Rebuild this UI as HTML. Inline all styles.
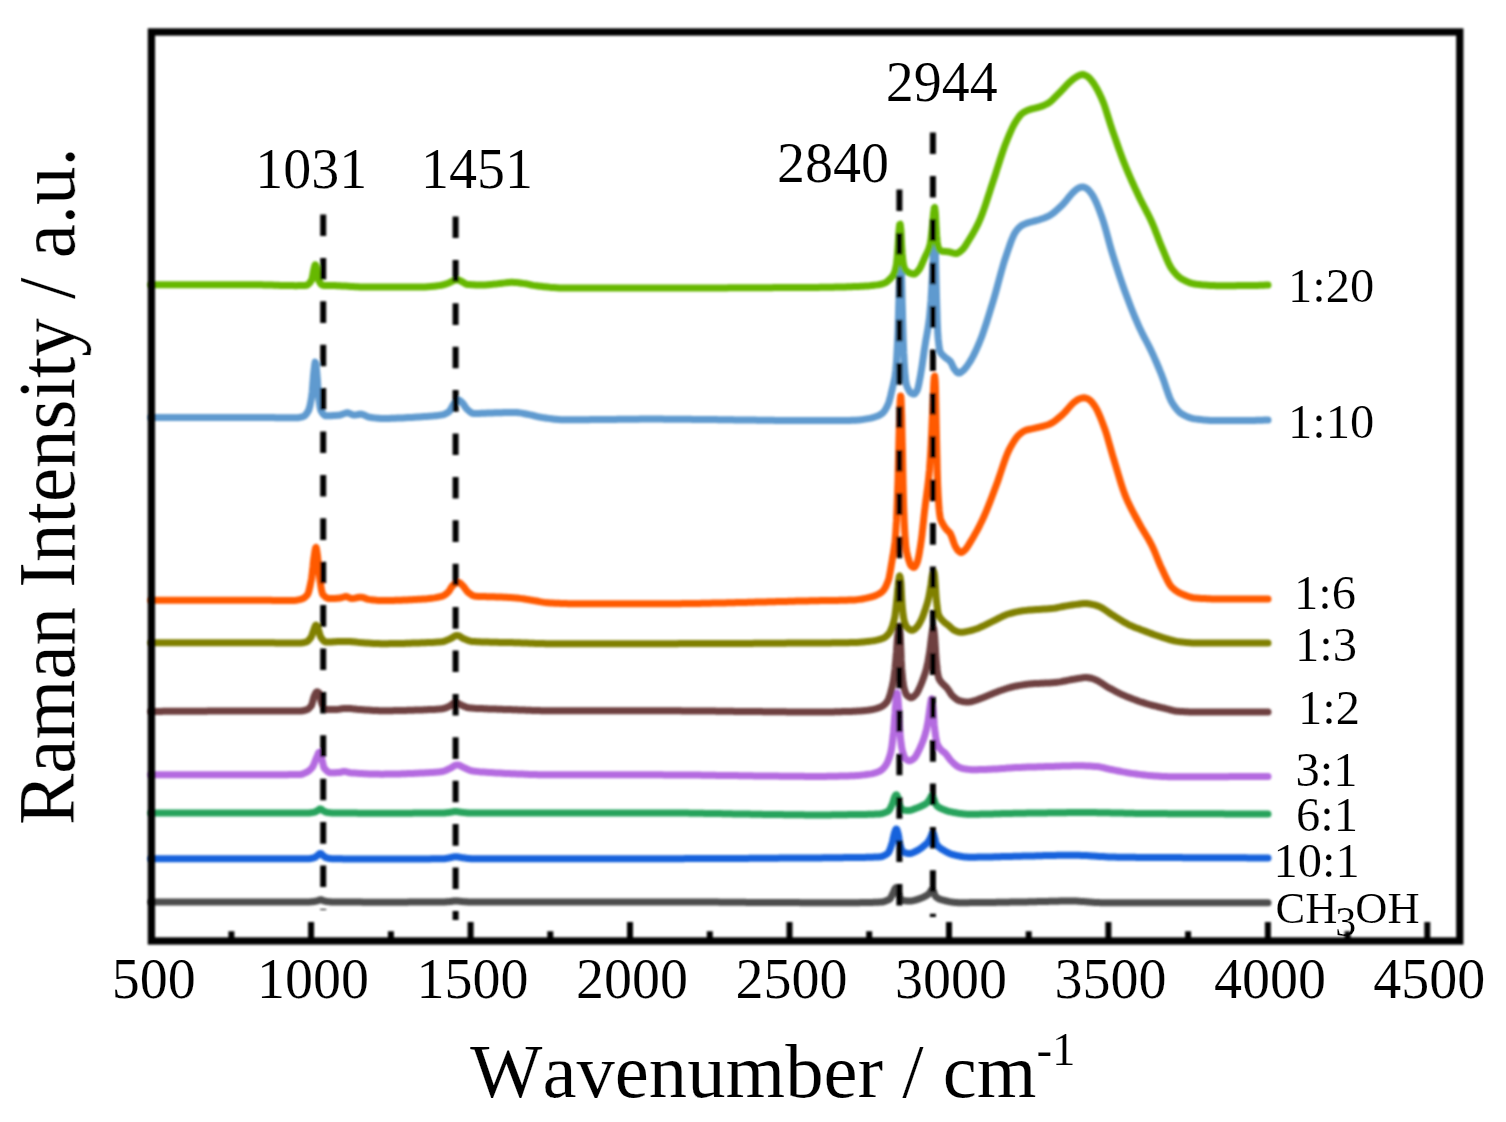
<!DOCTYPE html>
<html lang="en"><head><meta charset="utf-8"><title>Raman spectra</title>
<style>html,body{margin:0;padding:0;background:#fff}body{width:1506px;height:1122px;overflow:hidden}svg{display:block}</style></head>
<body>
<svg width="1506" height="1122" viewBox="0 0 1506 1122" role="img" aria-label="Raman spectra of methanol-water mixtures">
<defs><filter id="bl" x="0" y="0" width="1506" height="1122" filterUnits="userSpaceOnUse"><feGaussianBlur stdDeviation="0.8"/></filter><filter id="bt" x="0" y="0" width="1506" height="1122" filterUnits="userSpaceOnUse"><feGaussianBlur stdDeviation="0.5"/></filter></defs>
<rect width="1506" height="1122" fill="#fff"/>
<g filter="url(#bl)">
<g fill="none" stroke-width="7" stroke-linecap="round" stroke-linejoin="round">
<path stroke="#4D4D4D" d="M151.0 901.9 L152.5 901.9 L154.0 901.9 L155.5 901.9 L157.0 901.9 L158.5 901.9 L160.0 901.9 L161.5 901.9 L163.0 901.9 L164.5 901.9 L166.0 901.9 L167.5 901.9 L169.0 901.9 L170.5 901.9 L172.0 901.9 L173.5 901.9 L175.0 901.9 L176.5 901.9 L178.0 901.9 L179.5 901.9 L181.0 901.9 L182.5 901.9 L184.0 901.9 L185.5 901.9 L187.0 901.9 L188.5 901.9 L190.0 901.9 L191.5 901.9 L193.0 901.9 L194.5 901.9 L196.0 901.9 L197.5 901.9 L199.0 901.9 L200.5 901.9 L202.0 901.9 L203.5 901.9 L205.0 901.9 L206.5 901.9 L208.0 901.9 L209.5 901.9 L211.0 901.9 L212.5 901.9 L214.0 901.9 L215.5 901.9 L217.0 901.9 L218.5 901.9 L220.0 901.9 L221.5 901.9 L223.0 901.9 L224.5 901.9 L226.0 901.9 L227.5 901.9 L229.0 901.9 L230.5 901.9 L232.0 901.9 L233.5 901.9 L235.0 901.9 L236.5 901.9 L238.0 901.9 L239.5 901.9 L241.0 901.9 L242.5 901.9 L244.0 901.9 L245.5 901.9 L247.0 901.9 L248.5 901.9 L250.0 901.9 L251.5 901.9 L253.0 901.9 L254.5 901.9 L256.0 901.9 L257.5 901.9 L259.0 901.9 L260.5 901.9 L262.0 901.9 L263.5 901.9 L265.0 901.9 L266.5 901.9 L268.0 901.9 L269.5 901.9 L271.0 901.9 L272.5 901.9 L274.0 901.9 L275.5 901.9 L277.0 901.9 L278.5 901.9 L280.0 901.9 L281.5 901.9 L283.0 901.9 L284.5 901.9 L286.0 901.9 L287.5 901.9 L289.0 901.9 L290.5 901.9 L292.0 901.9 L293.5 901.9 L295.0 901.9 L296.5 901.9 L298.0 901.9 L299.5 901.9 L300.2 901.9 L300.7 901.9 L301.0 901.9 L301.2 901.9 L301.7 901.9 L302.2 901.9 L302.5 901.9 L302.7 901.9 L303.2 901.9 L303.7 901.9 L304.0 901.9 L304.2 901.9 L304.7 901.9 L305.2 901.9 L305.5 901.9 L305.7 901.9 L306.2 901.9 L306.7 901.9 L307.0 901.9 L307.2 901.9 L307.7 901.9 L308.2 901.9 L308.5 901.9 L308.7 901.9 L309.2 901.9 L309.7 901.9 L310.0 901.9 L310.2 901.9 L310.7 901.8 L311.2 901.8 L311.5 901.8 L311.7 901.8 L312.2 901.7 L312.7 901.7 L313.0 901.6 L313.2 901.6 L313.7 901.5 L314.2 901.5 L314.5 901.4 L314.7 901.4 L315.2 901.3 L315.7 901.2 L316.0 901.2 L316.2 901.1 L316.7 901.0 L317.2 900.9 L317.5 900.8 L317.7 900.7 L318.2 900.6 L318.7 900.4 L319.0 900.3 L319.2 900.1 L319.7 899.9 L320.2 899.8 L320.5 899.7 L320.7 899.7 L321.2 899.8 L321.7 900.0 L322.0 900.1 L322.2 900.2 L322.7 900.5 L323.2 900.6 L323.5 900.7 L323.7 900.8 L324.2 900.9 L324.7 901.0 L325.0 901.1 L325.2 901.2 L325.7 901.3 L326.2 901.3 L326.5 901.4 L326.7 901.4 L327.2 901.5 L327.7 901.6 L328.0 901.6 L328.2 901.6 L328.7 901.7 L329.2 901.7 L329.5 901.8 L329.7 901.8 L330.2 901.8 L330.7 901.8 L331.0 901.9 L331.2 901.9 L331.7 901.9 L332.2 901.9 L332.5 901.9 L332.7 901.9 L333.2 901.9 L333.7 901.9 L334.0 901.9 L334.2 901.9 L334.7 901.9 L335.5 901.9 L337.0 901.9 L338.5 902.0 L340.0 902.0 L341.5 902.0 L343.0 902.0 L344.5 902.0 L346.0 902.0 L347.5 902.1 L349.0 902.1 L350.5 902.1 L352.0 902.1 L353.5 902.1 L355.0 902.1 L356.5 902.1 L358.0 902.1 L359.5 902.1 L361.0 902.1 L362.5 902.2 L364.0 902.2 L365.5 902.2 L367.0 902.2 L368.5 902.2 L370.0 902.2 L371.5 902.2 L373.0 902.2 L374.5 902.2 L376.0 902.2 L377.5 902.2 L379.0 902.2 L380.5 902.2 L382.0 902.2 L383.5 902.2 L385.0 902.2 L386.5 902.2 L388.0 902.2 L389.5 902.2 L391.0 902.2 L392.5 902.2 L394.0 902.2 L395.5 902.2 L397.0 902.2 L398.5 902.2 L400.0 902.2 L401.5 902.2 L403.0 902.2 L404.5 902.2 L406.0 902.2 L407.5 902.2 L409.0 902.1 L410.5 902.1 L412.0 902.1 L413.5 902.1 L415.0 902.1 L416.5 902.1 L418.0 902.1 L419.5 902.1 L421.0 902.1 L422.5 902.1 L424.0 902.1 L425.5 902.1 L427.0 902.0 L428.5 902.0 L430.0 902.0 L431.5 902.0 L433.0 902.0 L434.5 902.0 L436.0 902.0 L437.5 902.0 L439.0 901.9 L440.2 901.9 L440.5 901.9 L440.7 901.9 L441.2 901.9 L441.7 901.9 L442.0 901.9 L442.2 901.9 L442.7 901.9 L443.2 901.9 L443.5 901.9 L443.7 901.9 L444.2 901.9 L444.7 901.9 L445.0 901.9 L445.2 901.9 L445.7 901.9 L446.2 901.8 L446.5 901.8 L446.7 901.8 L447.2 901.8 L447.7 901.8 L448.0 901.7 L448.2 901.7 L448.7 901.7 L449.2 901.6 L449.5 901.6 L449.7 901.6 L450.2 901.5 L450.7 901.5 L451.0 901.5 L451.2 901.4 L451.7 901.4 L452.2 901.3 L452.5 901.3 L452.7 901.2 L453.2 901.1 L453.7 901.1 L454.0 901.0 L454.2 901.0 L454.7 900.9 L455.2 900.9 L455.5 900.9 L455.7 900.9 L456.2 900.9 L456.7 900.9 L457.0 900.9 L457.2 900.9 L457.7 901.0 L458.2 901.0 L458.5 901.1 L458.7 901.1 L459.2 901.2 L459.7 901.2 L460.0 901.3 L460.2 901.3 L460.7 901.4 L461.2 901.4 L461.5 901.5 L461.7 901.5 L462.2 901.5 L462.7 901.6 L463.0 901.6 L463.2 901.6 L463.7 901.7 L464.2 901.7 L464.5 901.7 L464.7 901.7 L465.2 901.8 L465.7 901.8 L466.0 901.8 L466.2 901.8 L466.7 901.8 L467.2 901.8 L467.5 901.9 L467.7 901.9 L468.2 901.9 L468.7 901.9 L469.0 901.9 L469.2 901.9 L469.7 901.9 L470.2 901.9 L470.5 901.9 L470.7 901.9 L471.2 901.9 L471.7 901.9 L472.0 901.9 L472.2 901.9 L472.7 901.9 L473.2 901.9 L473.5 901.9 L473.7 901.9 L474.2 901.9 L474.7 901.9 L475.0 901.9 L476.5 901.9 L478.0 901.9 L479.5 901.9 L481.0 901.9 L482.5 901.9 L484.0 901.9 L485.5 901.9 L487.0 901.9 L488.5 901.9 L490.0 901.9 L491.5 901.9 L493.0 901.9 L494.5 901.9 L496.0 901.9 L497.5 901.9 L499.0 901.9 L500.5 901.9 L502.0 901.9 L503.5 901.9 L505.0 901.9 L506.5 901.9 L508.0 901.9 L509.5 901.9 L511.0 901.9 L512.5 901.9 L514.0 901.9 L515.5 901.9 L517.0 901.9 L518.5 901.9 L520.0 901.9 L521.5 901.9 L523.0 901.9 L524.5 901.9 L526.0 901.9 L527.5 901.9 L529.0 901.9 L530.5 901.9 L532.0 901.9 L533.5 901.9 L535.0 901.9 L536.5 901.9 L538.0 901.9 L539.5 901.9 L541.0 901.9 L542.5 901.9 L544.0 901.9 L545.5 901.9 L547.0 901.9 L548.5 901.9 L550.0 901.9 L551.5 901.9 L553.0 901.9 L554.5 901.9 L556.0 901.9 L557.5 901.9 L559.0 901.9 L560.5 901.9 L562.0 901.9 L563.5 901.9 L565.0 901.9 L566.5 901.9 L568.0 901.9 L569.5 901.9 L571.0 901.9 L572.5 901.9 L574.0 901.9 L575.5 901.9 L577.0 901.9 L578.5 901.9 L580.0 901.9 L581.5 901.9 L583.0 901.9 L584.5 901.9 L586.0 901.9 L587.5 901.9 L589.0 901.9 L590.5 901.9 L592.0 901.9 L593.5 901.9 L595.0 901.9 L596.5 901.9 L598.0 901.9 L599.5 901.9 L601.0 901.9 L602.5 901.9 L604.0 901.9 L605.5 901.9 L607.0 901.9 L608.5 901.9 L610.0 901.9 L611.5 901.9 L613.0 901.9 L614.5 901.9 L616.0 901.9 L617.5 901.9 L619.0 901.9 L620.5 901.9 L622.0 901.9 L623.5 901.9 L625.0 901.9 L626.5 901.9 L628.0 901.9 L629.5 901.9 L631.0 901.9 L632.5 901.9 L634.0 901.9 L635.5 901.9 L637.0 901.9 L638.5 901.9 L640.0 901.9 L641.5 901.9 L643.0 901.9 L644.5 901.9 L646.0 901.9 L647.5 901.9 L649.0 901.9 L650.5 901.9 L652.0 901.9 L653.5 901.9 L655.0 901.9 L656.5 901.9 L658.0 901.9 L659.5 901.9 L661.0 901.9 L662.5 901.9 L664.0 901.9 L665.5 901.9 L667.0 901.9 L668.5 901.9 L670.0 901.9 L671.5 901.9 L673.0 901.9 L674.5 901.9 L676.0 901.9 L677.5 901.9 L679.0 901.9 L680.5 901.9 L682.0 901.9 L683.5 901.9 L685.0 901.9 L686.5 902.0 L688.0 902.0 L689.5 902.0 L691.0 902.0 L692.5 902.0 L694.0 902.0 L695.5 902.0 L697.0 902.0 L698.5 902.0 L700.0 902.0 L701.5 902.0 L703.0 902.0 L704.5 902.1 L706.0 902.1 L707.5 902.1 L709.0 902.1 L710.5 902.1 L712.0 902.1 L713.5 902.1 L715.0 902.1 L716.5 902.1 L718.0 902.1 L719.5 902.2 L721.0 902.2 L722.5 902.2 L724.0 902.2 L725.5 902.2 L727.0 902.2 L728.5 902.2 L730.0 902.2 L731.5 902.2 L733.0 902.3 L734.5 902.3 L736.0 902.3 L737.5 902.3 L739.0 902.3 L740.5 902.3 L742.0 902.3 L743.5 902.3 L745.0 902.3 L746.5 902.4 L748.0 902.4 L749.5 902.4 L751.0 902.4 L752.5 902.4 L754.0 902.4 L755.5 902.4 L757.0 902.4 L758.5 902.4 L760.0 902.4 L761.5 902.5 L763.0 902.5 L764.5 902.5 L766.0 902.5 L767.5 902.5 L769.0 902.5 L770.5 902.5 L772.0 902.5 L773.5 902.5 L775.0 902.5 L776.5 902.5 L778.0 902.6 L779.5 902.6 L781.0 902.6 L782.5 902.6 L784.0 902.6 L785.5 902.6 L787.0 902.6 L788.5 902.6 L790.0 902.6 L791.5 902.6 L793.0 902.6 L794.5 902.6 L796.0 902.6 L797.5 902.6 L799.0 902.6 L800.5 902.7 L802.0 902.7 L803.5 902.7 L805.0 902.7 L806.5 902.7 L808.0 902.7 L809.5 902.7 L811.0 902.7 L812.5 902.7 L814.0 902.7 L815.5 902.7 L817.0 902.7 L818.5 902.7 L820.0 902.7 L821.5 902.7 L823.0 902.7 L824.5 902.7 L826.0 902.7 L827.5 902.7 L829.0 902.7 L830.5 902.7 L832.0 902.7 L833.5 902.7 L835.0 902.7 L836.5 902.7 L838.0 902.7 L839.5 902.7 L841.0 902.7 L842.5 902.7 L844.0 902.7 L845.5 902.7 L847.0 902.7 L848.5 902.7 L850.0 902.7 L851.5 902.7 L853.0 902.7 L854.5 902.7 L856.0 902.7 L857.5 902.7 L859.0 902.7 L860.5 902.6 L862.0 902.6 L863.5 902.6 L865.0 902.6 L866.5 902.6 L868.0 902.5 L869.5 902.5 L871.0 902.4 L872.5 902.4 L874.0 902.3 L875.5 902.3 L877.0 902.2 L878.5 902.2 L880.0 902.1 L880.2 902.1 L880.7 902.1 L881.2 902.0 L881.5 902.0 L881.7 902.0 L882.2 901.9 L882.7 901.9 L883.0 901.8 L883.2 901.8 L883.7 901.6 L884.2 901.5 L884.5 901.4 L884.7 901.3 L885.2 901.2 L885.7 901.0 L886.0 900.9 L886.2 900.8 L886.7 900.6 L887.2 900.4 L887.5 900.2 L887.7 900.1 L888.2 899.9 L888.7 899.6 L889.0 899.5 L889.2 899.4 L889.7 899.0 L890.2 898.5 L890.5 898.1 L890.7 897.8 L891.2 896.9 L891.7 895.9 L892.0 895.4 L892.2 894.9 L892.7 893.8 L893.2 892.7 L893.5 892.2 L893.7 891.5 L894.2 890.3 L894.7 889.2 L895.0 888.8 L895.2 888.4 L895.7 887.8 L896.2 887.4 L896.5 887.4 L896.7 887.6 L897.2 888.4 L897.7 889.5 L898.0 890.2 L898.2 891.2 L898.7 893.4 L899.2 895.4 L899.5 896.1 L899.7 896.7 L900.2 897.9 L900.7 898.9 L901.0 899.3 L901.2 899.6 L901.7 900.1 L902.2 900.4 L902.5 900.4 L902.7 900.5 L903.2 900.5 L903.7 900.6 L904.0 900.6 L904.2 900.7 L904.7 900.7 L905.2 900.8 L905.5 900.8 L905.7 900.8 L906.2 900.9 L906.7 900.9 L907.0 900.9 L907.2 900.9 L907.7 901.0 L908.2 901.0 L908.5 901.0 L908.7 901.0 L909.2 901.0 L909.7 901.0 L910.0 901.0 L910.2 901.0 L910.7 901.0 L911.2 900.9 L911.5 900.9 L911.7 900.9 L912.2 900.8 L912.7 900.7 L913.0 900.7 L913.2 900.6 L913.7 900.5 L914.2 900.4 L914.5 900.3 L914.7 900.3 L915.2 900.1 L915.7 900.0 L916.0 899.9 L916.2 899.8 L916.7 899.7 L917.2 899.5 L917.5 899.4 L917.7 899.3 L918.2 899.2 L918.7 899.0 L919.0 898.9 L919.2 898.8 L919.7 898.7 L920.2 898.5 L920.5 898.4 L920.7 898.3 L921.2 898.1 L921.7 897.9 L922.0 897.8 L922.2 897.7 L922.7 897.5 L923.2 897.2 L923.5 897.1 L923.7 897.0 L924.2 896.7 L924.7 896.5 L925.0 896.4 L925.2 896.2 L925.7 896.0 L926.2 895.7 L926.5 895.5 L926.7 895.4 L927.2 895.1 L927.7 894.7 L928.0 894.5 L928.2 894.3 L928.7 893.9 L929.2 893.3 L929.5 893.0 L929.7 892.7 L930.2 892.0 L930.7 891.2 L931.0 890.9 L931.2 890.4 L931.7 889.5 L932.2 889.1 L932.5 889.2 L932.7 889.6 L933.2 890.7 L933.7 891.8 L934.0 892.5 L934.2 893.3 L934.7 894.8 L935.2 895.9 L935.5 896.2 L935.7 896.5 L936.2 897.0 L936.7 897.4 L937.0 897.6 L937.2 897.8 L937.7 898.1 L938.2 898.4 L938.5 898.5 L938.7 898.7 L939.2 898.9 L939.7 899.1 L940.0 899.2 L940.2 899.3 L940.7 899.5 L941.2 899.6 L941.5 899.7 L941.7 899.8 L942.2 899.9 L942.7 900.1 L943.0 900.1 L943.2 900.2 L943.7 900.3 L944.2 900.4 L944.5 900.5 L944.7 900.6 L945.2 900.7 L945.7 900.8 L946.0 900.9 L946.2 900.9 L946.7 901.0 L947.2 901.2 L947.5 901.2 L947.7 901.3 L948.2 901.4 L948.7 901.5 L949.0 901.5 L949.2 901.6 L949.7 901.7 L950.2 901.8 L950.5 901.8 L950.7 901.9 L951.2 902.0 L951.7 902.0 L952.0 902.1 L952.2 902.1 L952.7 902.2 L953.2 902.3 L953.5 902.3 L953.7 902.3 L954.2 902.4 L954.7 902.4 L955.0 902.5 L955.2 902.5 L955.7 902.5 L956.2 902.6 L956.5 902.6 L956.7 902.6 L957.2 902.6 L957.7 902.6 L958.0 902.7 L958.2 902.7 L958.7 902.7 L959.2 902.7 L959.5 902.7 L959.7 902.7 L960.2 902.7 L960.7 902.7 L961.0 902.7 L961.2 902.7 L961.7 902.7 L962.2 902.7 L962.5 902.7 L962.7 902.7 L963.2 902.7 L963.7 902.7 L964.0 902.7 L964.2 902.7 L964.7 902.7 L965.5 902.7 L967.0 902.7 L968.5 902.7 L970.0 902.6 L971.5 902.6 L973.0 902.6 L974.5 902.6 L976.0 902.6 L977.5 902.6 L979.0 902.6 L980.5 902.6 L982.0 902.5 L983.5 902.5 L985.0 902.5 L986.5 902.5 L988.0 902.5 L989.5 902.5 L991.0 902.4 L992.5 902.4 L994.0 902.4 L995.5 902.4 L997.0 902.3 L998.5 902.3 L1000.0 902.3 L1001.5 902.3 L1003.0 902.3 L1004.5 902.2 L1006.0 902.2 L1007.5 902.2 L1009.0 902.2 L1010.5 902.1 L1012.0 902.1 L1013.5 902.1 L1015.0 902.1 L1016.5 902.1 L1018.0 902.0 L1019.5 902.0 L1021.0 902.0 L1022.5 902.0 L1024.0 901.9 L1025.5 901.9 L1027.0 901.9 L1028.5 901.8 L1030.0 901.8 L1031.5 901.8 L1033.0 901.7 L1034.5 901.7 L1036.0 901.7 L1037.5 901.6 L1039.0 901.6 L1040.5 901.6 L1042.0 901.5 L1043.5 901.5 L1045.0 901.4 L1046.5 901.4 L1048.0 901.4 L1049.5 901.3 L1051.0 901.3 L1052.5 901.3 L1054.0 901.2 L1055.5 901.2 L1057.0 901.2 L1058.5 901.2 L1060.0 901.1 L1061.5 901.1 L1063.0 901.1 L1064.5 901.1 L1066.0 901.1 L1067.5 901.0 L1069.0 901.0 L1070.5 901.0 L1072.0 901.0 L1073.5 901.0 L1075.0 901.1 L1076.5 901.1 L1078.0 901.2 L1079.5 901.3 L1081.0 901.4 L1082.5 901.5 L1084.0 901.6 L1085.5 901.7 L1087.0 901.8 L1088.5 902.0 L1090.0 902.1 L1091.5 902.2 L1093.0 902.3 L1094.5 902.4 L1096.0 902.5 L1097.5 902.6 L1099.0 902.6 L1100.5 902.7 L1102.0 902.7 L1103.5 902.7 L1105.0 902.7 L1106.5 902.7 L1108.0 902.7 L1109.5 902.7 L1111.0 902.7 L1112.5 902.7 L1114.0 902.7 L1115.5 902.7 L1117.0 902.7 L1118.5 902.7 L1120.0 902.7 L1121.5 902.7 L1123.0 902.7 L1124.5 902.7 L1126.0 902.7 L1127.5 902.7 L1129.0 902.7 L1130.5 902.7 L1132.0 902.7 L1133.5 902.7 L1135.0 902.7 L1136.5 902.7 L1138.0 902.7 L1139.5 902.7 L1141.0 902.7 L1142.5 902.7 L1144.0 902.7 L1145.5 902.7 L1147.0 902.7 L1148.5 902.7 L1150.0 902.7 L1151.5 902.7 L1153.0 902.7 L1154.5 902.7 L1156.0 902.7 L1157.5 902.7 L1159.0 902.7 L1160.5 902.7 L1162.0 902.7 L1163.5 902.7 L1165.0 902.7 L1166.5 902.7 L1168.0 902.7 L1169.5 902.7 L1171.0 902.7 L1172.5 902.7 L1174.0 902.7 L1175.5 902.7 L1177.0 902.7 L1178.5 902.7 L1180.0 902.7 L1181.5 902.7 L1183.0 902.7 L1184.5 902.7 L1186.0 902.7 L1187.5 902.7 L1189.0 902.7 L1190.5 902.7 L1192.0 902.7 L1193.5 902.7 L1195.0 902.7 L1196.5 902.7 L1198.0 902.7 L1199.5 902.7 L1201.0 902.7 L1202.5 902.7 L1204.0 902.7 L1205.5 902.7 L1207.0 902.7 L1208.5 902.7 L1210.0 902.7 L1211.5 902.7 L1213.0 902.7 L1214.5 902.7 L1216.0 902.7 L1217.5 902.7 L1219.0 902.7 L1220.5 902.7 L1222.0 902.7 L1223.5 902.7 L1225.0 902.7 L1226.5 902.7 L1228.0 902.7 L1229.5 902.7 L1231.0 902.7 L1232.5 902.7 L1234.0 902.7 L1235.5 902.7 L1237.0 902.7 L1238.5 902.7 L1240.0 902.7 L1241.5 902.7 L1243.0 902.7 L1244.5 902.7 L1246.0 902.7 L1247.5 902.7 L1249.0 902.7 L1250.5 902.7 L1252.0 902.7 L1253.5 902.7 L1255.0 902.7 L1256.5 902.7 L1258.0 902.7 L1259.5 902.7 L1261.0 902.7 L1262.5 902.7 L1264.0 902.7 L1265.5 902.7 L1267.0 902.7 L1268.0 902.7"/>
<path stroke="#1762DC" d="M151.0 858.7 L152.5 858.7 L154.0 858.7 L155.5 858.7 L157.0 858.7 L158.5 858.7 L160.0 858.7 L161.5 858.7 L163.0 858.7 L164.5 858.7 L166.0 858.7 L167.5 858.7 L169.0 858.7 L170.5 858.7 L172.0 858.7 L173.5 858.7 L175.0 858.7 L176.5 858.7 L178.0 858.7 L179.5 858.7 L181.0 858.7 L182.5 858.7 L184.0 858.7 L185.5 858.7 L187.0 858.7 L188.5 858.7 L190.0 858.7 L191.5 858.7 L193.0 858.7 L194.5 858.7 L196.0 858.7 L197.5 858.7 L199.0 858.7 L200.5 858.7 L202.0 858.7 L203.5 858.7 L205.0 858.7 L206.5 858.7 L208.0 858.7 L209.5 858.7 L211.0 858.7 L212.5 858.7 L214.0 858.7 L215.5 858.7 L217.0 858.7 L218.5 858.7 L220.0 858.7 L221.5 858.7 L223.0 858.7 L224.5 858.7 L226.0 858.7 L227.5 858.7 L229.0 858.7 L230.5 858.7 L232.0 858.7 L233.5 858.7 L235.0 858.7 L236.5 858.7 L238.0 858.7 L239.5 858.7 L241.0 858.7 L242.5 858.7 L244.0 858.7 L245.5 858.7 L247.0 858.7 L248.5 858.7 L250.0 858.7 L251.5 858.7 L253.0 858.7 L254.5 858.7 L256.0 858.7 L257.5 858.7 L259.0 858.7 L260.5 858.7 L262.0 858.7 L263.5 858.7 L265.0 858.7 L266.5 858.7 L268.0 858.7 L269.5 858.7 L271.0 858.7 L272.5 858.7 L274.0 858.7 L275.5 858.7 L277.0 858.7 L278.5 858.7 L280.0 858.7 L281.5 858.7 L283.0 858.7 L284.5 858.7 L286.0 858.7 L287.5 858.7 L289.0 858.7 L290.5 858.7 L292.0 858.7 L293.5 858.7 L295.0 858.7 L296.5 858.7 L298.0 858.7 L299.5 858.7 L300.2 858.7 L300.7 858.7 L301.0 858.7 L301.2 858.7 L301.7 858.7 L302.2 858.7 L302.5 858.7 L302.7 858.7 L303.2 858.7 L303.7 858.7 L304.0 858.7 L304.2 858.7 L304.7 858.7 L305.2 858.7 L305.5 858.7 L305.7 858.7 L306.2 858.7 L306.7 858.7 L307.0 858.7 L307.2 858.7 L307.7 858.7 L308.2 858.7 L308.5 858.7 L308.7 858.7 L309.2 858.7 L309.7 858.7 L310.0 858.6 L310.2 858.6 L310.7 858.5 L311.2 858.4 L311.5 858.4 L311.7 858.3 L312.2 858.2 L312.7 858.1 L313.0 858.0 L313.2 858.0 L313.7 857.8 L314.2 857.7 L314.5 857.6 L314.7 857.5 L315.2 857.2 L315.7 856.9 L316.0 856.7 L316.2 856.5 L316.7 856.1 L317.2 855.7 L317.5 855.5 L317.7 855.3 L318.2 854.9 L318.7 854.4 L319.0 854.2 L319.2 853.9 L319.7 853.6 L320.2 853.4 L320.5 853.4 L320.7 853.5 L321.2 853.8 L321.7 854.3 L322.0 854.5 L322.2 854.8 L322.7 855.2 L323.2 855.6 L323.5 855.8 L323.7 856.0 L324.2 856.4 L324.7 856.8 L325.0 857.0 L325.2 857.2 L325.7 857.4 L326.2 857.7 L326.5 857.7 L326.7 857.8 L327.2 857.9 L327.7 858.1 L328.0 858.1 L328.2 858.2 L328.7 858.3 L329.2 858.4 L329.5 858.4 L329.7 858.5 L330.2 858.6 L330.7 858.6 L331.0 858.6 L331.2 858.7 L331.7 858.7 L332.2 858.7 L332.5 858.7 L332.7 858.7 L333.2 858.7 L333.7 858.7 L334.0 858.7 L334.2 858.7 L334.7 858.7 L335.5 858.8 L337.0 858.8 L338.5 858.8 L340.0 858.8 L341.5 858.8 L343.0 858.9 L344.5 858.9 L346.0 858.9 L347.5 858.9 L349.0 858.9 L350.5 858.9 L352.0 858.9 L353.5 858.9 L355.0 859.0 L356.5 859.0 L358.0 859.0 L359.5 859.0 L361.0 859.0 L362.5 859.0 L364.0 859.0 L365.5 859.0 L367.0 859.0 L368.5 859.0 L370.0 859.0 L371.5 859.0 L373.0 859.0 L374.5 859.0 L376.0 859.0 L377.5 859.0 L379.0 859.0 L380.5 859.0 L382.0 859.0 L383.5 859.0 L385.0 859.0 L386.5 859.0 L388.0 859.0 L389.5 859.0 L391.0 859.0 L392.5 859.0 L394.0 859.0 L395.5 859.0 L397.0 859.0 L398.5 859.0 L400.0 859.0 L401.5 859.0 L403.0 859.0 L404.5 859.0 L406.0 859.0 L407.5 859.0 L409.0 859.0 L410.5 859.0 L412.0 859.0 L413.5 859.0 L415.0 859.0 L416.5 859.0 L418.0 858.9 L419.5 858.9 L421.0 858.9 L422.5 858.9 L424.0 858.9 L425.5 858.9 L427.0 858.9 L428.5 858.9 L430.0 858.9 L431.5 858.8 L433.0 858.8 L434.5 858.8 L436.0 858.8 L437.5 858.8 L439.0 858.8 L440.2 858.7 L440.5 858.7 L440.7 858.7 L441.2 858.7 L441.7 858.7 L442.0 858.7 L442.2 858.7 L442.7 858.7 L443.2 858.7 L443.5 858.7 L443.7 858.7 L444.2 858.7 L444.7 858.7 L445.0 858.6 L445.2 858.6 L445.7 858.5 L446.2 858.5 L446.5 858.4 L446.7 858.4 L447.2 858.3 L447.7 858.2 L448.0 858.1 L448.2 858.1 L448.7 858.0 L449.2 857.9 L449.5 857.9 L449.7 857.8 L450.2 857.7 L450.7 857.6 L451.0 857.5 L451.2 857.5 L451.7 857.3 L452.2 857.2 L452.5 857.2 L452.7 857.1 L453.2 857.0 L453.7 856.9 L454.0 856.8 L454.2 856.8 L454.7 856.7 L455.2 856.7 L455.5 856.7 L455.7 856.7 L456.2 856.7 L456.7 856.8 L457.0 856.8 L457.2 856.8 L457.7 856.9 L458.2 856.9 L458.5 857.0 L458.7 857.0 L459.2 857.1 L459.7 857.2 L460.0 857.2 L460.2 857.3 L460.7 857.4 L461.2 857.5 L461.5 857.5 L461.7 857.6 L462.2 857.7 L462.7 857.7 L463.0 857.8 L463.2 857.8 L463.7 857.9 L464.2 857.9 L464.5 858.0 L464.7 858.0 L465.2 858.1 L465.7 858.1 L466.0 858.2 L466.2 858.2 L466.7 858.3 L467.2 858.3 L467.5 858.4 L467.7 858.4 L468.2 858.4 L468.7 858.5 L469.0 858.5 L469.2 858.6 L469.7 858.6 L470.2 858.6 L470.5 858.7 L470.7 858.7 L471.2 858.7 L471.7 858.7 L472.0 858.7 L472.2 858.7 L472.7 858.7 L473.2 858.7 L473.5 858.7 L473.7 858.7 L474.2 858.7 L474.7 858.7 L475.0 858.7 L476.5 858.7 L478.0 858.7 L479.5 858.7 L481.0 858.7 L482.5 858.7 L484.0 858.7 L485.5 858.7 L487.0 858.7 L488.5 858.7 L490.0 858.7 L491.5 858.7 L493.0 858.7 L494.5 858.7 L496.0 858.7 L497.5 858.7 L499.0 858.7 L500.5 858.7 L502.0 858.7 L503.5 858.7 L505.0 858.7 L506.5 858.7 L508.0 858.7 L509.5 858.7 L511.0 858.7 L512.5 858.7 L514.0 858.7 L515.5 858.7 L517.0 858.7 L518.5 858.7 L520.0 858.7 L521.5 858.7 L523.0 858.7 L524.5 858.7 L526.0 858.7 L527.5 858.7 L529.0 858.7 L530.5 858.7 L532.0 858.7 L533.5 858.7 L535.0 858.7 L536.5 858.7 L538.0 858.7 L539.5 858.7 L541.0 858.7 L542.5 858.7 L544.0 858.7 L545.5 858.7 L547.0 858.7 L548.5 858.7 L550.0 858.7 L551.5 858.7 L553.0 858.7 L554.5 858.7 L556.0 858.7 L557.5 858.7 L559.0 858.7 L560.5 858.7 L562.0 858.7 L563.5 858.7 L565.0 858.7 L566.5 858.7 L568.0 858.7 L569.5 858.7 L571.0 858.7 L572.5 858.7 L574.0 858.7 L575.5 858.7 L577.0 858.7 L578.5 858.7 L580.0 858.7 L581.5 858.7 L583.0 858.7 L584.5 858.7 L586.0 858.7 L587.5 858.7 L589.0 858.7 L590.5 858.7 L592.0 858.7 L593.5 858.7 L595.0 858.7 L596.5 858.7 L598.0 858.7 L599.5 858.7 L601.0 858.7 L602.5 858.7 L604.0 858.7 L605.5 858.7 L607.0 858.7 L608.5 858.7 L610.0 858.7 L611.5 858.7 L613.0 858.7 L614.5 858.7 L616.0 858.7 L617.5 858.7 L619.0 858.7 L620.5 858.7 L622.0 858.7 L623.5 858.7 L625.0 858.7 L626.5 858.7 L628.0 858.7 L629.5 858.7 L631.0 858.7 L632.5 858.7 L634.0 858.7 L635.5 858.7 L637.0 858.7 L638.5 858.7 L640.0 858.7 L641.5 858.7 L643.0 858.7 L644.5 858.7 L646.0 858.7 L647.5 858.7 L649.0 858.7 L650.5 858.7 L652.0 858.7 L653.5 858.7 L655.0 858.7 L656.5 858.7 L658.0 858.7 L659.5 858.7 L661.0 858.7 L662.5 858.7 L664.0 858.7 L665.5 858.7 L667.0 858.7 L668.5 858.7 L670.0 858.7 L671.5 858.7 L673.0 858.7 L674.5 858.7 L676.0 858.7 L677.5 858.7 L679.0 858.7 L680.5 858.7 L682.0 858.7 L683.5 858.7 L685.0 858.6 L686.5 858.6 L688.0 858.6 L689.5 858.6 L691.0 858.6 L692.5 858.6 L694.0 858.6 L695.5 858.6 L697.0 858.6 L698.5 858.6 L700.0 858.6 L701.5 858.6 L703.0 858.6 L704.5 858.6 L706.0 858.6 L707.5 858.6 L709.0 858.6 L710.5 858.6 L712.0 858.5 L713.5 858.5 L715.0 858.5 L716.5 858.5 L718.0 858.5 L719.5 858.5 L721.0 858.5 L722.5 858.5 L724.0 858.5 L725.5 858.5 L727.0 858.5 L728.5 858.5 L730.0 858.5 L731.5 858.5 L733.0 858.4 L734.5 858.4 L736.0 858.4 L737.5 858.4 L739.0 858.4 L740.5 858.4 L742.0 858.4 L743.5 858.4 L745.0 858.4 L746.5 858.4 L748.0 858.4 L749.5 858.3 L751.0 858.3 L752.5 858.3 L754.0 858.3 L755.5 858.3 L757.0 858.3 L758.5 858.3 L760.0 858.3 L761.5 858.3 L763.0 858.3 L764.5 858.3 L766.0 858.2 L767.5 858.2 L769.0 858.2 L770.5 858.2 L772.0 858.2 L773.5 858.2 L775.0 858.2 L776.5 858.2 L778.0 858.2 L779.5 858.1 L781.0 858.1 L782.5 858.1 L784.0 858.1 L785.5 858.1 L787.0 858.1 L788.5 858.1 L790.0 858.1 L791.5 858.1 L793.0 858.1 L794.5 858.0 L796.0 858.0 L797.5 858.0 L799.0 858.0 L800.5 858.0 L802.0 858.0 L803.5 858.0 L805.0 858.0 L806.5 858.0 L808.0 857.9 L809.5 857.9 L811.0 857.9 L812.5 857.9 L814.0 857.9 L815.5 857.9 L817.0 857.9 L818.5 857.9 L820.0 857.9 L821.5 857.9 L823.0 857.8 L824.5 857.8 L826.0 857.8 L827.5 857.8 L829.0 857.8 L830.5 857.8 L832.0 857.8 L833.5 857.8 L835.0 857.7 L836.5 857.7 L838.0 857.7 L839.5 857.7 L841.0 857.7 L842.5 857.7 L844.0 857.6 L845.5 857.6 L847.0 857.6 L848.5 857.6 L850.0 857.6 L851.5 857.6 L853.0 857.5 L854.5 857.5 L856.0 857.5 L857.5 857.5 L859.0 857.5 L860.5 857.4 L862.0 857.4 L863.5 857.4 L865.0 857.4 L866.5 857.3 L868.0 857.3 L869.5 857.3 L871.0 857.2 L872.5 857.2 L874.0 857.1 L875.5 857.1 L877.0 857.0 L878.5 856.9 L880.0 856.8 L880.2 856.8 L880.7 856.8 L881.2 856.7 L881.5 856.6 L881.7 856.5 L882.2 856.4 L882.7 856.2 L883.0 856.1 L883.2 856.0 L883.7 855.8 L884.2 855.6 L884.5 855.4 L884.7 855.3 L885.2 855.0 L885.7 854.7 L886.0 854.6 L886.2 854.4 L886.7 854.1 L887.2 853.8 L887.5 853.6 L887.7 853.4 L888.2 852.9 L888.7 852.1 L889.0 851.6 L889.2 851.1 L889.7 850.0 L890.2 848.8 L890.5 848.1 L890.7 847.4 L891.2 845.9 L891.7 844.4 L892.0 843.6 L892.2 842.8 L892.7 840.7 L893.2 838.2 L893.5 837.0 L893.7 835.8 L894.2 833.8 L894.7 832.2 L895.0 831.5 L895.2 830.8 L895.7 829.6 L896.2 829.0 L896.5 829.0 L896.7 829.3 L897.2 830.4 L897.7 832.1 L898.0 833.0 L898.2 833.9 L898.7 836.6 L899.2 840.1 L899.5 841.7 L899.7 843.1 L900.2 845.2 L900.7 846.9 L901.0 847.7 L901.2 848.5 L901.7 849.7 L902.2 850.7 L902.5 851.0 L902.7 851.3 L903.2 851.7 L903.7 852.0 L904.0 852.1 L904.2 852.2 L904.7 852.4 L905.2 852.7 L905.5 852.8 L905.7 852.9 L906.2 853.1 L906.7 853.2 L907.0 853.3 L907.2 853.3 L907.7 853.4 L908.2 853.5 L908.5 853.5 L908.7 853.5 L909.2 853.5 L909.7 853.5 L910.0 853.5 L910.2 853.4 L910.7 853.4 L911.2 853.2 L911.5 853.2 L911.7 853.1 L912.2 852.9 L912.7 852.8 L913.0 852.7 L913.2 852.6 L913.7 852.3 L914.2 852.1 L914.5 852.0 L914.7 851.9 L915.2 851.6 L915.7 851.4 L916.0 851.3 L916.2 851.1 L916.7 850.9 L917.2 850.6 L917.5 850.5 L917.7 850.3 L918.2 850.1 L918.7 849.8 L919.0 849.6 L919.2 849.5 L919.7 849.1 L920.2 848.8 L920.5 848.6 L920.7 848.4 L921.2 848.1 L921.7 847.7 L922.0 847.5 L922.2 847.3 L922.7 846.9 L923.2 846.4 L923.5 846.2 L923.7 846.0 L924.2 845.6 L924.7 845.2 L925.0 845.0 L925.2 844.8 L925.7 844.4 L926.2 843.9 L926.5 843.7 L926.7 843.5 L927.2 843.0 L927.7 842.4 L928.0 842.0 L928.2 841.7 L928.7 840.9 L929.2 840.0 L929.5 839.6 L929.7 839.1 L930.2 838.1 L930.7 837.1 L931.0 836.6 L931.2 835.9 L931.7 834.6 L932.2 833.4 L932.5 832.9 L932.7 832.7 L933.2 833.0 L933.7 834.4 L934.0 835.3 L934.2 836.2 L934.7 837.9 L935.2 840.0 L935.5 841.1 L935.7 842.0 L936.2 843.5 L936.7 844.4 L937.0 844.8 L937.2 845.2 L937.7 845.8 L938.2 846.4 L938.5 846.6 L938.7 846.9 L939.2 847.3 L939.7 847.7 L940.0 847.9 L940.2 848.1 L940.7 848.5 L941.2 848.8 L941.5 849.0 L941.7 849.1 L942.2 849.4 L942.7 849.7 L943.0 849.9 L943.2 850.0 L943.7 850.3 L944.2 850.6 L944.5 850.8 L944.7 850.9 L945.2 851.2 L945.7 851.5 L946.0 851.7 L946.2 851.8 L946.7 852.1 L947.2 852.3 L947.5 852.5 L947.7 852.6 L948.2 852.8 L948.7 853.1 L949.0 853.2 L949.2 853.3 L949.7 853.5 L950.2 853.7 L950.5 853.8 L950.7 853.9 L951.2 854.1 L951.7 854.2 L952.0 854.3 L952.2 854.4 L952.7 854.5 L953.2 854.7 L953.5 854.7 L953.7 854.8 L954.2 854.9 L954.7 855.0 L955.0 855.1 L955.2 855.1 L955.7 855.3 L956.2 855.4 L956.5 855.4 L956.7 855.5 L957.2 855.6 L957.7 855.7 L958.0 855.8 L958.2 855.8 L958.7 855.9 L959.2 856.0 L959.5 856.1 L959.7 856.1 L960.2 856.2 L960.7 856.3 L961.0 856.4 L961.2 856.4 L961.7 856.5 L962.2 856.6 L962.5 856.6 L962.7 856.7 L963.2 856.7 L963.7 856.8 L964.0 856.8 L964.2 856.9 L964.7 856.9 L965.5 857.0 L967.0 857.1 L968.5 857.2 L970.0 857.2 L971.5 857.2 L973.0 857.2 L974.5 857.2 L976.0 857.2 L977.5 857.1 L979.0 857.1 L980.5 857.1 L982.0 857.1 L983.5 857.1 L985.0 857.0 L986.5 857.0 L988.0 857.0 L989.5 856.9 L991.0 856.9 L992.5 856.9 L994.0 856.8 L995.5 856.8 L997.0 856.8 L998.5 856.7 L1000.0 856.7 L1001.5 856.6 L1003.0 856.6 L1004.5 856.6 L1006.0 856.5 L1007.5 856.5 L1009.0 856.4 L1010.5 856.4 L1012.0 856.4 L1013.5 856.3 L1015.0 856.3 L1016.5 856.3 L1018.0 856.2 L1019.5 856.2 L1021.0 856.2 L1022.5 856.1 L1024.0 856.1 L1025.5 856.1 L1027.0 856.0 L1028.5 856.0 L1030.0 856.0 L1031.5 855.9 L1033.0 855.9 L1034.5 855.9 L1036.0 855.8 L1037.5 855.8 L1039.0 855.7 L1040.5 855.7 L1042.0 855.7 L1043.5 855.6 L1045.0 855.6 L1046.5 855.6 L1048.0 855.5 L1049.5 855.5 L1051.0 855.5 L1052.5 855.4 L1054.0 855.4 L1055.5 855.4 L1057.0 855.3 L1058.5 855.3 L1060.0 855.3 L1061.5 855.3 L1063.0 855.3 L1064.5 855.2 L1066.0 855.2 L1067.5 855.2 L1069.0 855.2 L1070.5 855.2 L1072.0 855.2 L1073.5 855.2 L1075.0 855.2 L1076.5 855.2 L1078.0 855.3 L1079.5 855.3 L1081.0 855.4 L1082.5 855.4 L1084.0 855.5 L1085.5 855.6 L1087.0 855.6 L1088.5 855.7 L1090.0 855.8 L1091.5 855.9 L1093.0 856.0 L1094.5 856.1 L1096.0 856.2 L1097.5 856.3 L1099.0 856.4 L1100.5 856.5 L1102.0 856.5 L1103.5 856.6 L1105.0 856.7 L1106.5 856.8 L1108.0 856.9 L1109.5 856.9 L1111.0 857.0 L1112.5 857.1 L1114.0 857.1 L1115.5 857.1 L1117.0 857.2 L1118.5 857.2 L1120.0 857.2 L1121.5 857.2 L1123.0 857.2 L1124.5 857.3 L1126.0 857.3 L1127.5 857.3 L1129.0 857.3 L1130.5 857.3 L1132.0 857.3 L1133.5 857.3 L1135.0 857.3 L1136.5 857.4 L1138.0 857.4 L1139.5 857.4 L1141.0 857.4 L1142.5 857.4 L1144.0 857.4 L1145.5 857.4 L1147.0 857.4 L1148.5 857.4 L1150.0 857.5 L1151.5 857.5 L1153.0 857.5 L1154.5 857.5 L1156.0 857.5 L1157.5 857.5 L1159.0 857.5 L1160.5 857.5 L1162.0 857.5 L1163.5 857.5 L1165.0 857.6 L1166.5 857.6 L1168.0 857.6 L1169.5 857.6 L1171.0 857.6 L1172.5 857.6 L1174.0 857.6 L1175.5 857.6 L1177.0 857.6 L1178.5 857.6 L1180.0 857.6 L1181.5 857.6 L1183.0 857.7 L1184.5 857.7 L1186.0 857.7 L1187.5 857.7 L1189.0 857.7 L1190.5 857.7 L1192.0 857.7 L1193.5 857.7 L1195.0 857.7 L1196.5 857.7 L1198.0 857.7 L1199.5 857.7 L1201.0 857.7 L1202.5 857.7 L1204.0 857.7 L1205.5 857.8 L1207.0 857.8 L1208.5 857.8 L1210.0 857.8 L1211.5 857.8 L1213.0 857.8 L1214.5 857.8 L1216.0 857.8 L1217.5 857.8 L1219.0 857.8 L1220.5 857.8 L1222.0 857.8 L1223.5 857.8 L1225.0 857.8 L1226.5 857.8 L1228.0 857.8 L1229.5 857.8 L1231.0 857.8 L1232.5 857.8 L1234.0 857.8 L1235.5 857.8 L1237.0 857.8 L1238.5 857.8 L1240.0 857.8 L1241.5 857.8 L1243.0 857.8 L1244.5 857.8 L1246.0 857.8 L1247.5 857.9 L1249.0 857.9 L1250.5 857.9 L1252.0 857.9 L1253.5 857.9 L1255.0 857.9 L1256.5 857.9 L1258.0 857.9 L1259.5 857.9 L1261.0 857.9 L1262.5 857.9 L1264.0 857.9 L1265.5 857.9 L1267.0 857.9 L1268.0 857.9"/>
<path stroke="#27A35C" d="M151.0 812.9 L152.5 812.9 L154.0 812.9 L155.5 812.9 L157.0 812.9 L158.5 812.9 L160.0 812.9 L161.5 812.9 L163.0 812.9 L164.5 812.9 L166.0 812.9 L167.5 812.9 L169.0 812.9 L170.5 812.9 L172.0 812.9 L173.5 812.9 L175.0 812.9 L176.5 812.9 L178.0 812.9 L179.5 812.9 L181.0 812.9 L182.5 812.9 L184.0 812.9 L185.5 812.9 L187.0 812.9 L188.5 812.9 L190.0 812.9 L191.5 812.9 L193.0 812.9 L194.5 812.9 L196.0 812.9 L197.5 812.9 L199.0 812.9 L200.5 812.9 L202.0 812.9 L203.5 812.9 L205.0 812.9 L206.5 812.9 L208.0 812.9 L209.5 812.9 L211.0 812.9 L212.5 812.9 L214.0 812.9 L215.5 812.9 L217.0 812.9 L218.5 812.9 L220.0 812.9 L221.5 812.9 L223.0 812.9 L224.5 812.9 L226.0 812.9 L227.5 812.9 L229.0 812.9 L230.5 812.9 L232.0 812.9 L233.5 812.9 L235.0 812.9 L236.5 812.9 L238.0 812.9 L239.5 812.9 L241.0 812.9 L242.5 812.9 L244.0 812.9 L245.5 812.9 L247.0 812.9 L248.5 812.9 L250.0 812.9 L251.5 812.9 L253.0 812.9 L254.5 812.9 L256.0 812.9 L257.5 812.9 L259.0 812.9 L260.5 812.9 L262.0 812.9 L263.5 812.9 L265.0 812.9 L266.5 812.9 L268.0 812.9 L269.5 812.9 L271.0 812.9 L272.5 812.9 L274.0 812.9 L275.5 812.9 L277.0 812.9 L278.5 812.9 L280.0 812.9 L281.5 812.9 L283.0 812.9 L284.5 812.9 L286.0 812.9 L287.5 812.9 L289.0 812.9 L290.5 812.9 L292.0 812.9 L293.5 812.9 L295.0 812.9 L296.5 812.9 L298.0 812.9 L299.5 812.9 L300.2 812.9 L300.7 812.9 L301.0 812.9 L301.2 812.9 L301.7 812.9 L302.2 812.9 L302.5 812.9 L302.7 812.9 L303.2 812.9 L303.7 812.9 L304.0 812.9 L304.2 812.9 L304.7 812.9 L305.2 812.9 L305.5 812.9 L305.7 812.9 L306.2 812.9 L306.7 812.9 L307.0 812.9 L307.2 812.9 L307.7 812.9 L308.2 812.9 L308.5 812.9 L308.7 812.9 L309.2 812.9 L309.7 812.9 L310.0 812.8 L310.2 812.8 L310.7 812.8 L311.2 812.7 L311.5 812.7 L311.7 812.6 L312.2 812.6 L312.7 812.5 L313.0 812.4 L313.2 812.4 L313.7 812.3 L314.2 812.2 L314.5 812.2 L314.7 812.1 L315.2 811.9 L315.7 811.7 L316.0 811.5 L316.2 811.4 L316.7 811.1 L317.2 810.8 L317.5 810.7 L317.7 810.5 L318.2 810.2 L318.7 809.8 L319.0 809.6 L319.2 809.4 L319.7 809.0 L320.2 808.9 L320.5 808.9 L320.7 809.0 L321.2 809.3 L321.7 809.6 L322.0 809.9 L322.2 810.1 L322.7 810.4 L323.2 810.7 L323.5 810.9 L323.7 811.0 L324.2 811.3 L324.7 811.6 L325.0 811.7 L325.2 811.8 L325.7 812.0 L326.2 812.2 L326.5 812.2 L326.7 812.3 L327.2 812.4 L327.7 812.5 L328.0 812.5 L328.2 812.5 L328.7 812.6 L329.2 812.7 L329.5 812.7 L329.7 812.7 L330.2 812.8 L330.7 812.8 L331.0 812.8 L331.2 812.9 L331.7 812.9 L332.2 812.9 L332.5 812.9 L332.7 812.9 L333.2 812.9 L333.7 812.9 L334.0 812.9 L334.2 812.9 L334.7 812.9 L335.5 812.9 L337.0 813.0 L338.5 813.0 L340.0 813.0 L341.5 813.0 L343.0 813.0 L344.5 813.1 L346.0 813.1 L347.5 813.1 L349.0 813.1 L350.5 813.1 L352.0 813.1 L353.5 813.1 L355.0 813.1 L356.5 813.1 L358.0 813.2 L359.5 813.2 L361.0 813.2 L362.5 813.2 L364.0 813.2 L365.5 813.2 L367.0 813.2 L368.5 813.2 L370.0 813.2 L371.5 813.2 L373.0 813.2 L374.5 813.2 L376.0 813.2 L377.5 813.2 L379.0 813.2 L380.5 813.2 L382.0 813.2 L383.5 813.2 L385.0 813.2 L386.5 813.2 L388.0 813.2 L389.5 813.2 L391.0 813.2 L392.5 813.2 L394.0 813.2 L395.5 813.2 L397.0 813.2 L398.5 813.2 L400.0 813.2 L401.5 813.2 L403.0 813.2 L404.5 813.2 L406.0 813.2 L407.5 813.2 L409.0 813.2 L410.5 813.2 L412.0 813.2 L413.5 813.1 L415.0 813.1 L416.5 813.1 L418.0 813.1 L419.5 813.1 L421.0 813.1 L422.5 813.1 L424.0 813.1 L425.5 813.1 L427.0 813.1 L428.5 813.1 L430.0 813.0 L431.5 813.0 L433.0 813.0 L434.5 813.0 L436.0 813.0 L437.5 813.0 L439.0 812.9 L440.2 812.9 L440.5 812.9 L440.7 812.9 L441.2 812.9 L441.7 812.9 L442.0 812.9 L442.2 812.9 L442.7 812.9 L443.2 812.9 L443.5 812.9 L443.7 812.9 L444.2 812.9 L444.7 812.9 L445.0 812.8 L445.2 812.8 L445.7 812.8 L446.2 812.7 L446.5 812.7 L446.7 812.7 L447.2 812.6 L447.7 812.6 L448.0 812.6 L448.2 812.5 L448.7 812.5 L449.2 812.4 L449.5 812.4 L449.7 812.4 L450.2 812.3 L450.7 812.2 L451.0 812.2 L451.2 812.1 L451.7 812.0 L452.2 811.9 L452.5 811.9 L452.7 811.8 L453.2 811.8 L453.7 811.7 L454.0 811.6 L454.2 811.6 L454.7 811.6 L455.2 811.6 L455.5 811.6 L455.7 811.6 L456.2 811.6 L456.7 811.6 L457.0 811.6 L457.2 811.7 L457.7 811.7 L458.2 811.8 L458.5 811.8 L458.7 811.9 L459.2 812.0 L459.7 812.1 L460.0 812.1 L460.2 812.1 L460.7 812.2 L461.2 812.3 L461.5 812.3 L461.7 812.3 L462.2 812.4 L462.7 812.4 L463.0 812.5 L463.2 812.5 L463.7 812.5 L464.2 812.6 L464.5 812.6 L464.7 812.6 L465.2 812.7 L465.7 812.7 L466.0 812.8 L466.2 812.8 L466.7 812.8 L467.2 812.8 L467.5 812.9 L467.7 812.9 L468.2 812.9 L468.7 812.9 L469.0 812.9 L469.2 812.9 L469.7 812.9 L470.2 812.9 L470.5 812.9 L470.7 812.9 L471.2 812.9 L471.7 812.9 L472.0 812.9 L472.2 812.9 L472.7 812.9 L473.2 812.9 L473.5 812.9 L473.7 812.9 L474.2 812.9 L474.7 812.9 L475.0 812.9 L476.5 812.9 L478.0 812.9 L479.5 812.9 L481.0 812.9 L482.5 812.9 L484.0 812.9 L485.5 812.9 L487.0 812.9 L488.5 812.9 L490.0 812.9 L491.5 812.9 L493.0 812.9 L494.5 812.9 L496.0 812.9 L497.5 812.9 L499.0 812.9 L500.5 812.9 L502.0 812.9 L503.5 812.9 L505.0 812.9 L506.5 812.9 L508.0 812.9 L509.5 812.9 L511.0 812.9 L512.5 812.9 L514.0 812.9 L515.5 812.9 L517.0 812.9 L518.5 812.9 L520.0 812.9 L521.5 812.9 L523.0 812.9 L524.5 812.9 L526.0 812.9 L527.5 812.9 L529.0 812.9 L530.5 812.9 L532.0 812.9 L533.5 812.9 L535.0 812.9 L536.5 812.9 L538.0 812.9 L539.5 812.9 L541.0 812.9 L542.5 812.9 L544.0 812.9 L545.5 812.9 L547.0 812.9 L548.5 812.9 L550.0 812.9 L551.5 812.9 L553.0 812.9 L554.5 812.9 L556.0 812.9 L557.5 812.9 L559.0 812.9 L560.5 812.9 L562.0 812.9 L563.5 812.9 L565.0 812.9 L566.5 812.9 L568.0 812.9 L569.5 812.9 L571.0 812.9 L572.5 812.9 L574.0 812.9 L575.5 812.9 L577.0 812.9 L578.5 812.9 L580.0 812.9 L581.5 812.9 L583.0 812.9 L584.5 812.9 L586.0 812.9 L587.5 812.9 L589.0 812.9 L590.5 812.9 L592.0 812.9 L593.5 812.9 L595.0 812.9 L596.5 812.9 L598.0 812.9 L599.5 812.9 L601.0 812.9 L602.5 812.9 L604.0 812.9 L605.5 812.9 L607.0 812.9 L608.5 812.9 L610.0 812.9 L611.5 812.9 L613.0 812.9 L614.5 812.9 L616.0 812.9 L617.5 812.9 L619.0 812.9 L620.5 812.9 L622.0 812.9 L623.5 812.9 L625.0 812.9 L626.5 812.9 L628.0 812.9 L629.5 812.9 L631.0 812.9 L632.5 812.9 L634.0 812.9 L635.5 812.9 L637.0 812.9 L638.5 812.9 L640.0 812.9 L641.5 812.9 L643.0 812.9 L644.5 812.9 L646.0 812.9 L647.5 812.9 L649.0 812.9 L650.5 812.9 L652.0 812.9 L653.5 812.9 L655.0 812.9 L656.5 812.9 L658.0 812.9 L659.5 812.9 L661.0 812.9 L662.5 812.9 L664.0 812.9 L665.5 812.9 L667.0 812.9 L668.5 812.9 L670.0 813.0 L671.5 813.0 L673.0 813.0 L674.5 813.0 L676.0 813.0 L677.5 813.0 L679.0 813.0 L680.5 813.1 L682.0 813.1 L683.5 813.1 L685.0 813.1 L686.5 813.1 L688.0 813.1 L689.5 813.2 L691.0 813.2 L692.5 813.2 L694.0 813.2 L695.5 813.2 L697.0 813.3 L698.5 813.3 L700.0 813.3 L701.5 813.3 L703.0 813.3 L704.5 813.4 L706.0 813.4 L707.5 813.4 L709.0 813.4 L710.5 813.5 L712.0 813.5 L713.5 813.5 L715.0 813.5 L716.5 813.6 L718.0 813.6 L719.5 813.6 L721.0 813.6 L722.5 813.7 L724.0 813.7 L725.5 813.7 L727.0 813.7 L728.5 813.8 L730.0 813.8 L731.5 813.8 L733.0 813.9 L734.5 813.9 L736.0 813.9 L737.5 813.9 L739.0 814.0 L740.5 814.0 L742.0 814.0 L743.5 814.0 L745.0 814.1 L746.5 814.1 L748.0 814.1 L749.5 814.1 L751.0 814.2 L752.5 814.2 L754.0 814.2 L755.5 814.2 L757.0 814.3 L758.5 814.3 L760.0 814.3 L761.5 814.3 L763.0 814.4 L764.5 814.4 L766.0 814.4 L767.5 814.4 L769.0 814.5 L770.5 814.5 L772.0 814.5 L773.5 814.5 L775.0 814.6 L776.5 814.6 L778.0 814.6 L779.5 814.6 L781.0 814.6 L782.5 814.6 L784.0 814.7 L785.5 814.7 L787.0 814.7 L788.5 814.7 L790.0 814.7 L791.5 814.7 L793.0 814.8 L794.5 814.8 L796.0 814.8 L797.5 814.8 L799.0 814.8 L800.5 814.8 L802.0 814.8 L803.5 814.8 L805.0 814.9 L806.5 814.9 L808.0 814.9 L809.5 814.9 L811.0 814.9 L812.5 814.9 L814.0 814.9 L815.5 814.9 L817.0 814.9 L818.5 814.9 L820.0 814.9 L821.5 814.9 L823.0 814.9 L824.5 814.9 L826.0 814.9 L827.5 814.9 L829.0 814.9 L830.5 814.9 L832.0 814.8 L833.5 814.8 L835.0 814.8 L836.5 814.8 L838.0 814.8 L839.5 814.8 L841.0 814.7 L842.5 814.7 L844.0 814.7 L845.5 814.7 L847.0 814.7 L848.5 814.6 L850.0 814.6 L851.5 814.6 L853.0 814.6 L854.5 814.6 L856.0 814.5 L857.5 814.5 L859.0 814.5 L860.5 814.5 L862.0 814.4 L863.5 814.4 L865.0 814.4 L866.5 814.4 L868.0 814.3 L869.5 814.3 L871.0 814.3 L872.5 814.2 L874.0 814.2 L875.5 814.1 L877.0 814.0 L878.5 814.0 L880.0 813.9 L880.2 813.9 L880.7 813.8 L881.2 813.7 L881.5 813.7 L881.7 813.6 L882.2 813.5 L882.7 813.4 L883.0 813.3 L883.2 813.3 L883.7 813.1 L884.2 812.9 L884.5 812.8 L884.7 812.7 L885.2 812.5 L885.7 812.3 L886.0 812.2 L886.2 812.1 L886.7 811.9 L887.2 811.6 L887.5 811.5 L887.7 811.4 L888.2 811.1 L888.7 810.7 L889.0 810.4 L889.2 810.1 L889.7 809.3 L890.2 808.5 L890.5 808.0 L890.7 807.5 L891.2 806.4 L891.7 805.3 L892.0 804.7 L892.2 804.1 L892.7 802.9 L893.2 801.3 L893.5 800.4 L893.7 799.6 L894.2 798.0 L894.7 796.9 L895.0 796.4 L895.2 795.9 L895.7 795.1 L896.2 794.7 L896.5 794.7 L896.7 794.9 L897.2 795.9 L897.7 797.1 L898.0 797.8 L898.2 798.6 L898.7 800.9 L899.2 803.1 L899.5 804.1 L899.7 804.9 L900.2 806.1 L900.7 807.2 L901.0 807.7 L901.2 808.2 L901.7 808.9 L902.2 809.4 L902.5 809.5 L902.7 809.6 L903.2 809.8 L903.7 809.9 L904.0 810.0 L904.2 810.1 L904.7 810.2 L905.2 810.3 L905.5 810.3 L905.7 810.4 L906.2 810.5 L906.7 810.5 L907.0 810.6 L907.2 810.6 L907.7 810.6 L908.2 810.6 L908.5 810.6 L908.7 810.5 L909.2 810.5 L909.7 810.4 L910.0 810.4 L910.2 810.3 L910.7 810.2 L911.2 810.1 L911.5 810.0 L911.7 809.9 L912.2 809.8 L912.7 809.6 L913.0 809.5 L913.2 809.4 L913.7 809.2 L914.2 809.0 L914.5 808.9 L914.7 808.8 L915.2 808.6 L915.7 808.5 L916.0 808.4 L916.2 808.3 L916.7 808.1 L917.2 807.9 L917.5 807.8 L917.7 807.7 L918.2 807.5 L918.7 807.3 L919.0 807.2 L919.2 807.1 L919.7 806.9 L920.2 806.6 L920.5 806.5 L920.7 806.4 L921.2 806.2 L921.7 805.9 L922.0 805.8 L922.2 805.7 L922.7 805.4 L923.2 805.2 L923.5 805.1 L923.7 804.9 L924.2 804.7 L924.7 804.4 L925.0 804.3 L925.2 804.1 L925.7 803.8 L926.2 803.5 L926.5 803.3 L926.7 803.1 L927.2 802.6 L927.7 802.0 L928.0 801.7 L928.2 801.4 L928.7 800.7 L929.2 799.9 L929.5 799.6 L929.7 799.2 L930.2 798.4 L930.7 797.4 L931.0 796.9 L931.2 796.4 L931.7 795.6 L932.2 795.3 L932.5 795.5 L932.7 795.9 L933.2 797.3 L933.7 798.8 L934.0 799.5 L934.2 800.2 L934.7 801.7 L935.2 803.2 L935.5 803.8 L935.7 804.3 L936.2 805.0 L936.7 805.6 L937.0 805.9 L937.2 806.1 L937.7 806.6 L938.2 807.0 L938.5 807.1 L938.7 807.3 L939.2 807.6 L939.7 807.9 L940.0 808.0 L940.2 808.1 L940.7 808.3 L941.2 808.5 L941.5 808.6 L941.7 808.8 L942.2 809.0 L942.7 809.2 L943.0 809.3 L943.2 809.4 L943.7 809.6 L944.2 809.8 L944.5 809.9 L944.7 810.0 L945.2 810.2 L945.7 810.3 L946.0 810.4 L946.2 810.5 L946.7 810.7 L947.2 810.9 L947.5 810.9 L947.7 811.0 L948.2 811.2 L948.7 811.3 L949.0 811.4 L949.2 811.4 L949.7 811.6 L950.2 811.7 L950.5 811.8 L950.7 811.8 L951.2 811.9 L951.7 812.0 L952.0 812.1 L952.2 812.1 L952.7 812.2 L953.2 812.3 L953.5 812.4 L953.7 812.4 L954.2 812.5 L954.7 812.6 L955.0 812.6 L955.2 812.7 L955.7 812.8 L956.2 812.9 L956.5 812.9 L956.7 812.9 L957.2 813.0 L957.7 813.1 L958.0 813.2 L958.2 813.2 L958.7 813.3 L959.2 813.4 L959.5 813.4 L959.7 813.4 L960.2 813.5 L960.7 813.6 L961.0 813.6 L961.2 813.6 L961.7 813.7 L962.2 813.8 L962.5 813.8 L962.7 813.8 L963.2 813.9 L963.7 813.9 L964.0 814.0 L964.2 814.0 L964.7 814.0 L965.5 814.1 L967.0 814.2 L968.5 814.2 L970.0 814.2 L971.5 814.2 L973.0 814.2 L974.5 814.2 L976.0 814.2 L977.5 814.2 L979.0 814.2 L980.5 814.1 L982.0 814.1 L983.5 814.1 L985.0 814.1 L986.5 814.0 L988.0 814.0 L989.5 813.9 L991.0 813.9 L992.5 813.9 L994.0 813.8 L995.5 813.8 L997.0 813.8 L998.5 813.7 L1000.0 813.7 L1001.5 813.6 L1003.0 813.6 L1004.5 813.5 L1006.0 813.5 L1007.5 813.5 L1009.0 813.4 L1010.5 813.4 L1012.0 813.4 L1013.5 813.3 L1015.0 813.3 L1016.5 813.3 L1018.0 813.3 L1019.5 813.2 L1021.0 813.2 L1022.5 813.2 L1024.0 813.2 L1025.5 813.2 L1027.0 813.1 L1028.5 813.1 L1030.0 813.1 L1031.5 813.1 L1033.0 813.0 L1034.5 813.0 L1036.0 813.0 L1037.5 813.0 L1039.0 813.0 L1040.5 812.9 L1042.0 812.9 L1043.5 812.9 L1045.0 812.9 L1046.5 812.9 L1048.0 812.8 L1049.5 812.8 L1051.0 812.8 L1052.5 812.8 L1054.0 812.8 L1055.5 812.8 L1057.0 812.7 L1058.5 812.7 L1060.0 812.7 L1061.5 812.7 L1063.0 812.7 L1064.5 812.7 L1066.0 812.7 L1067.5 812.6 L1069.0 812.6 L1070.5 812.6 L1072.0 812.6 L1073.5 812.6 L1075.0 812.6 L1076.5 812.6 L1078.0 812.6 L1079.5 812.6 L1081.0 812.6 L1082.5 812.6 L1084.0 812.6 L1085.5 812.6 L1087.0 812.6 L1088.5 812.6 L1090.0 812.6 L1091.5 812.6 L1093.0 812.6 L1094.5 812.6 L1096.0 812.6 L1097.5 812.7 L1099.0 812.7 L1100.5 812.7 L1102.0 812.7 L1103.5 812.7 L1105.0 812.8 L1106.5 812.8 L1108.0 812.8 L1109.5 812.8 L1111.0 812.9 L1112.5 812.9 L1114.0 812.9 L1115.5 813.0 L1117.0 813.0 L1118.5 813.0 L1120.0 813.1 L1121.5 813.1 L1123.0 813.1 L1124.5 813.2 L1126.0 813.2 L1127.5 813.2 L1129.0 813.2 L1130.5 813.3 L1132.0 813.3 L1133.5 813.3 L1135.0 813.4 L1136.5 813.4 L1138.0 813.4 L1139.5 813.4 L1141.0 813.5 L1142.5 813.5 L1144.0 813.5 L1145.5 813.5 L1147.0 813.5 L1148.5 813.5 L1150.0 813.6 L1151.5 813.6 L1153.0 813.6 L1154.5 813.6 L1156.0 813.6 L1157.5 813.6 L1159.0 813.6 L1160.5 813.6 L1162.0 813.6 L1163.5 813.6 L1165.0 813.6 L1166.5 813.6 L1168.0 813.7 L1169.5 813.7 L1171.0 813.7 L1172.5 813.7 L1174.0 813.7 L1175.5 813.7 L1177.0 813.7 L1178.5 813.7 L1180.0 813.7 L1181.5 813.7 L1183.0 813.7 L1184.5 813.7 L1186.0 813.7 L1187.5 813.7 L1189.0 813.7 L1190.5 813.7 L1192.0 813.8 L1193.5 813.8 L1195.0 813.8 L1196.5 813.8 L1198.0 813.8 L1199.5 813.8 L1201.0 813.8 L1202.5 813.8 L1204.0 813.8 L1205.5 813.8 L1207.0 813.8 L1208.5 813.8 L1210.0 813.8 L1211.5 813.8 L1213.0 813.8 L1214.5 813.8 L1216.0 813.8 L1217.5 813.8 L1219.0 813.8 L1220.5 813.8 L1222.0 813.8 L1223.5 813.8 L1225.0 813.9 L1226.5 813.9 L1228.0 813.9 L1229.5 813.9 L1231.0 813.9 L1232.5 813.9 L1234.0 813.9 L1235.5 813.9 L1237.0 813.9 L1238.5 813.9 L1240.0 813.9 L1241.5 813.9 L1243.0 813.9 L1244.5 813.9 L1246.0 813.9 L1247.5 813.9 L1249.0 813.9 L1250.5 813.9 L1252.0 813.9 L1253.5 813.9 L1255.0 813.9 L1256.5 813.9 L1258.0 813.9 L1259.5 813.9 L1261.0 813.9 L1262.5 813.9 L1264.0 813.9 L1265.5 813.9 L1267.0 813.9 L1268.0 813.9"/>
<path stroke="#B46AE0" d="M151.0 774.8 L152.5 774.8 L154.0 774.8 L155.5 774.8 L157.0 774.8 L158.5 774.8 L160.0 774.8 L161.5 774.8 L163.0 774.8 L164.5 774.8 L166.0 774.8 L167.5 774.8 L169.0 774.8 L170.5 774.8 L172.0 774.8 L173.5 774.8 L175.0 774.8 L176.5 774.8 L178.0 774.8 L179.5 774.8 L181.0 774.8 L182.5 774.8 L184.0 774.8 L185.5 774.8 L187.0 774.8 L188.5 774.8 L190.0 774.8 L191.5 774.8 L193.0 774.8 L194.5 774.8 L196.0 774.8 L197.5 774.8 L199.0 774.8 L200.5 774.8 L202.0 774.8 L203.5 774.8 L205.0 774.8 L206.5 774.8 L208.0 774.8 L209.5 774.8 L211.0 774.8 L212.5 774.8 L214.0 774.8 L215.5 774.8 L217.0 774.8 L218.5 774.8 L220.0 774.8 L221.5 774.8 L223.0 774.8 L224.5 774.8 L226.0 774.8 L227.5 774.8 L229.0 774.8 L230.5 774.8 L232.0 774.8 L233.5 774.8 L235.0 774.8 L236.5 774.8 L238.0 774.8 L239.5 774.8 L241.0 774.8 L242.5 774.8 L244.0 774.8 L245.5 774.8 L247.0 774.8 L248.5 774.8 L250.0 774.8 L251.5 774.8 L253.0 774.8 L254.5 774.8 L256.0 774.8 L257.5 774.8 L259.0 774.8 L260.5 774.8 L262.0 774.8 L263.5 774.8 L265.0 774.8 L266.5 774.8 L268.0 774.8 L269.5 774.8 L271.0 774.8 L272.5 774.8 L274.0 774.8 L275.5 774.8 L277.0 774.7 L278.5 774.7 L280.0 774.7 L281.5 774.7 L283.0 774.7 L284.5 774.7 L286.0 774.7 L287.5 774.7 L289.0 774.6 L290.5 774.6 L292.0 774.6 L293.5 774.6 L295.0 774.6 L296.5 774.5 L298.0 774.5 L299.5 774.5 L300.2 774.4 L300.7 774.4 L301.0 774.3 L301.2 774.3 L301.7 774.2 L302.2 774.0 L302.5 773.9 L302.7 773.9 L303.2 773.7 L303.7 773.5 L304.0 773.4 L304.2 773.3 L304.7 773.1 L305.2 772.8 L305.5 772.7 L305.7 772.6 L306.2 772.4 L306.7 772.1 L307.0 772.0 L307.2 771.9 L307.7 771.6 L308.2 771.3 L308.5 771.1 L308.7 770.9 L309.2 770.5 L309.7 770.1 L310.0 769.9 L310.2 769.6 L310.7 769.1 L311.2 768.6 L311.5 768.3 L311.7 768.0 L312.2 767.4 L312.7 766.7 L313.0 766.2 L313.2 765.7 L313.7 764.6 L314.2 763.4 L314.5 762.8 L314.7 762.2 L315.2 760.9 L315.7 759.6 L316.0 759.0 L316.2 758.5 L316.7 757.4 L317.2 756.1 L317.5 755.4 L317.7 754.8 L318.2 753.6 L318.7 752.7 L319.0 752.4 L319.2 752.3 L319.7 752.6 L320.2 753.7 L320.5 754.4 L320.7 755.2 L321.2 756.9 L321.7 758.5 L322.0 759.5 L322.2 760.5 L322.7 762.8 L323.2 765.1 L323.5 766.1 L323.7 766.9 L324.2 768.1 L324.7 768.7 L325.0 769.0 L325.2 769.3 L325.7 769.8 L326.2 770.3 L326.5 770.6 L326.7 770.8 L327.2 771.2 L327.7 771.6 L328.0 771.8 L328.2 771.9 L328.7 772.2 L329.2 772.5 L329.5 772.6 L329.7 772.6 L330.2 772.8 L330.7 772.8 L331.0 772.8 L331.2 772.8 L331.7 772.8 L332.2 772.8 L332.5 772.8 L332.7 772.8 L333.2 772.8 L333.7 772.8 L334.0 772.8 L334.2 772.8 L334.7 772.8 L335.5 772.7 L337.0 772.6 L338.5 772.5 L340.0 772.4 L341.5 772.0 L343.0 771.6 L344.5 771.5 L346.0 771.7 L347.5 772.1 L349.0 772.5 L350.5 772.8 L352.0 772.9 L353.5 773.0 L355.0 773.1 L356.5 773.2 L358.0 773.3 L359.5 773.4 L361.0 773.5 L362.5 773.6 L364.0 773.7 L365.5 773.8 L367.0 773.8 L368.5 773.9 L370.0 773.9 L371.5 774.0 L373.0 774.0 L374.5 774.1 L376.0 774.1 L377.5 774.1 L379.0 774.1 L380.5 774.2 L382.0 774.2 L383.5 774.2 L385.0 774.1 L386.5 774.1 L388.0 774.1 L389.5 774.1 L391.0 774.1 L392.5 774.1 L394.0 774.0 L395.5 774.0 L397.0 774.0 L398.5 773.9 L400.0 773.9 L401.5 773.8 L403.0 773.8 L404.5 773.7 L406.0 773.7 L407.5 773.6 L409.0 773.6 L410.5 773.5 L412.0 773.4 L413.5 773.4 L415.0 773.3 L416.5 773.2 L418.0 773.2 L419.5 773.1 L421.0 773.0 L422.5 773.0 L424.0 772.9 L425.5 772.8 L427.0 772.8 L428.5 772.7 L430.0 772.6 L431.5 772.5 L433.0 772.4 L434.5 772.3 L436.0 772.2 L437.5 772.1 L439.0 771.9 L440.2 771.8 L440.5 771.7 L440.7 771.7 L441.2 771.6 L441.7 771.6 L442.0 771.5 L442.2 771.5 L442.7 771.4 L443.2 771.3 L443.5 771.2 L443.7 771.1 L444.2 771.0 L444.7 770.8 L445.0 770.7 L445.2 770.6 L445.7 770.4 L446.2 770.2 L446.5 770.1 L446.7 770.0 L447.2 769.7 L447.7 769.5 L448.0 769.4 L448.2 769.2 L448.7 769.0 L449.2 768.7 L449.5 768.6 L449.7 768.5 L450.2 768.3 L450.7 768.0 L451.0 767.9 L451.2 767.8 L451.7 767.5 L452.2 767.2 L452.5 767.0 L452.7 766.8 L453.2 766.5 L453.7 766.2 L454.0 766.0 L454.2 765.9 L454.7 765.6 L455.2 765.3 L455.5 765.2 L455.7 765.1 L456.2 765.0 L456.7 764.9 L457.0 764.9 L457.2 764.9 L457.7 764.9 L458.2 765.0 L458.5 765.1 L458.7 765.1 L459.2 765.3 L459.7 765.5 L460.0 765.6 L460.2 765.8 L460.7 766.0 L461.2 766.3 L461.5 766.4 L461.7 766.5 L462.2 766.8 L462.7 767.1 L463.0 767.2 L463.2 767.3 L463.7 767.5 L464.2 767.7 L464.5 767.8 L464.7 767.9 L465.2 768.2 L465.7 768.4 L466.0 768.5 L466.2 768.6 L466.7 768.9 L467.2 769.1 L467.5 769.2 L467.7 769.4 L468.2 769.6 L468.7 769.8 L469.0 769.9 L469.2 770.0 L469.7 770.2 L470.2 770.4 L470.5 770.5 L470.7 770.5 L471.2 770.7 L471.7 770.8 L472.0 770.8 L472.2 770.9 L472.7 770.9 L473.2 771.0 L473.5 771.1 L473.7 771.1 L474.2 771.2 L474.7 771.2 L475.0 771.3 L476.5 771.4 L478.0 771.6 L479.5 771.8 L481.0 771.9 L482.5 772.0 L484.0 772.1 L485.5 772.2 L487.0 772.3 L488.5 772.4 L490.0 772.5 L491.5 772.6 L493.0 772.7 L494.5 772.8 L496.0 772.9 L497.5 773.0 L499.0 773.1 L500.5 773.1 L502.0 773.2 L503.5 773.3 L505.0 773.4 L506.5 773.4 L508.0 773.5 L509.5 773.6 L511.0 773.7 L512.5 773.7 L514.0 773.8 L515.5 773.8 L517.0 773.9 L518.5 774.0 L520.0 774.0 L521.5 774.1 L523.0 774.1 L524.5 774.2 L526.0 774.3 L527.5 774.3 L529.0 774.4 L530.5 774.4 L532.0 774.5 L533.5 774.5 L535.0 774.6 L536.5 774.6 L538.0 774.7 L539.5 774.7 L541.0 774.7 L542.5 774.8 L544.0 774.8 L545.5 774.8 L547.0 774.8 L548.5 774.8 L550.0 774.8 L551.5 774.8 L553.0 774.8 L554.5 774.8 L556.0 774.8 L557.5 774.8 L559.0 774.8 L560.5 774.8 L562.0 774.8 L563.5 774.8 L565.0 774.8 L566.5 774.8 L568.0 774.8 L569.5 774.8 L571.0 774.8 L572.5 774.8 L574.0 774.8 L575.5 774.8 L577.0 774.8 L578.5 774.8 L580.0 774.8 L581.5 774.8 L583.0 774.8 L584.5 774.8 L586.0 774.8 L587.5 774.8 L589.0 774.8 L590.5 774.8 L592.0 774.8 L593.5 774.8 L595.0 774.8 L596.5 774.8 L598.0 774.8 L599.5 774.8 L601.0 774.8 L602.5 774.8 L604.0 774.8 L605.5 774.8 L607.0 774.8 L608.5 774.8 L610.0 774.8 L611.5 774.8 L613.0 774.8 L614.5 774.8 L616.0 774.8 L617.5 774.8 L619.0 774.8 L620.5 774.8 L622.0 774.8 L623.5 774.8 L625.0 774.8 L626.5 774.8 L628.0 774.8 L629.5 774.8 L631.0 774.8 L632.5 774.8 L634.0 774.8 L635.5 774.8 L637.0 774.8 L638.5 774.8 L640.0 774.8 L641.5 774.8 L643.0 774.8 L644.5 774.8 L646.0 774.8 L647.5 774.8 L649.0 774.8 L650.5 774.8 L652.0 774.8 L653.5 774.8 L655.0 774.8 L656.5 774.8 L658.0 774.8 L659.5 774.8 L661.0 774.8 L662.5 774.8 L664.0 774.9 L665.5 774.9 L667.0 774.9 L668.5 774.9 L670.0 774.9 L671.5 774.9 L673.0 774.9 L674.5 774.9 L676.0 774.9 L677.5 774.9 L679.0 774.9 L680.5 775.0 L682.0 775.0 L683.5 775.0 L685.0 775.0 L686.5 775.0 L688.0 775.0 L689.5 775.0 L691.0 775.1 L692.5 775.1 L694.0 775.1 L695.5 775.1 L697.0 775.1 L698.5 775.1 L700.0 775.1 L701.5 775.2 L703.0 775.2 L704.5 775.2 L706.0 775.2 L707.5 775.2 L709.0 775.3 L710.5 775.3 L712.0 775.3 L713.5 775.3 L715.0 775.3 L716.5 775.4 L718.0 775.4 L719.5 775.4 L721.0 775.4 L722.5 775.4 L724.0 775.5 L725.5 775.5 L727.0 775.5 L728.5 775.5 L730.0 775.5 L731.5 775.6 L733.0 775.6 L734.5 775.6 L736.0 775.6 L737.5 775.6 L739.0 775.7 L740.5 775.7 L742.0 775.7 L743.5 775.7 L745.0 775.7 L746.5 775.8 L748.0 775.8 L749.5 775.8 L751.0 775.8 L752.5 775.8 L754.0 775.9 L755.5 775.9 L757.0 775.9 L758.5 775.9 L760.0 775.9 L761.5 776.0 L763.0 776.0 L764.5 776.0 L766.0 776.0 L767.5 776.0 L769.0 776.0 L770.5 776.1 L772.0 776.1 L773.5 776.1 L775.0 776.1 L776.5 776.1 L778.0 776.1 L779.5 776.2 L781.0 776.2 L782.5 776.2 L784.0 776.2 L785.5 776.2 L787.0 776.2 L788.5 776.2 L790.0 776.3 L791.5 776.3 L793.0 776.3 L794.5 776.3 L796.0 776.3 L797.5 776.3 L799.0 776.3 L800.5 776.3 L802.0 776.3 L803.5 776.3 L805.0 776.4 L806.5 776.4 L808.0 776.4 L809.5 776.4 L811.0 776.4 L812.5 776.4 L814.0 776.4 L815.5 776.4 L817.0 776.4 L818.5 776.4 L820.0 776.4 L821.5 776.4 L823.0 776.4 L824.5 776.4 L826.0 776.4 L827.5 776.3 L829.0 776.3 L830.5 776.3 L832.0 776.3 L833.5 776.3 L835.0 776.2 L836.5 776.2 L838.0 776.2 L839.5 776.1 L841.0 776.1 L842.5 776.1 L844.0 776.0 L845.5 776.0 L847.0 775.9 L848.5 775.9 L850.0 775.8 L851.5 775.8 L853.0 775.7 L854.5 775.7 L856.0 775.6 L857.5 775.5 L859.0 775.4 L860.5 775.2 L862.0 775.1 L863.5 774.9 L865.0 774.7 L866.5 774.5 L868.0 774.3 L869.5 774.1 L871.0 773.9 L872.5 773.6 L874.0 773.2 L875.5 772.8 L877.0 772.2 L878.5 771.7 L880.0 771.0 L880.2 770.8 L880.7 770.5 L881.2 770.2 L881.5 770.0 L881.7 769.8 L882.2 769.4 L882.7 768.9 L883.0 768.7 L883.2 768.4 L883.7 767.9 L884.2 767.3 L884.5 767.0 L884.7 766.7 L885.2 766.0 L885.7 765.3 L886.0 765.0 L886.2 764.6 L886.7 763.7 L887.2 762.7 L887.5 762.1 L887.7 761.6 L888.2 760.3 L888.7 759.0 L889.0 758.3 L889.2 757.6 L889.7 756.0 L890.2 754.4 L890.5 753.5 L890.7 752.6 L891.2 750.4 L891.7 747.4 L892.0 745.6 L892.2 743.7 L892.7 739.4 L893.2 734.6 L893.5 732.1 L893.7 729.5 L894.2 723.5 L894.7 716.6 L895.0 713.0 L895.2 709.6 L895.7 703.7 L896.2 698.0 L896.5 695.5 L896.7 693.6 L897.2 693.1 L897.7 696.3 L898.0 698.6 L898.2 701.2 L898.7 708.4 L899.2 719.4 L899.5 724.6 L899.7 729.1 L900.2 735.2 L900.7 740.3 L901.0 742.4 L901.2 744.3 L901.7 747.5 L902.2 749.8 L902.5 750.9 L902.7 751.9 L903.2 753.7 L903.7 755.2 L904.0 755.9 L904.2 756.6 L904.7 757.6 L905.2 758.3 L905.5 758.6 L905.7 758.8 L906.2 759.2 L906.7 759.6 L907.0 759.8 L907.2 759.9 L907.7 760.2 L908.2 760.5 L908.5 760.6 L908.7 760.7 L909.2 760.8 L909.7 760.8 L910.0 760.8 L910.2 760.7 L910.7 760.6 L911.2 760.3 L911.5 760.2 L911.7 760.1 L912.2 759.8 L912.7 759.4 L913.0 759.2 L913.2 759.0 L913.7 758.6 L914.2 758.2 L914.5 758.0 L914.7 757.7 L915.2 757.0 L915.7 756.3 L916.0 755.9 L916.2 755.4 L916.7 754.6 L917.2 753.6 L917.5 753.1 L917.7 752.6 L918.2 751.7 L918.7 750.7 L919.0 750.2 L919.2 749.7 L919.7 748.6 L920.2 747.5 L920.5 746.9 L920.7 746.4 L921.2 745.2 L921.7 744.0 L922.0 743.3 L922.2 742.7 L922.7 741.5 L923.2 740.2 L923.5 739.5 L923.7 738.8 L924.2 737.4 L924.7 735.8 L925.0 735.0 L925.2 734.1 L925.7 732.3 L926.2 730.3 L926.5 729.2 L926.7 728.1 L927.2 725.7 L927.7 723.1 L928.0 721.7 L928.2 720.2 L928.7 716.7 L929.2 713.0 L929.5 711.0 L929.7 709.1 L930.2 705.7 L930.7 702.2 L931.0 700.6 L931.2 699.3 L931.7 698.9 L932.2 701.2 L932.5 702.9 L932.7 704.8 L933.2 709.8 L933.7 717.3 L934.0 721.1 L934.2 724.3 L934.7 729.1 L935.2 733.3 L935.5 735.1 L935.7 736.9 L936.2 739.8 L936.7 742.1 L937.0 743.0 L937.2 743.8 L937.7 745.0 L938.2 746.0 L938.5 746.4 L938.7 746.8 L939.2 747.6 L939.7 748.2 L940.0 748.5 L940.2 748.8 L940.7 749.4 L941.2 749.9 L941.5 750.2 L941.7 750.4 L942.2 750.9 L942.7 751.3 L943.0 751.5 L943.2 751.6 L943.7 752.0 L944.2 752.4 L944.5 752.6 L944.7 752.8 L945.2 753.3 L945.7 753.8 L946.0 754.1 L946.2 754.4 L946.7 755.0 L947.2 755.7 L947.5 756.0 L947.7 756.4 L948.2 757.1 L948.7 757.8 L949.0 758.1 L949.2 758.5 L949.7 759.1 L950.2 759.8 L950.5 760.1 L950.7 760.4 L951.2 760.9 L951.7 761.4 L952.0 761.6 L952.2 761.9 L952.7 762.4 L953.2 762.9 L953.5 763.1 L953.7 763.4 L954.2 763.8 L954.7 764.3 L955.0 764.5 L955.2 764.7 L955.7 765.1 L956.2 765.5 L956.5 765.7 L956.7 765.9 L957.2 766.3 L957.7 766.6 L958.0 766.7 L958.2 766.9 L958.7 767.1 L959.2 767.3 L959.5 767.4 L959.7 767.5 L960.2 767.7 L960.7 767.9 L961.0 768.0 L961.2 768.0 L961.7 768.2 L962.2 768.3 L962.5 768.4 L962.7 768.4 L963.2 768.6 L963.7 768.7 L964.0 768.7 L964.2 768.8 L964.7 768.9 L965.5 769.0 L967.0 769.2 L968.5 769.4 L970.0 769.6 L971.5 769.7 L973.0 769.7 L974.5 769.7 L976.0 769.7 L977.5 769.7 L979.0 769.6 L980.5 769.6 L982.0 769.5 L983.5 769.5 L985.0 769.4 L986.5 769.4 L988.0 769.3 L989.5 769.2 L991.0 769.2 L992.5 769.1 L994.0 769.0 L995.5 768.9 L997.0 768.9 L998.5 768.8 L1000.0 768.7 L1001.5 768.6 L1003.0 768.5 L1004.5 768.4 L1006.0 768.2 L1007.5 768.1 L1009.0 768.0 L1010.5 767.9 L1012.0 767.8 L1013.5 767.7 L1015.0 767.6 L1016.5 767.6 L1018.0 767.5 L1019.5 767.4 L1021.0 767.4 L1022.5 767.3 L1024.0 767.2 L1025.5 767.2 L1027.0 767.1 L1028.5 767.1 L1030.0 767.0 L1031.5 767.0 L1033.0 766.9 L1034.5 766.9 L1036.0 766.9 L1037.5 766.8 L1039.0 766.8 L1040.5 766.7 L1042.0 766.7 L1043.5 766.7 L1045.0 766.6 L1046.5 766.6 L1048.0 766.5 L1049.5 766.5 L1051.0 766.5 L1052.5 766.4 L1054.0 766.4 L1055.5 766.3 L1057.0 766.3 L1058.5 766.2 L1060.0 766.2 L1061.5 766.1 L1063.0 766.1 L1064.5 766.0 L1066.0 766.0 L1067.5 766.0 L1069.0 765.9 L1070.5 765.9 L1072.0 765.8 L1073.5 765.8 L1075.0 765.8 L1076.5 765.8 L1078.0 765.8 L1079.5 765.8 L1081.0 765.8 L1082.5 765.8 L1084.0 765.8 L1085.5 765.9 L1087.0 765.9 L1088.5 766.0 L1090.0 766.1 L1091.5 766.2 L1093.0 766.3 L1094.5 766.4 L1096.0 766.5 L1097.5 766.6 L1099.0 766.8 L1100.5 767.1 L1102.0 767.4 L1103.5 767.7 L1105.0 768.1 L1106.5 768.5 L1108.0 768.8 L1109.5 769.2 L1111.0 769.5 L1112.5 769.8 L1114.0 770.1 L1115.5 770.4 L1117.0 770.7 L1118.5 771.0 L1120.0 771.3 L1121.5 771.6 L1123.0 771.9 L1124.5 772.1 L1126.0 772.4 L1127.5 772.7 L1129.0 772.9 L1130.5 773.2 L1132.0 773.4 L1133.5 773.6 L1135.0 773.8 L1136.5 774.0 L1138.0 774.2 L1139.5 774.4 L1141.0 774.6 L1142.5 774.8 L1144.0 775.0 L1145.5 775.1 L1147.0 775.3 L1148.5 775.4 L1150.0 775.6 L1151.5 775.7 L1153.0 775.8 L1154.5 775.9 L1156.0 776.0 L1157.5 776.1 L1159.0 776.2 L1160.5 776.3 L1162.0 776.4 L1163.5 776.5 L1165.0 776.6 L1166.5 776.6 L1168.0 776.7 L1169.5 776.7 L1171.0 776.7 L1172.5 776.7 L1174.0 776.7 L1175.5 776.7 L1177.0 776.7 L1178.5 776.7 L1180.0 776.7 L1181.5 776.7 L1183.0 776.7 L1184.5 776.7 L1186.0 776.7 L1187.5 776.7 L1189.0 776.7 L1190.5 776.7 L1192.0 776.7 L1193.5 776.7 L1195.0 776.7 L1196.5 776.7 L1198.0 776.7 L1199.5 776.7 L1201.0 776.7 L1202.5 776.7 L1204.0 776.7 L1205.5 776.7 L1207.0 776.7 L1208.5 776.7 L1210.0 776.7 L1211.5 776.7 L1213.0 776.7 L1214.5 776.7 L1216.0 776.7 L1217.5 776.7 L1219.0 776.7 L1220.5 776.7 L1222.0 776.7 L1223.5 776.7 L1225.0 776.7 L1226.5 776.7 L1228.0 776.7 L1229.5 776.6 L1231.0 776.6 L1232.5 776.6 L1234.0 776.6 L1235.5 776.6 L1237.0 776.6 L1238.5 776.6 L1240.0 776.6 L1241.5 776.6 L1243.0 776.6 L1244.5 776.6 L1246.0 776.6 L1247.5 776.6 L1249.0 776.5 L1250.5 776.5 L1252.0 776.5 L1253.5 776.5 L1255.0 776.5 L1256.5 776.5 L1258.0 776.5 L1259.5 776.5 L1261.0 776.5 L1262.5 776.4 L1264.0 776.4 L1265.5 776.4 L1267.0 776.4 L1268.0 776.4"/>
<path stroke="#6E4040" d="M151.0 711.4 L152.5 711.4 L154.0 711.4 L155.5 711.4 L157.0 711.4 L158.5 711.4 L160.0 711.4 L161.5 711.4 L163.0 711.3 L164.5 711.3 L166.0 711.3 L167.5 711.3 L169.0 711.3 L170.5 711.3 L172.0 711.3 L173.5 711.3 L175.0 711.3 L176.5 711.3 L178.0 711.3 L179.5 711.3 L181.0 711.3 L182.5 711.2 L184.0 711.2 L185.5 711.2 L187.0 711.2 L188.5 711.2 L190.0 711.2 L191.5 711.2 L193.0 711.2 L194.5 711.2 L196.0 711.2 L197.5 711.2 L199.0 711.2 L200.5 711.2 L202.0 711.2 L203.5 711.2 L205.0 711.2 L206.5 711.2 L208.0 711.1 L209.5 711.1 L211.0 711.1 L212.5 711.1 L214.0 711.1 L215.5 711.1 L217.0 711.1 L218.5 711.1 L220.0 711.1 L221.5 711.1 L223.0 711.1 L224.5 711.1 L226.0 711.1 L227.5 711.1 L229.0 711.1 L230.5 711.1 L232.0 711.1 L233.5 711.1 L235.0 711.1 L236.5 711.1 L238.0 711.1 L239.5 711.1 L241.0 711.1 L242.5 711.1 L244.0 711.1 L245.5 711.1 L247.0 711.1 L248.5 711.1 L250.0 711.1 L251.5 711.1 L253.0 711.1 L254.5 711.1 L256.0 711.1 L257.5 711.1 L259.0 711.1 L260.5 711.1 L262.0 711.1 L263.5 711.1 L265.0 711.1 L266.5 711.1 L268.0 711.1 L269.5 711.1 L271.0 711.1 L272.5 711.1 L274.0 711.1 L275.5 711.1 L277.0 711.1 L278.5 711.1 L280.0 711.1 L281.5 711.1 L283.0 711.1 L284.5 711.1 L286.0 711.1 L287.5 711.1 L289.0 711.1 L290.5 711.1 L292.0 711.1 L293.5 711.1 L295.0 711.1 L296.5 711.1 L298.0 711.1 L299.5 711.1 L300.2 711.1 L300.7 711.0 L301.0 711.0 L301.2 711.0 L301.7 710.9 L302.2 710.8 L302.5 710.8 L302.7 710.8 L303.2 710.7 L303.7 710.6 L304.0 710.5 L304.2 710.4 L304.7 710.3 L305.2 710.2 L305.5 710.1 L305.7 710.0 L306.2 709.9 L306.7 709.7 L307.0 709.7 L307.2 709.5 L307.7 709.3 L308.2 709.0 L308.5 708.8 L308.7 708.6 L309.2 708.1 L309.7 707.6 L310.0 707.4 L310.2 707.1 L310.7 706.5 L311.2 705.8 L311.5 705.4 L311.7 704.9 L312.2 703.3 L312.7 701.5 L313.0 700.5 L313.2 699.5 L313.7 697.6 L314.2 696.1 L314.5 695.5 L314.7 695.0 L315.2 694.0 L315.7 693.0 L316.0 692.6 L316.2 692.3 L316.7 691.9 L317.2 691.8 L317.5 691.9 L317.7 692.0 L318.2 692.2 L318.7 692.6 L319.0 692.8 L319.2 693.1 L319.7 694.2 L320.2 696.5 L320.5 697.9 L320.7 699.3 L321.2 701.8 L321.7 703.4 L322.0 704.0 L322.2 704.7 L322.7 705.9 L323.2 707.0 L323.5 707.5 L323.7 708.0 L324.2 708.8 L324.7 709.3 L325.0 709.4 L325.2 709.4 L325.7 709.4 L326.2 709.4 L326.5 709.4 L326.7 709.4 L327.2 709.4 L327.7 709.4 L328.0 709.4 L328.2 709.4 L328.7 709.4 L329.2 709.4 L329.5 709.4 L329.7 709.4 L330.2 709.4 L330.7 709.4 L331.0 709.4 L331.2 709.4 L331.7 709.4 L332.2 709.4 L332.5 709.4 L332.7 709.4 L333.2 709.4 L333.7 709.4 L334.0 709.4 L334.2 709.4 L334.7 709.4 L335.5 709.4 L337.0 709.4 L338.5 709.3 L340.0 709.1 L341.5 708.8 L343.0 708.6 L344.5 708.5 L346.0 708.4 L347.5 708.4 L349.0 708.5 L350.5 708.6 L352.0 708.7 L353.5 708.9 L355.0 709.0 L356.5 709.2 L358.0 709.4 L359.5 709.5 L361.0 709.6 L362.5 709.7 L364.0 709.8 L365.5 709.9 L367.0 710.0 L368.5 710.1 L370.0 710.2 L371.5 710.3 L373.0 710.4 L374.5 710.5 L376.0 710.6 L377.5 710.6 L379.0 710.7 L380.5 710.7 L382.0 710.7 L383.5 710.7 L385.0 710.7 L386.5 710.7 L388.0 710.7 L389.5 710.7 L391.0 710.7 L392.5 710.7 L394.0 710.6 L395.5 710.6 L397.0 710.6 L398.5 710.6 L400.0 710.5 L401.5 710.5 L403.0 710.5 L404.5 710.4 L406.0 710.4 L407.5 710.3 L409.0 710.3 L410.5 710.3 L412.0 710.2 L413.5 710.2 L415.0 710.1 L416.5 710.1 L418.0 710.0 L419.5 710.0 L421.0 709.9 L422.5 709.9 L424.0 709.8 L425.5 709.8 L427.0 709.7 L428.5 709.6 L430.0 709.6 L431.5 709.5 L433.0 709.5 L434.5 709.4 L436.0 709.3 L437.5 709.2 L439.0 709.1 L440.2 708.9 L440.5 708.9 L440.7 708.9 L441.2 708.9 L441.7 708.8 L442.0 708.8 L442.2 708.7 L442.7 708.7 L443.2 708.6 L443.5 708.5 L443.7 708.5 L444.2 708.3 L444.7 708.2 L445.0 708.1 L445.2 708.0 L445.7 707.8 L446.2 707.7 L446.5 707.6 L446.7 707.5 L447.2 707.2 L447.7 707.0 L448.0 706.9 L448.2 706.8 L448.7 706.6 L449.2 706.4 L449.5 706.2 L449.7 706.1 L450.2 705.9 L450.7 705.5 L451.0 705.3 L451.2 705.1 L451.7 704.7 L452.2 704.3 L452.5 704.1 L452.7 703.8 L453.2 703.4 L453.7 703.1 L454.0 702.9 L454.2 702.8 L454.7 702.6 L455.2 702.5 L455.5 702.4 L455.7 702.5 L456.2 702.5 L456.7 702.7 L457.0 702.8 L457.2 702.9 L457.7 703.1 L458.2 703.4 L458.5 703.5 L458.7 703.7 L459.2 703.9 L459.7 704.2 L460.0 704.4 L460.2 704.5 L460.7 704.8 L461.2 705.0 L461.5 705.1 L461.7 705.2 L462.2 705.4 L462.7 705.7 L463.0 705.8 L463.2 705.9 L463.7 706.1 L464.2 706.3 L464.5 706.5 L464.7 706.6 L465.2 706.8 L465.7 707.0 L466.0 707.1 L466.2 707.2 L466.7 707.3 L467.2 707.5 L467.5 707.5 L467.7 707.6 L468.2 707.7 L468.7 707.8 L469.0 707.8 L469.2 707.8 L469.7 707.9 L470.2 707.9 L470.5 707.9 L470.7 707.9 L471.2 708.0 L471.7 708.0 L472.0 708.1 L472.2 708.1 L472.7 708.1 L473.2 708.2 L473.5 708.2 L473.7 708.2 L474.2 708.2 L474.7 708.3 L475.0 708.3 L476.5 708.4 L478.0 708.4 L479.5 708.5 L481.0 708.6 L482.5 708.6 L484.0 708.7 L485.5 708.8 L487.0 708.8 L488.5 708.9 L490.0 708.9 L491.5 708.9 L493.0 709.0 L494.5 709.1 L496.0 709.1 L497.5 709.2 L499.0 709.2 L500.5 709.3 L502.0 709.3 L503.5 709.4 L505.0 709.4 L506.5 709.5 L508.0 709.5 L509.5 709.6 L511.0 709.6 L512.5 709.7 L514.0 709.7 L515.5 709.8 L517.0 709.8 L518.5 709.9 L520.0 709.9 L521.5 710.0 L523.0 710.0 L524.5 710.1 L526.0 710.2 L527.5 710.2 L529.0 710.3 L530.5 710.3 L532.0 710.4 L533.5 710.4 L535.0 710.5 L536.5 710.5 L538.0 710.6 L539.5 710.6 L541.0 710.7 L542.5 710.7 L544.0 710.7 L545.5 710.7 L547.0 710.7 L548.5 710.7 L550.0 710.7 L551.5 710.7 L553.0 710.7 L554.5 710.7 L556.0 710.7 L557.5 710.7 L559.0 710.7 L560.5 710.7 L562.0 710.7 L563.5 710.7 L565.0 710.7 L566.5 710.7 L568.0 710.7 L569.5 710.7 L571.0 710.7 L572.5 710.7 L574.0 710.7 L575.5 710.7 L577.0 710.7 L578.5 710.7 L580.0 710.7 L581.5 710.7 L583.0 710.7 L584.5 710.7 L586.0 710.7 L587.5 710.7 L589.0 710.7 L590.5 710.7 L592.0 710.7 L593.5 710.7 L595.0 710.7 L596.5 710.7 L598.0 710.7 L599.5 710.7 L601.0 710.7 L602.5 710.7 L604.0 710.7 L605.5 710.7 L607.0 710.7 L608.5 710.7 L610.0 710.7 L611.5 710.7 L613.0 710.7 L614.5 710.7 L616.0 710.7 L617.5 710.7 L619.0 710.7 L620.5 710.7 L622.0 710.7 L623.5 710.7 L625.0 710.7 L626.5 710.7 L628.0 710.7 L629.5 710.7 L631.0 710.7 L632.5 710.7 L634.0 710.7 L635.5 710.7 L637.0 710.7 L638.5 710.7 L640.0 710.7 L641.5 710.7 L643.0 710.7 L644.5 710.7 L646.0 710.7 L647.5 710.7 L649.0 710.7 L650.5 710.7 L652.0 710.7 L653.5 710.7 L655.0 710.7 L656.5 710.7 L658.0 710.8 L659.5 710.8 L661.0 710.8 L662.5 710.8 L664.0 710.8 L665.5 710.8 L667.0 710.8 L668.5 710.8 L670.0 710.8 L671.5 710.8 L673.0 710.8 L674.5 710.8 L676.0 710.8 L677.5 710.8 L679.0 710.8 L680.5 710.8 L682.0 710.9 L683.5 710.9 L685.0 710.9 L686.5 710.9 L688.0 710.9 L689.5 710.9 L691.0 710.9 L692.5 710.9 L694.0 710.9 L695.5 711.0 L697.0 711.0 L698.5 711.0 L700.0 711.0 L701.5 711.0 L703.0 711.0 L704.5 711.0 L706.0 711.1 L707.5 711.1 L709.0 711.1 L710.5 711.1 L712.0 711.1 L713.5 711.1 L715.0 711.1 L716.5 711.2 L718.0 711.2 L719.5 711.2 L721.0 711.2 L722.5 711.2 L724.0 711.2 L725.5 711.3 L727.0 711.3 L728.5 711.3 L730.0 711.3 L731.5 711.3 L733.0 711.3 L734.5 711.4 L736.0 711.4 L737.5 711.4 L739.0 711.4 L740.5 711.4 L742.0 711.4 L743.5 711.5 L745.0 711.5 L746.5 711.5 L748.0 711.5 L749.5 711.5 L751.0 711.5 L752.5 711.5 L754.0 711.6 L755.5 711.6 L757.0 711.6 L758.5 711.6 L760.0 711.6 L761.5 711.6 L763.0 711.7 L764.5 711.7 L766.0 711.7 L767.5 711.7 L769.0 711.7 L770.5 711.7 L772.0 711.7 L773.5 711.8 L775.0 711.8 L776.5 711.8 L778.0 711.8 L779.5 711.8 L781.0 711.8 L782.5 711.8 L784.0 711.8 L785.5 711.8 L787.0 711.9 L788.5 711.9 L790.0 711.9 L791.5 711.9 L793.0 711.9 L794.5 711.9 L796.0 711.9 L797.5 711.9 L799.0 711.9 L800.5 711.9 L802.0 711.9 L803.5 711.9 L805.0 712.0 L806.5 712.0 L808.0 712.0 L809.5 712.0 L811.0 712.0 L812.5 712.0 L814.0 712.0 L815.5 712.0 L817.0 712.0 L818.5 712.0 L820.0 712.0 L821.5 712.0 L823.0 712.0 L824.5 712.0 L826.0 712.0 L827.5 711.9 L829.0 711.9 L830.5 711.9 L832.0 711.9 L833.5 711.9 L835.0 711.8 L836.5 711.8 L838.0 711.8 L839.5 711.7 L841.0 711.7 L842.5 711.6 L844.0 711.6 L845.5 711.6 L847.0 711.5 L848.5 711.5 L850.0 711.4 L851.5 711.4 L853.0 711.3 L854.5 711.3 L856.0 711.2 L857.5 711.1 L859.0 711.0 L860.5 710.9 L862.0 710.8 L863.5 710.7 L865.0 710.5 L866.5 710.4 L868.0 710.2 L869.5 710.0 L871.0 709.8 L872.5 709.6 L874.0 709.2 L875.5 708.8 L877.0 708.4 L878.5 707.9 L880.0 707.3 L880.2 707.2 L880.7 707.0 L881.2 706.7 L881.5 706.6 L881.7 706.5 L882.2 706.2 L882.7 705.9 L883.0 705.8 L883.2 705.6 L883.7 705.2 L884.2 704.8 L884.5 704.6 L884.7 704.4 L885.2 703.9 L885.7 703.3 L886.0 703.1 L886.2 702.8 L886.7 702.1 L887.2 701.4 L887.5 701.1 L887.7 700.7 L888.2 699.7 L888.7 698.5 L889.0 697.9 L889.2 697.2 L889.7 695.6 L890.2 694.0 L890.5 693.1 L890.7 692.2 L891.2 690.4 L891.7 688.5 L892.0 687.5 L892.2 686.5 L892.7 684.4 L893.2 681.7 L893.5 680.2 L893.7 678.6 L894.2 675.0 L894.7 670.9 L895.0 668.6 L895.2 666.3 L895.7 661.3 L896.2 655.2 L896.5 651.7 L896.7 648.2 L897.2 641.1 L897.7 635.4 L898.0 632.8 L898.2 630.2 L898.7 626.3 L899.2 626.1 L899.5 627.4 L899.7 629.3 L900.2 634.4 L900.7 645.9 L901.0 652.9 L901.2 659.4 L901.7 668.3 L902.2 674.5 L902.5 677.2 L902.7 679.5 L903.2 683.4 L903.7 686.2 L904.0 687.3 L904.2 688.4 L904.7 690.3 L905.2 692.0 L905.5 692.7 L905.7 693.3 L906.2 694.4 L906.7 695.2 L907.0 695.4 L907.2 695.6 L907.7 696.0 L908.2 696.4 L908.5 696.6 L908.7 696.8 L909.2 697.1 L909.7 697.3 L910.0 697.4 L910.2 697.5 L910.7 697.7 L911.2 697.7 L911.5 697.7 L911.7 697.6 L912.2 697.5 L912.7 697.2 L913.0 697.1 L913.2 696.9 L913.7 696.5 L914.2 696.1 L914.5 695.8 L914.7 695.6 L915.2 695.1 L915.7 694.6 L916.0 694.3 L916.2 694.0 L916.7 693.3 L917.2 692.5 L917.5 692.0 L917.7 691.6 L918.2 690.6 L918.7 689.6 L919.0 689.0 L919.2 688.5 L919.7 687.4 L920.2 686.3 L920.5 685.7 L920.7 685.1 L921.2 684.0 L921.7 682.7 L922.0 682.1 L922.2 681.4 L922.7 680.1 L923.2 678.7 L923.5 678.0 L923.7 677.3 L924.2 675.9 L924.7 674.4 L925.0 673.7 L925.2 672.9 L925.7 671.2 L926.2 669.4 L926.5 668.4 L926.7 667.4 L927.2 665.2 L927.7 662.8 L928.0 661.6 L928.2 660.2 L928.7 657.4 L929.2 654.4 L929.5 652.9 L929.7 651.3 L930.2 647.6 L930.7 643.5 L931.0 641.3 L931.2 639.3 L931.7 635.4 L932.2 631.8 L932.5 630.0 L932.7 628.4 L933.2 627.0 L933.7 628.6 L934.0 630.2 L934.2 632.1 L934.7 636.6 L935.2 644.8 L935.5 649.3 L935.7 653.6 L936.2 660.0 L936.7 665.3 L937.0 667.7 L937.2 669.9 L937.7 673.6 L938.2 676.3 L938.5 677.3 L938.7 678.0 L939.2 679.1 L939.7 680.1 L940.0 680.5 L940.2 680.8 L940.7 681.5 L941.2 682.1 L941.5 682.4 L941.7 682.7 L942.2 683.2 L942.7 683.8 L943.0 684.1 L943.2 684.3 L943.7 684.8 L944.2 685.3 L944.5 685.5 L944.7 685.7 L945.2 686.2 L945.7 686.6 L946.0 686.9 L946.2 687.1 L946.7 687.7 L947.2 688.3 L947.5 688.6 L947.7 689.0 L948.2 689.7 L948.7 690.5 L949.0 690.8 L949.2 691.2 L949.7 692.0 L950.2 692.8 L950.5 693.1 L950.7 693.5 L951.2 694.2 L951.7 694.9 L952.0 695.2 L952.2 695.5 L952.7 696.0 L953.2 696.5 L953.5 696.7 L953.7 696.9 L954.2 697.4 L954.7 697.8 L955.0 698.0 L955.2 698.2 L955.7 698.6 L956.2 699.0 L956.5 699.2 L956.7 699.4 L957.2 699.7 L957.7 700.0 L958.0 700.1 L958.2 700.2 L958.7 700.5 L959.2 700.6 L959.5 700.7 L959.7 700.8 L960.2 700.9 L960.7 701.0 L961.0 701.1 L961.2 701.1 L961.7 701.3 L962.2 701.4 L962.5 701.4 L962.7 701.5 L963.2 701.6 L963.7 701.7 L964.0 701.7 L964.2 701.7 L964.7 701.8 L965.5 701.9 L967.0 702.0 L968.5 702.0 L970.0 701.8 L971.5 701.5 L973.0 701.1 L974.5 700.7 L976.0 700.2 L977.5 699.7 L979.0 699.1 L980.5 698.6 L982.0 698.0 L983.5 697.4 L985.0 696.8 L986.5 696.2 L988.0 695.6 L989.5 694.9 L991.0 694.3 L992.5 693.7 L994.0 693.1 L995.5 692.5 L997.0 691.9 L998.5 691.3 L1000.0 690.8 L1001.5 690.3 L1003.0 689.8 L1004.5 689.3 L1006.0 688.8 L1007.5 688.3 L1009.0 687.8 L1010.5 687.4 L1012.0 687.0 L1013.5 686.6 L1015.0 686.3 L1016.5 686.0 L1018.0 685.7 L1019.5 685.4 L1021.0 685.2 L1022.5 684.9 L1024.0 684.7 L1025.5 684.5 L1027.0 684.3 L1028.5 684.1 L1030.0 684.0 L1031.5 683.8 L1033.0 683.7 L1034.5 683.6 L1036.0 683.5 L1037.5 683.5 L1039.0 683.4 L1040.5 683.3 L1042.0 683.3 L1043.5 683.2 L1045.0 683.1 L1046.5 683.1 L1048.0 683.0 L1049.5 682.9 L1051.0 682.8 L1052.5 682.7 L1054.0 682.6 L1055.5 682.5 L1057.0 682.3 L1058.5 682.1 L1060.0 681.9 L1061.5 681.6 L1063.0 681.3 L1064.5 681.0 L1066.0 680.7 L1067.5 680.4 L1069.0 680.1 L1070.5 679.8 L1072.0 679.5 L1073.5 679.2 L1075.0 679.0 L1076.5 678.7 L1078.0 678.5 L1079.5 678.3 L1081.0 678.1 L1082.5 677.8 L1084.0 677.6 L1085.5 677.5 L1087.0 677.5 L1088.5 677.7 L1090.0 678.0 L1091.5 678.3 L1093.0 678.8 L1094.5 679.3 L1096.0 680.0 L1097.5 680.7 L1099.0 681.5 L1100.5 682.4 L1102.0 683.4 L1103.5 684.4 L1105.0 685.4 L1106.5 686.4 L1108.0 687.3 L1109.5 688.1 L1111.0 688.9 L1112.5 689.7 L1114.0 690.5 L1115.5 691.3 L1117.0 692.1 L1118.5 692.8 L1120.0 693.6 L1121.5 694.3 L1123.0 695.0 L1124.5 695.6 L1126.0 696.3 L1127.5 696.9 L1129.0 697.5 L1130.5 698.1 L1132.0 698.7 L1133.5 699.3 L1135.0 699.8 L1136.5 700.4 L1138.0 700.9 L1139.5 701.5 L1141.0 702.0 L1142.5 702.4 L1144.0 702.9 L1145.5 703.4 L1147.0 703.8 L1148.5 704.3 L1150.0 704.7 L1151.5 705.1 L1153.0 705.5 L1154.5 705.8 L1156.0 706.2 L1157.5 706.6 L1159.0 707.0 L1160.5 707.3 L1162.0 707.7 L1163.5 708.0 L1165.0 708.4 L1166.5 708.8 L1168.0 709.2 L1169.5 709.6 L1171.0 710.0 L1172.5 710.4 L1174.0 710.7 L1175.5 711.0 L1177.0 711.2 L1178.5 711.3 L1180.0 711.4 L1181.5 711.5 L1183.0 711.6 L1184.5 711.7 L1186.0 711.7 L1187.5 711.8 L1189.0 711.9 L1190.5 711.9 L1192.0 711.9 L1193.5 712.0 L1195.0 712.0 L1196.5 712.0 L1198.0 712.0 L1199.5 712.0 L1201.0 712.0 L1202.5 712.0 L1204.0 712.0 L1205.5 712.0 L1207.0 712.0 L1208.5 712.0 L1210.0 712.0 L1211.5 712.0 L1213.0 712.0 L1214.5 712.0 L1216.0 712.0 L1217.5 712.0 L1219.0 712.0 L1220.5 712.0 L1222.0 712.0 L1223.5 712.0 L1225.0 712.0 L1226.5 712.0 L1228.0 712.0 L1229.5 712.0 L1231.0 712.0 L1232.5 712.0 L1234.0 712.0 L1235.5 712.0 L1237.0 712.0 L1238.5 712.0 L1240.0 712.0 L1241.5 712.0 L1243.0 712.0 L1244.5 712.0 L1246.0 712.0 L1247.5 712.0 L1249.0 712.0 L1250.5 712.0 L1252.0 712.0 L1253.5 712.0 L1255.0 712.0 L1256.5 712.0 L1258.0 712.0 L1259.5 712.0 L1261.0 712.0 L1262.5 712.0 L1264.0 712.0 L1265.5 712.0 L1267.0 712.0 L1268.0 712.0"/>
<path stroke="#808000" d="M151.0 642.7 L152.5 642.7 L154.0 642.7 L155.5 642.7 L157.0 642.7 L158.5 642.7 L160.0 642.7 L161.5 642.7 L163.0 642.7 L164.5 642.7 L166.0 642.7 L167.5 642.7 L169.0 642.7 L170.5 642.7 L172.0 642.7 L173.5 642.7 L175.0 642.7 L176.5 642.7 L178.0 642.7 L179.5 642.7 L181.0 642.7 L182.5 642.7 L184.0 642.7 L185.5 642.7 L187.0 642.7 L188.5 642.7 L190.0 642.7 L191.5 642.7 L193.0 642.7 L194.5 642.7 L196.0 642.7 L197.5 642.7 L199.0 642.7 L200.5 642.7 L202.0 642.7 L203.5 642.7 L205.0 642.7 L206.5 642.7 L208.0 642.7 L209.5 642.7 L211.0 642.7 L212.5 642.7 L214.0 642.7 L215.5 642.7 L217.0 642.7 L218.5 642.7 L220.0 642.7 L221.5 642.7 L223.0 642.7 L224.5 642.7 L226.0 642.7 L227.5 642.7 L229.0 642.7 L230.5 642.7 L232.0 642.7 L233.5 642.7 L235.0 642.7 L236.5 642.7 L238.0 642.7 L239.5 642.7 L241.0 642.7 L242.5 642.7 L244.0 642.7 L245.5 642.7 L247.0 642.7 L248.5 642.7 L250.0 642.7 L251.5 642.7 L253.0 642.7 L254.5 642.7 L256.0 642.7 L257.5 642.7 L259.0 642.7 L260.5 642.7 L262.0 642.7 L263.5 642.7 L265.0 642.8 L266.5 642.8 L268.0 642.8 L269.5 642.8 L271.0 642.8 L272.5 642.8 L274.0 642.8 L275.5 642.9 L277.0 642.9 L278.5 642.9 L280.0 642.9 L281.5 642.9 L283.0 642.9 L284.5 642.9 L286.0 643.0 L287.5 643.0 L289.0 643.0 L290.5 643.0 L292.0 643.0 L293.5 643.0 L295.0 643.0 L296.5 643.0 L298.0 643.0 L299.5 643.0 L300.2 643.0 L300.7 643.0 L301.0 642.9 L301.2 642.9 L301.7 642.9 L302.2 642.8 L302.5 642.8 L302.7 642.7 L303.2 642.7 L303.7 642.6 L304.0 642.5 L304.2 642.5 L304.7 642.3 L305.2 642.2 L305.5 642.2 L305.7 642.1 L306.2 642.0 L306.7 641.8 L307.0 641.6 L307.2 641.5 L307.7 641.1 L308.2 640.7 L308.5 640.4 L308.7 640.2 L309.2 639.6 L309.7 639.0 L310.0 638.7 L310.2 638.4 L310.7 637.7 L311.2 637.0 L311.5 636.5 L311.7 635.9 L312.2 634.6 L312.7 633.1 L313.0 632.3 L313.2 631.5 L313.7 630.0 L314.2 628.7 L314.5 628.0 L314.7 627.3 L315.2 626.0 L315.7 625.2 L316.0 625.1 L316.2 625.2 L316.7 625.8 L317.2 626.8 L317.5 627.4 L317.7 628.0 L318.2 629.2 L318.7 630.5 L319.0 631.4 L319.2 632.2 L319.7 634.0 L320.2 635.7 L320.5 636.4 L320.7 636.9 L321.2 637.7 L321.7 638.4 L322.0 638.8 L322.2 639.1 L322.7 639.8 L323.2 640.3 L323.5 640.6 L323.7 640.9 L324.2 641.3 L324.7 641.6 L325.0 641.8 L325.2 641.9 L325.7 642.0 L326.2 642.0 L326.5 642.0 L326.7 642.0 L327.2 642.0 L327.7 642.0 L328.0 642.0 L328.2 642.0 L328.7 642.0 L329.2 642.0 L329.5 642.0 L329.7 642.0 L330.2 641.9 L330.7 641.9 L331.0 641.9 L331.2 641.9 L331.7 641.9 L332.2 641.9 L332.5 641.9 L332.7 641.8 L333.2 641.8 L333.7 641.8 L334.0 641.8 L334.2 641.8 L334.7 641.7 L335.5 641.7 L337.0 641.6 L338.5 641.6 L340.0 641.5 L341.5 641.4 L343.0 641.4 L344.5 641.4 L346.0 641.4 L347.5 641.4 L349.0 641.4 L350.5 641.5 L352.0 641.7 L353.5 641.8 L355.0 642.0 L356.5 642.1 L358.0 642.3 L359.5 642.4 L361.0 642.6 L362.5 642.7 L364.0 642.8 L365.5 642.9 L367.0 643.0 L368.5 643.1 L370.0 643.2 L371.5 643.3 L373.0 643.4 L374.5 643.4 L376.0 643.5 L377.5 643.6 L379.0 643.6 L380.5 643.7 L382.0 643.7 L383.5 643.7 L385.0 643.7 L386.5 643.7 L388.0 643.7 L389.5 643.6 L391.0 643.6 L392.5 643.6 L394.0 643.6 L395.5 643.6 L397.0 643.5 L398.5 643.5 L400.0 643.5 L401.5 643.4 L403.0 643.4 L404.5 643.4 L406.0 643.3 L407.5 643.3 L409.0 643.2 L410.5 643.2 L412.0 643.1 L413.5 643.1 L415.0 643.0 L416.5 643.0 L418.0 642.9 L419.5 642.9 L421.0 642.8 L422.5 642.8 L424.0 642.7 L425.5 642.7 L427.0 642.6 L428.5 642.6 L430.0 642.5 L431.5 642.5 L433.0 642.4 L434.5 642.3 L436.0 642.2 L437.5 642.1 L439.0 642.0 L440.2 641.9 L440.5 641.9 L440.7 641.8 L441.2 641.8 L441.7 641.7 L442.0 641.7 L442.2 641.7 L442.7 641.6 L443.2 641.5 L443.5 641.5 L443.7 641.4 L444.2 641.3 L444.7 641.1 L445.0 641.0 L445.2 640.9 L445.7 640.7 L446.2 640.5 L446.5 640.4 L446.7 640.3 L447.2 640.1 L447.7 639.9 L448.0 639.8 L448.2 639.7 L448.7 639.5 L449.2 639.2 L449.5 639.1 L449.7 639.0 L450.2 638.8 L450.7 638.6 L451.0 638.4 L451.2 638.3 L451.7 638.0 L452.2 637.7 L452.5 637.5 L452.7 637.4 L453.2 637.0 L453.7 636.7 L454.0 636.6 L454.2 636.4 L454.7 636.1 L455.2 635.9 L455.5 635.7 L455.7 635.6 L456.2 635.5 L456.7 635.4 L457.0 635.4 L457.2 635.4 L457.7 635.4 L458.2 635.6 L458.5 635.7 L458.7 635.8 L459.2 636.0 L459.7 636.3 L460.0 636.4 L460.2 636.6 L460.7 636.9 L461.2 637.3 L461.5 637.4 L461.7 637.6 L462.2 637.9 L462.7 638.2 L463.0 638.3 L463.2 638.5 L463.7 638.7 L464.2 638.9 L464.5 639.0 L464.7 639.1 L465.2 639.3 L465.7 639.5 L466.0 639.6 L466.2 639.7 L466.7 639.9 L467.2 640.1 L467.5 640.2 L467.7 640.3 L468.2 640.5 L468.7 640.6 L469.0 640.7 L469.2 640.8 L469.7 640.9 L470.2 641.1 L470.5 641.1 L470.7 641.2 L471.2 641.3 L471.7 641.3 L472.0 641.4 L472.2 641.4 L472.7 641.4 L473.2 641.4 L473.5 641.5 L473.7 641.5 L474.2 641.5 L474.7 641.5 L475.0 641.6 L476.5 641.7 L478.0 641.7 L479.5 641.8 L481.0 641.9 L482.5 641.9 L484.0 642.0 L485.5 642.0 L487.0 642.1 L488.5 642.1 L490.0 642.2 L491.5 642.2 L493.0 642.2 L494.5 642.3 L496.0 642.3 L497.5 642.3 L499.0 642.4 L500.5 642.4 L502.0 642.4 L503.5 642.5 L505.0 642.5 L506.5 642.5 L508.0 642.5 L509.5 642.6 L511.0 642.6 L512.5 642.6 L514.0 642.7 L515.5 642.7 L517.0 642.7 L518.5 642.8 L520.0 642.8 L521.5 642.9 L523.0 642.9 L524.5 643.0 L526.0 643.0 L527.5 643.1 L529.0 643.2 L530.5 643.2 L532.0 643.3 L533.5 643.3 L535.0 643.4 L536.5 643.5 L538.0 643.5 L539.5 643.5 L541.0 643.6 L542.5 643.6 L544.0 643.6 L545.5 643.7 L547.0 643.7 L548.5 643.7 L550.0 643.7 L551.5 643.7 L553.0 643.7 L554.5 643.7 L556.0 643.7 L557.5 643.7 L559.0 643.7 L560.5 643.7 L562.0 643.7 L563.5 643.7 L565.0 643.7 L566.5 643.7 L568.0 643.7 L569.5 643.7 L571.0 643.7 L572.5 643.7 L574.0 643.7 L575.5 643.7 L577.0 643.7 L578.5 643.7 L580.0 643.7 L581.5 643.7 L583.0 643.7 L584.5 643.7 L586.0 643.7 L587.5 643.7 L589.0 643.7 L590.5 643.7 L592.0 643.7 L593.5 643.7 L595.0 643.7 L596.5 643.7 L598.0 643.7 L599.5 643.7 L601.0 643.7 L602.5 643.7 L604.0 643.7 L605.5 643.7 L607.0 643.7 L608.5 643.7 L610.0 643.7 L611.5 643.7 L613.0 643.7 L614.5 643.7 L616.0 643.7 L617.5 643.7 L619.0 643.7 L620.5 643.7 L622.0 643.7 L623.5 643.7 L625.0 643.7 L626.5 643.7 L628.0 643.7 L629.5 643.7 L631.0 643.7 L632.5 643.7 L634.0 643.7 L635.5 643.7 L637.0 643.7 L638.5 643.7 L640.0 643.7 L641.5 643.7 L643.0 643.7 L644.5 643.7 L646.0 643.7 L647.5 643.7 L649.0 643.7 L650.5 643.7 L652.0 643.7 L653.5 643.7 L655.0 643.7 L656.5 643.7 L658.0 643.7 L659.5 643.7 L661.0 643.7 L662.5 643.7 L664.0 643.7 L665.5 643.7 L667.0 643.7 L668.5 643.7 L670.0 643.7 L671.5 643.7 L673.0 643.7 L674.5 643.7 L676.0 643.7 L677.5 643.7 L679.0 643.6 L680.5 643.6 L682.0 643.6 L683.5 643.6 L685.0 643.6 L686.5 643.6 L688.0 643.6 L689.5 643.6 L691.0 643.6 L692.5 643.6 L694.0 643.6 L695.5 643.6 L697.0 643.6 L698.5 643.6 L700.0 643.6 L701.5 643.6 L703.0 643.6 L704.5 643.6 L706.0 643.6 L707.5 643.6 L709.0 643.6 L710.5 643.6 L712.0 643.5 L713.5 643.5 L715.0 643.5 L716.5 643.5 L718.0 643.5 L719.5 643.5 L721.0 643.5 L722.5 643.5 L724.0 643.5 L725.5 643.5 L727.0 643.5 L728.5 643.5 L730.0 643.5 L731.5 643.5 L733.0 643.5 L734.5 643.4 L736.0 643.4 L737.5 643.4 L739.0 643.4 L740.5 643.4 L742.0 643.4 L743.5 643.4 L745.0 643.4 L746.5 643.4 L748.0 643.4 L749.5 643.4 L751.0 643.4 L752.5 643.4 L754.0 643.3 L755.5 643.3 L757.0 643.3 L758.5 643.3 L760.0 643.3 L761.5 643.3 L763.0 643.3 L764.5 643.3 L766.0 643.3 L767.5 643.3 L769.0 643.3 L770.5 643.2 L772.0 643.2 L773.5 643.2 L775.0 643.2 L776.5 643.2 L778.0 643.2 L779.5 643.2 L781.0 643.2 L782.5 643.2 L784.0 643.2 L785.5 643.2 L787.0 643.1 L788.5 643.1 L790.0 643.1 L791.5 643.1 L793.0 643.1 L794.5 643.1 L796.0 643.1 L797.5 643.1 L799.0 643.1 L800.5 643.1 L802.0 643.0 L803.5 643.0 L805.0 643.0 L806.5 643.0 L808.0 643.0 L809.5 643.0 L811.0 643.0 L812.5 643.0 L814.0 643.0 L815.5 643.0 L817.0 642.9 L818.5 642.9 L820.0 642.9 L821.5 642.9 L823.0 642.9 L824.5 642.9 L826.0 642.9 L827.5 642.9 L829.0 642.9 L830.5 642.9 L832.0 642.8 L833.5 642.8 L835.0 642.8 L836.5 642.8 L838.0 642.8 L839.5 642.8 L841.0 642.8 L842.5 642.8 L844.0 642.7 L845.5 642.7 L847.0 642.7 L848.5 642.7 L850.0 642.6 L851.5 642.6 L853.0 642.6 L854.5 642.6 L856.0 642.5 L857.5 642.4 L859.0 642.3 L860.5 642.2 L862.0 642.1 L863.5 642.0 L865.0 641.8 L866.5 641.6 L868.0 641.5 L869.5 641.3 L871.0 641.1 L872.5 640.9 L874.0 640.7 L875.5 640.4 L877.0 640.1 L878.5 639.7 L880.0 639.3 L880.2 639.2 L880.7 639.1 L881.2 638.9 L881.5 638.8 L881.7 638.8 L882.2 638.6 L882.7 638.4 L883.0 638.3 L883.2 638.2 L883.7 638.0 L884.2 637.7 L884.5 637.6 L884.7 637.4 L885.2 637.1 L885.7 636.7 L886.0 636.5 L886.2 636.3 L886.7 635.8 L887.2 635.4 L887.5 635.1 L887.7 634.8 L888.2 634.3 L888.7 633.7 L889.0 633.4 L889.2 633.1 L889.7 632.3 L890.2 631.4 L890.5 630.9 L890.7 630.4 L891.2 629.2 L891.7 627.9 L892.0 627.2 L892.2 626.5 L892.7 625.0 L893.2 623.3 L893.5 622.5 L893.7 621.6 L894.2 619.6 L894.7 617.2 L895.0 615.6 L895.2 613.9 L895.7 609.9 L896.2 605.4 L896.5 603.0 L896.7 600.6 L897.2 595.5 L897.7 589.7 L898.0 586.8 L898.2 584.2 L898.7 580.3 L899.2 577.1 L899.5 576.1 L899.7 575.9 L900.2 577.6 L900.7 581.0 L901.0 583.6 L901.2 587.8 L901.7 598.0 L902.2 606.2 L902.5 608.8 L902.7 611.2 L903.2 615.3 L903.7 618.5 L904.0 619.8 L904.2 620.8 L904.7 622.5 L905.2 623.9 L905.5 624.6 L905.7 625.2 L906.2 626.2 L906.7 627.0 L907.0 627.3 L907.2 627.6 L907.7 628.1 L908.2 628.5 L908.5 628.6 L908.7 628.8 L909.2 629.2 L909.7 629.5 L910.0 629.6 L910.2 629.7 L910.7 630.0 L911.2 630.2 L911.5 630.2 L911.7 630.3 L912.2 630.3 L912.7 630.2 L913.0 630.2 L913.2 630.1 L913.7 629.8 L914.2 629.5 L914.5 629.3 L914.7 629.1 L915.2 628.7 L915.7 628.2 L916.0 627.9 L916.2 627.7 L916.7 627.2 L917.2 626.7 L917.5 626.4 L917.7 626.1 L918.2 625.4 L918.7 624.6 L919.0 624.2 L919.2 623.8 L919.7 622.9 L920.2 622.0 L920.5 621.5 L920.7 621.0 L921.2 620.0 L921.7 618.9 L922.0 618.4 L922.2 617.8 L922.7 616.6 L923.2 615.3 L923.5 614.6 L923.7 613.9 L924.2 612.4 L924.7 611.0 L925.0 610.2 L925.2 609.5 L925.7 608.0 L926.2 606.4 L926.5 605.7 L926.7 604.9 L927.2 603.2 L927.7 601.5 L928.0 600.6 L928.2 599.5 L928.7 597.3 L929.2 594.8 L929.5 593.5 L929.7 592.1 L930.2 589.2 L930.7 586.2 L931.0 584.5 L931.2 582.7 L931.7 579.0 L932.2 575.8 L932.5 574.6 L932.7 573.4 L933.2 571.6 L933.7 571.4 L934.0 572.2 L934.2 573.4 L934.7 576.4 L935.2 583.1 L935.5 587.3 L935.7 591.4 L936.2 597.7 L936.7 602.8 L937.0 605.1 L937.2 607.3 L937.7 610.9 L938.2 613.5 L938.5 614.4 L938.7 615.0 L939.2 616.1 L939.7 617.0 L940.0 617.4 L940.2 617.8 L940.7 618.5 L941.2 619.1 L941.5 619.4 L941.7 619.6 L942.2 620.1 L942.7 620.6 L943.0 620.9 L943.2 621.1 L943.7 621.6 L944.2 622.1 L944.5 622.3 L944.7 622.5 L945.2 622.9 L945.7 623.3 L946.0 623.5 L946.2 623.7 L946.7 624.1 L947.2 624.4 L947.5 624.6 L947.7 624.8 L948.2 625.2 L948.7 625.6 L949.0 625.8 L949.2 626.0 L949.7 626.5 L950.2 627.0 L950.5 627.2 L950.7 627.4 L951.2 627.9 L951.7 628.4 L952.0 628.6 L952.2 628.8 L952.7 629.2 L953.2 629.6 L953.5 629.8 L953.7 629.9 L954.2 630.2 L954.7 630.4 L955.0 630.5 L955.2 630.7 L955.7 630.9 L956.2 631.1 L956.5 631.2 L956.7 631.3 L957.2 631.5 L957.7 631.7 L958.0 631.7 L958.2 631.8 L958.7 632.0 L959.2 632.1 L959.5 632.1 L959.7 632.2 L960.2 632.2 L960.7 632.3 L961.0 632.3 L961.2 632.3 L961.7 632.3 L962.2 632.3 L962.5 632.2 L962.7 632.2 L963.2 632.1 L963.7 632.1 L964.0 632.0 L964.2 632.0 L964.7 631.9 L965.5 631.8 L967.0 631.4 L968.5 631.1 L970.0 630.8 L971.5 630.4 L973.0 630.0 L974.5 629.5 L976.0 629.0 L977.5 628.5 L979.0 627.9 L980.5 627.2 L982.0 626.5 L983.5 625.8 L985.0 625.1 L986.5 624.3 L988.0 623.6 L989.5 622.8 L991.0 622.1 L992.5 621.4 L994.0 620.7 L995.5 620.0 L997.0 619.2 L998.5 618.4 L1000.0 617.6 L1001.5 616.9 L1003.0 616.1 L1004.5 615.5 L1006.0 614.8 L1007.5 614.3 L1009.0 613.8 L1010.5 613.4 L1012.0 613.0 L1013.5 612.6 L1015.0 612.2 L1016.5 611.9 L1018.0 611.6 L1019.5 611.3 L1021.0 611.1 L1022.5 610.8 L1024.0 610.6 L1025.5 610.4 L1027.0 610.3 L1028.5 610.1 L1030.0 610.0 L1031.5 609.9 L1033.0 609.8 L1034.5 609.7 L1036.0 609.6 L1037.5 609.5 L1039.0 609.4 L1040.5 609.3 L1042.0 609.2 L1043.5 609.1 L1045.0 609.0 L1046.5 608.9 L1048.0 608.8 L1049.5 608.7 L1051.0 608.5 L1052.5 608.4 L1054.0 608.2 L1055.5 608.0 L1057.0 607.7 L1058.5 607.4 L1060.0 607.1 L1061.5 606.8 L1063.0 606.5 L1064.5 606.2 L1066.0 605.9 L1067.5 605.7 L1069.0 605.4 L1070.5 605.2 L1072.0 605.0 L1073.5 604.8 L1075.0 604.6 L1076.5 604.4 L1078.0 604.2 L1079.5 604.0 L1081.0 603.8 L1082.5 603.6 L1084.0 603.5 L1085.5 603.4 L1087.0 603.5 L1088.5 603.7 L1090.0 603.9 L1091.5 604.3 L1093.0 604.6 L1094.5 604.9 L1096.0 605.4 L1097.5 605.9 L1099.0 606.4 L1100.5 607.1 L1102.0 607.9 L1103.5 608.8 L1105.0 609.8 L1106.5 610.9 L1108.0 611.9 L1109.5 613.0 L1111.0 614.0 L1112.5 614.9 L1114.0 615.8 L1115.5 616.8 L1117.0 617.8 L1118.5 618.7 L1120.0 619.7 L1121.5 620.6 L1123.0 621.5 L1124.5 622.4 L1126.0 623.2 L1127.5 624.0 L1129.0 624.8 L1130.5 625.5 L1132.0 626.1 L1133.5 626.8 L1135.0 627.4 L1136.5 628.0 L1138.0 628.5 L1139.5 629.1 L1141.0 629.7 L1142.5 630.2 L1144.0 630.8 L1145.5 631.4 L1147.0 631.9 L1148.5 632.5 L1150.0 633.1 L1151.5 633.6 L1153.0 634.2 L1154.5 634.8 L1156.0 635.3 L1157.5 635.8 L1159.0 636.3 L1160.5 636.8 L1162.0 637.3 L1163.5 637.7 L1165.0 638.2 L1166.5 638.7 L1168.0 639.1 L1169.5 639.6 L1171.0 640.0 L1172.5 640.4 L1174.0 640.8 L1175.5 641.1 L1177.0 641.4 L1178.5 641.6 L1180.0 641.8 L1181.5 641.9 L1183.0 642.1 L1184.5 642.3 L1186.0 642.4 L1187.5 642.6 L1189.0 642.7 L1190.5 642.8 L1192.0 642.9 L1193.5 642.9 L1195.0 642.9 L1196.5 642.9 L1198.0 642.9 L1199.5 642.9 L1201.0 642.9 L1202.5 642.9 L1204.0 642.9 L1205.5 642.9 L1207.0 642.9 L1208.5 642.9 L1210.0 642.9 L1211.5 642.9 L1213.0 642.9 L1214.5 642.9 L1216.0 642.9 L1217.5 642.9 L1219.0 642.9 L1220.5 642.9 L1222.0 642.9 L1223.5 642.9 L1225.0 642.9 L1226.5 642.9 L1228.0 642.9 L1229.5 642.9 L1231.0 642.9 L1232.5 642.9 L1234.0 642.9 L1235.5 642.9 L1237.0 642.9 L1238.5 642.9 L1240.0 642.9 L1241.5 642.9 L1243.0 642.9 L1244.5 642.9 L1246.0 642.9 L1247.5 642.9 L1249.0 642.9 L1250.5 642.9 L1252.0 642.9 L1253.5 642.9 L1255.0 642.9 L1256.5 642.9 L1258.0 642.9 L1259.5 642.9 L1261.0 642.9 L1262.5 642.9 L1264.0 642.9 L1265.5 642.9 L1267.0 642.9 L1268.0 642.9"/>
<path stroke="#FF5A00" d="M151.0 600.2 L152.5 600.2 L154.0 600.2 L155.5 600.2 L157.0 600.2 L158.5 600.2 L160.0 600.2 L161.5 600.2 L163.0 600.2 L164.5 600.2 L166.0 600.2 L167.5 600.2 L169.0 600.2 L170.5 600.2 L172.0 600.2 L173.5 600.2 L175.0 600.2 L176.5 600.2 L178.0 600.2 L179.5 600.2 L181.0 600.2 L182.5 600.2 L184.0 600.2 L185.5 600.2 L187.0 600.2 L188.5 600.2 L190.0 600.2 L191.5 600.2 L193.0 600.2 L194.5 600.2 L196.0 600.2 L197.5 600.2 L199.0 600.2 L200.5 600.2 L202.0 600.2 L203.5 600.2 L205.0 600.2 L206.5 600.2 L208.0 600.2 L209.5 600.2 L211.0 600.2 L212.5 600.2 L214.0 600.2 L215.5 600.2 L217.0 600.2 L218.5 600.2 L220.0 600.2 L221.5 600.2 L223.0 600.2 L224.5 600.2 L226.0 600.2 L227.5 600.2 L229.0 600.2 L230.5 600.2 L232.0 600.2 L233.5 600.2 L235.0 600.2 L236.5 600.2 L238.0 600.2 L239.5 600.2 L241.0 600.2 L242.5 600.2 L244.0 600.2 L245.5 600.2 L247.0 600.2 L248.5 600.2 L250.0 600.2 L251.5 600.2 L253.0 600.2 L254.5 600.2 L256.0 600.2 L257.5 600.2 L259.0 600.2 L260.5 600.2 L262.0 600.3 L263.5 600.3 L265.0 600.3 L266.5 600.3 L268.0 600.3 L269.5 600.3 L271.0 600.3 L272.5 600.4 L274.0 600.4 L275.5 600.4 L277.0 600.4 L278.5 600.4 L280.0 600.4 L281.5 600.5 L283.0 600.5 L284.5 600.5 L286.0 600.5 L287.5 600.5 L289.0 600.5 L290.5 600.5 L292.0 600.5 L293.5 600.5 L295.0 600.4 L296.5 600.2 L298.0 599.9 L299.5 599.6 L300.2 599.4 L300.7 599.2 L301.0 599.2 L301.2 599.1 L301.7 599.0 L302.2 598.8 L302.5 598.7 L302.7 598.6 L303.2 598.4 L303.7 598.1 L304.0 598.0 L304.2 597.8 L304.7 597.5 L305.2 597.0 L305.5 596.8 L305.7 596.6 L306.2 596.1 L306.7 595.5 L307.0 595.2 L307.2 594.9 L307.7 594.2 L308.2 593.1 L308.5 592.4 L308.7 591.6 L309.2 589.7 L309.7 587.6 L310.0 586.5 L310.2 585.3 L310.7 582.9 L311.2 580.3 L311.5 579.0 L311.7 577.4 L312.2 573.5 L312.7 568.8 L313.0 566.4 L313.2 563.9 L313.7 559.5 L314.2 556.1 L314.5 554.3 L314.7 552.6 L315.2 549.6 L315.7 547.7 L316.0 547.4 L316.2 547.7 L316.7 550.1 L317.2 553.8 L317.5 555.8 L317.7 557.8 L318.2 562.4 L318.7 568.2 L319.0 571.1 L319.2 573.8 L319.7 578.4 L320.2 581.9 L320.5 583.5 L320.7 585.2 L321.2 588.2 L321.7 590.8 L322.0 591.9 L322.2 592.9 L322.7 594.2 L323.2 594.9 L323.5 595.1 L323.7 595.4 L324.2 595.9 L324.7 596.4 L325.0 596.6 L325.2 596.8 L325.7 597.2 L326.2 597.5 L326.5 597.7 L326.7 597.8 L327.2 598.1 L327.7 598.3 L328.0 598.3 L328.2 598.4 L328.7 598.5 L329.2 598.5 L329.5 598.5 L329.7 598.5 L330.2 598.5 L330.7 598.5 L331.0 598.5 L331.2 598.5 L331.7 598.5 L332.2 598.5 L332.5 598.5 L332.7 598.5 L333.2 598.5 L333.7 598.5 L334.0 598.4 L334.2 598.4 L334.7 598.4 L335.5 598.4 L337.0 598.3 L338.5 598.2 L340.0 598.1 L341.5 597.7 L343.0 597.2 L344.5 596.7 L346.0 596.5 L347.5 596.9 L349.0 597.6 L350.5 598.3 L352.0 598.5 L353.5 598.4 L355.0 598.2 L356.5 597.8 L358.0 597.5 L359.5 597.3 L361.0 597.2 L362.5 597.4 L364.0 597.9 L365.5 598.4 L367.0 599.0 L368.5 599.4 L370.0 599.6 L371.5 599.8 L373.0 600.0 L374.5 600.1 L376.0 600.2 L377.5 600.4 L379.0 600.4 L380.5 600.5 L382.0 600.5 L383.5 600.5 L385.0 600.5 L386.5 600.5 L388.0 600.5 L389.5 600.5 L391.0 600.4 L392.5 600.4 L394.0 600.4 L395.5 600.3 L397.0 600.3 L398.5 600.3 L400.0 600.2 L401.5 600.2 L403.0 600.1 L404.5 600.0 L406.0 600.0 L407.5 599.9 L409.0 599.8 L410.5 599.8 L412.0 599.7 L413.5 599.6 L415.0 599.5 L416.5 599.4 L418.0 599.3 L419.5 599.3 L421.0 599.2 L422.5 599.1 L424.0 599.0 L425.5 598.9 L427.0 598.8 L428.5 598.6 L430.0 598.5 L431.5 598.3 L433.0 598.1 L434.5 597.9 L436.0 597.6 L437.5 597.3 L439.0 597.0 L440.2 596.7 L440.5 596.7 L440.7 596.6 L441.2 596.5 L441.7 596.3 L442.0 596.2 L442.2 596.2 L442.7 596.0 L443.2 595.8 L443.5 595.7 L443.7 595.6 L444.2 595.3 L444.7 595.0 L445.0 594.8 L445.2 594.6 L445.7 594.3 L446.2 593.9 L446.5 593.7 L446.7 593.5 L447.2 593.0 L447.7 592.6 L448.0 592.4 L448.2 592.1 L448.7 591.5 L449.2 590.9 L449.5 590.5 L449.7 590.1 L450.2 589.2 L450.7 588.4 L451.0 588.0 L451.2 587.6 L451.7 586.8 L452.2 586.1 L452.5 585.9 L452.7 585.6 L453.2 585.2 L453.7 584.7 L454.0 584.5 L454.2 584.3 L454.7 583.9 L455.2 583.5 L455.5 583.3 L455.7 583.1 L456.2 582.8 L456.7 582.6 L457.0 582.5 L457.2 582.4 L457.7 582.3 L458.2 582.3 L458.5 582.3 L458.7 582.4 L459.2 582.6 L459.7 582.9 L460.0 583.0 L460.2 583.2 L460.7 583.7 L461.2 584.1 L461.5 584.4 L461.7 584.6 L462.2 585.1 L462.7 585.6 L463.0 585.8 L463.2 586.1 L463.7 586.7 L464.2 587.3 L464.5 587.7 L464.7 588.0 L465.2 588.8 L465.7 589.5 L466.0 589.8 L466.2 590.2 L466.7 590.8 L467.2 591.4 L467.5 591.7 L467.7 592.0 L468.2 592.4 L468.7 592.7 L469.0 592.9 L469.2 593.1 L469.7 593.5 L470.2 593.9 L470.5 594.1 L470.7 594.2 L471.2 594.6 L471.7 594.9 L472.0 595.0 L472.2 595.2 L472.7 595.4 L473.2 595.7 L473.5 595.8 L473.7 595.8 L474.2 596.0 L474.7 596.1 L475.0 596.2 L476.5 596.3 L478.0 596.4 L479.5 596.4 L481.0 596.5 L482.5 596.5 L484.0 596.6 L485.5 596.6 L487.0 596.7 L488.5 596.7 L490.0 596.7 L491.5 596.7 L493.0 596.8 L494.5 596.8 L496.0 596.9 L497.5 597.0 L499.0 597.0 L500.5 597.1 L502.0 597.1 L503.5 597.2 L505.0 597.3 L506.5 597.3 L508.0 597.4 L509.5 597.5 L511.0 597.6 L512.5 597.7 L514.0 597.8 L515.5 597.9 L517.0 598.0 L518.5 598.2 L520.0 598.4 L521.5 598.6 L523.0 598.8 L524.5 599.0 L526.0 599.3 L527.5 599.5 L529.0 599.7 L530.5 600.0 L532.0 600.2 L533.5 600.5 L535.0 600.7 L536.5 601.0 L538.0 601.3 L539.5 601.6 L541.0 601.9 L542.5 602.1 L544.0 602.4 L545.5 602.6 L547.0 602.7 L548.5 602.8 L550.0 602.9 L551.5 603.0 L553.0 603.1 L554.5 603.2 L556.0 603.2 L557.5 603.3 L559.0 603.3 L560.5 603.4 L562.0 603.5 L563.5 603.5 L565.0 603.6 L566.5 603.6 L568.0 603.7 L569.5 603.7 L571.0 603.7 L572.5 603.8 L574.0 603.8 L575.5 603.8 L577.0 603.8 L578.5 603.8 L580.0 603.8 L581.5 603.8 L583.0 603.8 L584.5 603.8 L586.0 603.8 L587.5 603.8 L589.0 603.8 L590.5 603.8 L592.0 603.8 L593.5 603.8 L595.0 603.8 L596.5 603.8 L598.0 603.8 L599.5 603.8 L601.0 603.8 L602.5 603.8 L604.0 603.8 L605.5 603.8 L607.0 603.8 L608.5 603.8 L610.0 603.8 L611.5 603.8 L613.0 603.8 L614.5 603.8 L616.0 603.8 L617.5 603.8 L619.0 603.8 L620.5 603.8 L622.0 603.8 L623.5 603.8 L625.0 603.8 L626.5 603.8 L628.0 603.8 L629.5 603.8 L631.0 603.8 L632.5 603.8 L634.0 603.8 L635.5 603.8 L637.0 603.8 L638.5 603.8 L640.0 603.8 L641.5 603.8 L643.0 603.8 L644.5 603.8 L646.0 603.8 L647.5 603.8 L649.0 603.8 L650.5 603.8 L652.0 603.8 L653.5 603.8 L655.0 603.8 L656.5 603.8 L658.0 603.8 L659.5 603.8 L661.0 603.8 L662.5 603.8 L664.0 603.8 L665.5 603.8 L667.0 603.8 L668.5 603.8 L670.0 603.8 L671.5 603.7 L673.0 603.7 L674.5 603.7 L676.0 603.7 L677.5 603.7 L679.0 603.7 L680.5 603.7 L682.0 603.6 L683.5 603.6 L685.0 603.6 L686.5 603.6 L688.0 603.6 L689.5 603.5 L691.0 603.5 L692.5 603.5 L694.0 603.5 L695.5 603.4 L697.0 603.4 L698.5 603.4 L700.0 603.4 L701.5 603.3 L703.0 603.3 L704.5 603.3 L706.0 603.3 L707.5 603.2 L709.0 603.2 L710.5 603.2 L712.0 603.1 L713.5 603.1 L715.0 603.1 L716.5 603.1 L718.0 603.0 L719.5 603.0 L721.0 603.0 L722.5 602.9 L724.0 602.9 L725.5 602.9 L727.0 602.8 L728.5 602.8 L730.0 602.8 L731.5 602.7 L733.0 602.7 L734.5 602.7 L736.0 602.6 L737.5 602.6 L739.0 602.6 L740.5 602.5 L742.0 602.5 L743.5 602.4 L745.0 602.4 L746.5 602.4 L748.0 602.3 L749.5 602.3 L751.0 602.3 L752.5 602.2 L754.0 602.2 L755.5 602.1 L757.0 602.1 L758.5 602.1 L760.0 602.0 L761.5 602.0 L763.0 602.0 L764.5 601.9 L766.0 601.9 L767.5 601.8 L769.0 601.8 L770.5 601.8 L772.0 601.7 L773.5 601.7 L775.0 601.7 L776.5 601.6 L778.0 601.6 L779.5 601.5 L781.0 601.5 L782.5 601.5 L784.0 601.4 L785.5 601.4 L787.0 601.4 L788.5 601.3 L790.0 601.3 L791.5 601.3 L793.0 601.2 L794.5 601.2 L796.0 601.1 L797.5 601.1 L799.0 601.1 L800.5 601.0 L802.0 601.0 L803.5 601.0 L805.0 600.9 L806.5 600.9 L808.0 600.9 L809.5 600.8 L811.0 600.8 L812.5 600.8 L814.0 600.7 L815.5 600.7 L817.0 600.7 L818.5 600.7 L820.0 600.6 L821.5 600.6 L823.0 600.6 L824.5 600.5 L826.0 600.5 L827.5 600.5 L829.0 600.5 L830.5 600.5 L832.0 600.4 L833.5 600.4 L835.0 600.4 L836.5 600.4 L838.0 600.4 L839.5 600.3 L841.0 600.3 L842.5 600.3 L844.0 600.2 L845.5 600.2 L847.0 600.2 L848.5 600.1 L850.0 600.1 L851.5 600.0 L853.0 600.0 L854.5 599.9 L856.0 599.8 L857.5 599.6 L859.0 599.4 L860.5 599.2 L862.0 599.0 L863.5 598.7 L865.0 598.4 L866.5 598.1 L868.0 597.7 L869.5 597.4 L871.0 597.0 L872.5 596.6 L874.0 596.1 L875.5 595.6 L877.0 594.9 L878.5 594.2 L880.0 593.3 L880.2 593.1 L880.7 592.8 L881.2 592.5 L881.5 592.3 L881.7 592.1 L882.2 591.6 L882.7 591.1 L883.0 590.9 L883.2 590.6 L883.7 589.9 L884.2 589.2 L884.5 588.8 L884.7 588.4 L885.2 587.6 L885.7 586.6 L886.0 586.1 L886.2 585.6 L886.7 584.4 L887.2 583.2 L887.5 582.6 L887.7 582.0 L888.2 580.7 L888.7 579.0 L889.0 578.0 L889.2 576.9 L889.7 574.4 L890.2 571.7 L890.5 570.3 L890.7 568.8 L891.2 565.8 L891.7 562.9 L892.0 561.4 L892.2 559.9 L892.7 556.9 L893.2 554.0 L893.5 552.5 L893.7 550.9 L894.2 547.7 L894.7 544.1 L895.0 541.9 L895.2 539.4 L895.7 533.2 L896.2 525.1 L896.5 520.2 L896.7 514.8 L897.2 502.4 L897.7 488.0 L898.0 479.6 L898.2 469.9 L898.7 448.6 L899.2 429.4 L899.5 420.6 L899.7 412.2 L900.2 400.5 L900.7 395.9 L901.0 397.7 L901.2 401.3 L901.7 416.1 L902.2 441.5 L902.5 453.2 L902.7 465.2 L903.2 489.0 L903.7 508.0 L904.0 514.8 L904.2 520.8 L904.7 531.0 L905.2 538.9 L905.5 542.1 L905.7 544.9 L906.2 549.2 L906.7 552.2 L907.0 553.3 L907.2 554.4 L907.7 556.4 L908.2 558.2 L908.5 559.1 L908.7 559.9 L909.2 561.5 L909.7 563.0 L910.0 563.7 L910.2 564.3 L910.7 565.3 L911.2 565.9 L911.5 566.1 L911.7 566.3 L912.2 566.7 L912.7 567.1 L913.0 567.2 L913.2 567.3 L913.7 567.4 L914.2 567.3 L914.5 567.2 L914.7 567.0 L915.2 566.3 L915.7 565.5 L916.0 565.1 L916.2 564.6 L916.7 563.5 L917.2 562.3 L917.5 561.6 L917.7 560.7 L918.2 558.7 L918.7 556.3 L919.0 555.0 L919.2 553.6 L919.7 550.6 L920.2 547.5 L920.5 545.9 L920.7 544.3 L921.2 540.9 L921.7 537.1 L922.0 535.0 L922.2 532.8 L922.7 528.3 L923.2 523.7 L923.5 521.3 L923.7 519.0 L924.2 514.4 L924.7 509.9 L925.0 507.8 L925.2 505.7 L925.7 501.7 L926.2 498.0 L926.5 496.1 L926.7 494.3 L927.2 490.5 L927.7 486.6 L928.0 484.6 L928.2 482.5 L928.7 477.9 L929.2 472.7 L929.5 469.8 L929.7 466.6 L930.2 459.7 L930.7 451.7 L931.0 447.3 L931.2 442.7 L931.7 432.1 L932.2 420.2 L932.5 414.0 L932.7 407.8 L933.2 395.9 L933.7 384.3 L934.0 380.1 L934.2 377.3 L934.7 376.1 L935.2 380.6 L935.5 387.4 L935.7 398.4 L936.2 423.1 L936.7 446.6 L937.0 458.5 L937.2 469.4 L937.7 485.5 L938.2 495.9 L938.5 500.3 L938.7 504.1 L939.2 510.3 L939.7 514.7 L940.0 516.3 L940.2 517.6 L940.7 519.5 L941.2 520.7 L941.5 521.3 L941.7 521.9 L942.2 522.9 L942.7 523.8 L943.0 524.2 L943.2 524.7 L943.7 525.5 L944.2 526.3 L944.5 526.7 L944.7 527.0 L945.2 527.8 L945.7 528.5 L946.0 528.8 L946.2 529.1 L946.7 529.7 L947.2 530.2 L947.5 530.4 L947.7 530.7 L948.2 531.1 L948.7 531.6 L949.0 531.8 L949.2 532.1 L949.7 532.7 L950.2 533.4 L950.5 533.9 L950.7 534.4 L951.2 535.5 L951.7 536.8 L952.0 537.4 L952.2 538.1 L952.7 539.6 L953.2 541.0 L953.5 541.8 L953.7 542.5 L954.2 543.8 L954.7 545.0 L955.0 545.6 L955.2 546.1 L955.7 547.0 L956.2 547.9 L956.5 548.3 L956.7 548.7 L957.2 549.4 L957.7 550.1 L958.0 550.4 L958.2 550.7 L958.7 551.1 L959.2 551.5 L959.5 551.7 L959.7 551.9 L960.2 552.2 L960.7 552.4 L961.0 552.5 L961.2 552.5 L961.7 552.4 L962.2 552.1 L962.5 552.0 L962.7 551.8 L963.2 551.5 L963.7 551.1 L964.0 550.8 L964.2 550.6 L964.7 550.2 L965.5 549.4 L967.0 547.5 L968.5 545.1 L970.0 542.6 L971.5 540.2 L973.0 537.7 L974.5 535.1 L976.0 532.4 L977.5 529.7 L979.0 526.8 L980.5 523.8 L982.0 520.7 L983.5 517.5 L985.0 514.1 L986.5 510.6 L988.0 506.9 L989.5 503.1 L991.0 499.2 L992.5 495.2 L994.0 491.3 L995.5 487.3 L997.0 483.3 L998.5 479.0 L1000.0 474.5 L1001.5 470.0 L1003.0 465.5 L1004.5 461.1 L1006.0 457.0 L1007.5 453.3 L1009.0 450.0 L1010.5 447.2 L1012.0 444.5 L1013.5 442.0 L1015.0 439.6 L1016.5 437.6 L1018.0 435.8 L1019.5 434.4 L1021.0 433.1 L1022.5 432.0 L1024.0 431.1 L1025.5 430.4 L1027.0 429.9 L1028.5 429.5 L1030.0 429.2 L1031.5 428.9 L1033.0 428.6 L1034.5 428.2 L1036.0 427.9 L1037.5 427.5 L1039.0 427.2 L1040.5 426.8 L1042.0 426.5 L1043.5 426.1 L1045.0 425.7 L1046.5 425.2 L1048.0 424.7 L1049.5 424.2 L1051.0 423.4 L1052.5 422.6 L1054.0 421.6 L1055.5 420.5 L1057.0 419.3 L1058.5 418.0 L1060.0 416.8 L1061.5 415.5 L1063.0 414.1 L1064.5 412.6 L1066.0 411.0 L1067.5 409.2 L1069.0 407.5 L1070.5 405.8 L1072.0 404.2 L1073.5 402.8 L1075.0 401.6 L1076.5 400.5 L1078.0 399.5 L1079.5 398.8 L1081.0 398.3 L1082.5 397.9 L1084.0 397.8 L1085.5 398.0 L1087.0 398.5 L1088.5 399.2 L1090.0 400.3 L1091.5 401.8 L1093.0 403.6 L1094.5 405.6 L1096.0 408.0 L1097.5 410.9 L1099.0 414.2 L1100.5 417.7 L1102.0 421.5 L1103.5 425.4 L1105.0 429.5 L1106.5 434.1 L1108.0 439.2 L1109.5 444.5 L1111.0 449.8 L1112.5 455.1 L1114.0 460.1 L1115.5 465.0 L1117.0 470.1 L1118.5 475.1 L1120.0 480.1 L1121.5 484.9 L1123.0 489.4 L1124.5 493.6 L1126.0 497.4 L1127.5 500.9 L1129.0 504.1 L1130.5 507.2 L1132.0 510.1 L1133.5 513.0 L1135.0 515.7 L1136.5 518.5 L1138.0 521.2 L1139.5 524.0 L1141.0 526.7 L1142.5 529.2 L1144.0 531.7 L1145.5 534.2 L1147.0 536.7 L1148.5 539.3 L1150.0 542.0 L1151.5 544.8 L1153.0 547.9 L1154.5 551.3 L1156.0 555.0 L1157.5 558.7 L1159.0 562.4 L1160.5 565.9 L1162.0 569.1 L1163.5 572.3 L1165.0 575.5 L1166.5 578.6 L1168.0 581.6 L1169.5 584.2 L1171.0 586.3 L1172.5 587.9 L1174.0 589.2 L1175.5 590.4 L1177.0 591.4 L1178.5 592.3 L1180.0 593.1 L1181.5 593.8 L1183.0 594.4 L1184.5 595.1 L1186.0 595.6 L1187.5 596.2 L1189.0 596.7 L1190.5 597.1 L1192.0 597.5 L1193.5 597.8 L1195.0 598.0 L1196.5 598.1 L1198.0 598.2 L1199.5 598.3 L1201.0 598.4 L1202.5 598.5 L1204.0 598.6 L1205.5 598.6 L1207.0 598.7 L1208.5 598.8 L1210.0 598.8 L1211.5 598.9 L1213.0 598.9 L1214.5 598.9 L1216.0 599.0 L1217.5 599.0 L1219.0 599.0 L1220.5 599.0 L1222.0 599.0 L1223.5 599.0 L1225.0 599.0 L1226.5 599.0 L1228.0 599.0 L1229.5 599.0 L1231.0 599.0 L1232.5 599.0 L1234.0 599.0 L1235.5 599.0 L1237.0 599.0 L1238.5 599.0 L1240.0 599.0 L1241.5 599.0 L1243.0 599.0 L1244.5 599.0 L1246.0 599.0 L1247.5 599.0 L1249.0 599.0 L1250.5 599.0 L1252.0 599.0 L1253.5 599.0 L1255.0 599.0 L1256.5 599.0 L1258.0 599.0 L1259.5 599.0 L1261.0 599.0 L1262.5 599.0 L1264.0 599.0 L1265.5 599.0 L1267.0 599.0 L1268.0 599.0"/>
<path stroke="#5E9ACF" d="M151.0 417.5 L152.5 417.5 L154.0 417.5 L155.5 417.5 L157.0 417.5 L158.5 417.5 L160.0 417.5 L161.5 417.5 L163.0 417.5 L164.5 417.5 L166.0 417.5 L167.5 417.5 L169.0 417.5 L170.5 417.5 L172.0 417.5 L173.5 417.5 L175.0 417.5 L176.5 417.5 L178.0 417.5 L179.5 417.5 L181.0 417.5 L182.5 417.5 L184.0 417.5 L185.5 417.5 L187.0 417.5 L188.5 417.5 L190.0 417.5 L191.5 417.5 L193.0 417.5 L194.5 417.5 L196.0 417.5 L197.5 417.5 L199.0 417.5 L200.5 417.5 L202.0 417.5 L203.5 417.5 L205.0 417.5 L206.5 417.5 L208.0 417.5 L209.5 417.5 L211.0 417.5 L212.5 417.5 L214.0 417.5 L215.5 417.5 L217.0 417.5 L218.5 417.5 L220.0 417.5 L221.5 417.5 L223.0 417.5 L224.5 417.5 L226.0 417.5 L227.5 417.5 L229.0 417.5 L230.5 417.5 L232.0 417.5 L233.5 417.5 L235.0 417.5 L236.5 417.5 L238.0 417.5 L239.5 417.5 L241.0 417.5 L242.5 417.5 L244.0 417.5 L245.5 417.5 L247.0 417.5 L248.5 417.5 L250.0 417.5 L251.5 417.5 L253.0 417.5 L254.5 417.5 L256.0 417.5 L257.5 417.5 L259.0 417.5 L260.5 417.5 L262.0 417.5 L263.5 417.5 L265.0 417.5 L266.5 417.6 L268.0 417.6 L269.5 417.6 L271.0 417.6 L272.5 417.6 L274.0 417.6 L275.5 417.7 L277.0 417.7 L278.5 417.7 L280.0 417.7 L281.5 417.7 L283.0 417.7 L284.5 417.7 L286.0 417.8 L287.5 417.8 L289.0 417.8 L290.5 417.8 L292.0 417.8 L293.5 417.8 L295.0 417.8 L296.5 417.8 L298.0 417.7 L299.5 417.5 L300.2 417.3 L300.7 417.2 L301.0 417.2 L301.2 417.1 L301.7 417.0 L302.2 416.8 L302.5 416.8 L302.7 416.7 L303.2 416.5 L303.7 416.3 L304.0 416.2 L304.2 416.1 L304.7 415.7 L305.2 415.2 L305.5 415.0 L305.7 414.7 L306.2 414.1 L306.7 413.4 L307.0 413.1 L307.2 412.7 L307.7 411.9 L308.2 411.1 L308.5 410.6 L308.7 410.1 L309.2 408.6 L309.7 406.8 L310.0 405.8 L310.2 404.6 L310.7 402.1 L311.2 399.3 L311.5 397.7 L311.7 396.1 L312.2 391.8 L312.7 385.8 L313.0 382.6 L313.2 379.3 L313.7 373.4 L314.2 368.8 L314.5 366.5 L314.7 364.5 L315.2 362.1 L315.7 363.2 L316.0 364.8 L316.2 366.9 L316.7 371.7 L317.2 377.5 L317.5 381.2 L317.7 385.2 L318.2 392.3 L318.7 397.3 L319.0 399.4 L319.2 401.4 L319.7 405.0 L320.2 407.8 L320.5 409.0 L320.7 409.9 L321.2 411.1 L321.7 411.9 L322.0 412.3 L322.2 412.7 L322.7 413.4 L323.2 414.0 L323.5 414.3 L323.7 414.6 L324.2 415.1 L324.7 415.4 L325.0 415.6 L325.2 415.7 L325.7 415.8 L326.2 415.8 L326.5 415.8 L326.7 415.8 L327.2 415.8 L327.7 415.8 L328.0 415.8 L328.2 415.8 L328.7 415.8 L329.2 415.8 L329.5 415.7 L329.7 415.7 L330.2 415.7 L330.7 415.7 L331.0 415.7 L331.2 415.7 L331.7 415.7 L332.2 415.6 L332.5 415.6 L332.7 415.6 L333.2 415.6 L333.7 415.6 L334.0 415.5 L334.2 415.5 L334.7 415.5 L335.5 415.4 L337.0 415.3 L338.5 415.2 L340.0 415.0 L341.5 414.6 L343.0 414.0 L344.5 413.5 L346.0 413.0 L347.5 412.8 L349.0 413.1 L350.5 413.8 L352.0 414.5 L353.5 415.1 L355.0 415.1 L356.5 414.9 L358.0 414.5 L359.5 414.2 L361.0 414.1 L362.5 414.4 L364.0 415.0 L365.5 415.7 L367.0 416.5 L368.5 417.0 L370.0 417.3 L371.5 417.5 L373.0 417.7 L374.5 417.9 L376.0 418.1 L377.5 418.2 L379.0 418.3 L380.5 418.4 L382.0 418.5 L383.5 418.5 L385.0 418.4 L386.5 418.4 L388.0 418.4 L389.5 418.4 L391.0 418.3 L392.5 418.3 L394.0 418.3 L395.5 418.2 L397.0 418.1 L398.5 418.1 L400.0 418.0 L401.5 417.9 L403.0 417.9 L404.5 417.8 L406.0 417.7 L407.5 417.6 L409.0 417.5 L410.5 417.5 L412.0 417.4 L413.5 417.3 L415.0 417.2 L416.5 417.1 L418.0 417.0 L419.5 416.9 L421.0 416.8 L422.5 416.7 L424.0 416.6 L425.5 416.5 L427.0 416.4 L428.5 416.3 L430.0 416.2 L431.5 416.1 L433.0 415.9 L434.5 415.8 L436.0 415.7 L437.5 415.5 L439.0 415.3 L440.2 415.1 L440.5 415.1 L440.7 415.0 L441.2 415.0 L441.7 414.9 L442.0 414.8 L442.2 414.8 L442.7 414.7 L443.2 414.6 L443.5 414.5 L443.7 414.4 L444.2 414.3 L444.7 414.1 L445.0 414.0 L445.2 413.9 L445.7 413.6 L446.2 413.4 L446.5 413.3 L446.7 413.1 L447.2 412.8 L447.7 412.5 L448.0 412.4 L448.2 412.2 L448.7 411.9 L449.2 411.4 L449.5 411.2 L449.7 410.8 L450.2 410.1 L450.7 409.3 L451.0 408.8 L451.2 408.4 L451.7 407.5 L452.2 406.6 L452.5 406.1 L452.7 405.7 L453.2 404.9 L453.7 404.2 L454.0 403.9 L454.2 403.6 L454.7 402.9 L455.2 402.3 L455.5 401.9 L455.7 401.6 L456.2 401.0 L456.7 400.5 L457.0 400.3 L457.2 400.1 L457.7 399.9 L458.2 399.9 L458.5 399.9 L458.7 400.0 L459.2 400.2 L459.7 400.5 L460.0 400.7 L460.2 400.9 L460.7 401.3 L461.2 401.8 L461.5 402.0 L461.7 402.2 L462.2 402.7 L462.7 403.2 L463.0 403.5 L463.2 403.9 L463.7 404.6 L464.2 405.3 L464.5 405.7 L464.7 406.1 L465.2 406.9 L465.7 407.6 L466.0 407.9 L466.2 408.3 L466.7 408.9 L467.2 409.3 L467.5 409.6 L467.7 409.8 L468.2 410.2 L468.7 410.7 L469.0 410.9 L469.2 411.1 L469.7 411.6 L470.2 412.0 L470.5 412.1 L470.7 412.3 L471.2 412.7 L471.7 412.9 L472.0 413.1 L472.2 413.2 L472.7 413.3 L473.2 413.4 L473.5 413.5 L473.7 413.5 L474.2 413.5 L474.7 413.5 L475.0 413.5 L476.5 413.5 L478.0 413.4 L479.5 413.4 L481.0 413.3 L482.5 413.3 L484.0 413.2 L485.5 413.2 L487.0 413.1 L488.5 413.0 L490.0 413.0 L491.5 412.9 L493.0 412.9 L494.5 412.8 L496.0 412.8 L497.5 412.8 L499.0 412.7 L500.5 412.7 L502.0 412.7 L503.5 412.6 L505.0 412.6 L506.5 412.6 L508.0 412.5 L509.5 412.5 L511.0 412.5 L512.5 412.5 L514.0 412.5 L515.5 412.5 L517.0 412.5 L518.5 412.7 L520.0 412.9 L521.5 413.1 L523.0 413.4 L524.5 413.7 L526.0 414.0 L527.5 414.3 L529.0 414.6 L530.5 414.9 L532.0 415.2 L533.5 415.6 L535.0 416.0 L536.5 416.4 L538.0 416.7 L539.5 417.1 L541.0 417.3 L542.5 417.6 L544.0 417.8 L545.5 418.0 L547.0 418.2 L548.5 418.4 L550.0 418.6 L551.5 418.8 L553.0 419.0 L554.5 419.2 L556.0 419.3 L557.5 419.5 L559.0 419.6 L560.5 419.7 L562.0 419.7 L563.5 419.8 L565.0 419.8 L566.5 419.8 L568.0 419.8 L569.5 419.8 L571.0 419.8 L572.5 419.8 L574.0 419.8 L575.5 419.8 L577.0 419.8 L578.5 419.7 L580.0 419.7 L581.5 419.7 L583.0 419.7 L584.5 419.7 L586.0 419.7 L587.5 419.7 L589.0 419.7 L590.5 419.6 L592.0 419.6 L593.5 419.6 L595.0 419.6 L596.5 419.6 L598.0 419.6 L599.5 419.5 L601.0 419.5 L602.5 419.5 L604.0 419.5 L605.5 419.5 L607.0 419.5 L608.5 419.4 L610.0 419.4 L611.5 419.4 L613.0 419.4 L614.5 419.4 L616.0 419.4 L617.5 419.3 L619.0 419.3 L620.5 419.3 L622.0 419.3 L623.5 419.3 L625.0 419.3 L626.5 419.2 L628.0 419.2 L629.5 419.2 L631.0 419.2 L632.5 419.2 L634.0 419.2 L635.5 419.2 L637.0 419.2 L638.5 419.2 L640.0 419.1 L641.5 419.1 L643.0 419.1 L644.5 419.1 L646.0 419.1 L647.5 419.1 L649.0 419.1 L650.5 419.1 L652.0 419.1 L653.5 419.1 L655.0 419.1 L656.5 419.1 L658.0 419.1 L659.5 419.1 L661.0 419.1 L662.5 419.1 L664.0 419.2 L665.5 419.2 L667.0 419.2 L668.5 419.2 L670.0 419.2 L671.5 419.2 L673.0 419.2 L674.5 419.2 L676.0 419.2 L677.5 419.2 L679.0 419.2 L680.5 419.3 L682.0 419.3 L683.5 419.3 L685.0 419.3 L686.5 419.3 L688.0 419.3 L689.5 419.3 L691.0 419.3 L692.5 419.4 L694.0 419.4 L695.5 419.4 L697.0 419.4 L698.5 419.4 L700.0 419.4 L701.5 419.5 L703.0 419.5 L704.5 419.5 L706.0 419.5 L707.5 419.5 L709.0 419.5 L710.5 419.6 L712.0 419.6 L713.5 419.6 L715.0 419.6 L716.5 419.6 L718.0 419.7 L719.5 419.7 L721.0 419.7 L722.5 419.7 L724.0 419.7 L725.5 419.7 L727.0 419.8 L728.5 419.8 L730.0 419.8 L731.5 419.8 L733.0 419.8 L734.5 419.9 L736.0 419.9 L737.5 419.9 L739.0 419.9 L740.5 419.9 L742.0 420.0 L743.5 420.0 L745.0 420.0 L746.5 420.0 L748.0 420.0 L749.5 420.1 L751.0 420.1 L752.5 420.1 L754.0 420.1 L755.5 420.1 L757.0 420.2 L758.5 420.2 L760.0 420.2 L761.5 420.2 L763.0 420.2 L764.5 420.2 L766.0 420.3 L767.5 420.3 L769.0 420.3 L770.5 420.3 L772.0 420.3 L773.5 420.3 L775.0 420.4 L776.5 420.4 L778.0 420.4 L779.5 420.4 L781.0 420.4 L782.5 420.4 L784.0 420.5 L785.5 420.5 L787.0 420.5 L788.5 420.5 L790.0 420.5 L791.5 420.5 L793.0 420.5 L794.5 420.5 L796.0 420.5 L797.5 420.6 L799.0 420.6 L800.5 420.6 L802.0 420.6 L803.5 420.6 L805.0 420.6 L806.5 420.6 L808.0 420.6 L809.5 420.6 L811.0 420.6 L812.5 420.6 L814.0 420.6 L815.5 420.6 L817.0 420.6 L818.5 420.6 L820.0 420.6 L821.5 420.6 L823.0 420.6 L824.5 420.6 L826.0 420.6 L827.5 420.6 L829.0 420.6 L830.5 420.6 L832.0 420.6 L833.5 420.6 L835.0 420.6 L836.5 420.5 L838.0 420.5 L839.5 420.5 L841.0 420.5 L842.5 420.5 L844.0 420.5 L845.5 420.4 L847.0 420.4 L848.5 420.4 L850.0 420.4 L851.5 420.3 L853.0 420.3 L854.5 420.3 L856.0 420.2 L857.5 420.1 L859.0 419.9 L860.5 419.8 L862.0 419.6 L863.5 419.4 L865.0 419.1 L866.5 418.9 L868.0 418.6 L869.5 418.4 L871.0 418.1 L872.5 417.7 L874.0 417.3 L875.5 416.8 L877.0 416.3 L878.5 415.6 L880.0 414.8 L880.2 414.7 L880.7 414.4 L881.2 414.1 L881.5 413.9 L881.7 413.8 L882.2 413.4 L882.7 412.9 L883.0 412.7 L883.2 412.4 L883.7 411.9 L884.2 411.2 L884.5 410.9 L884.7 410.6 L885.2 409.8 L885.7 409.0 L886.0 408.5 L886.2 408.1 L886.7 407.1 L887.2 406.1 L887.5 405.6 L887.7 405.1 L888.2 404.0 L888.7 402.7 L889.0 401.9 L889.2 401.1 L889.7 399.3 L890.2 397.4 L890.5 396.4 L890.7 395.3 L891.2 393.2 L891.7 391.1 L892.0 390.1 L892.2 389.0 L892.7 387.0 L893.2 384.9 L893.5 383.8 L893.7 382.7 L894.2 380.4 L894.7 377.9 L895.0 376.4 L895.2 374.6 L895.7 370.3 L896.2 364.8 L896.5 361.4 L896.7 357.7 L897.2 348.8 L897.7 338.3 L898.0 331.7 L898.2 323.8 L898.7 306.1 L899.2 289.8 L899.5 282.1 L899.7 274.8 L900.2 264.9 L900.7 261.3 L901.0 263.0 L901.2 266.2 L901.7 279.9 L902.2 302.6 L902.5 312.3 L902.7 321.5 L903.2 338.8 L903.7 352.5 L904.0 357.5 L904.2 362.0 L904.7 369.9 L905.2 376.0 L905.5 378.5 L905.7 380.5 L906.2 383.6 L906.7 385.6 L907.0 386.3 L907.2 386.9 L907.7 388.0 L908.2 389.0 L908.5 389.5 L908.7 390.0 L909.2 390.8 L909.7 391.6 L910.0 391.9 L910.2 392.3 L910.7 392.8 L911.2 393.1 L911.5 393.3 L911.7 393.4 L912.2 393.6 L912.7 393.8 L913.0 393.9 L913.2 394.0 L913.7 394.1 L914.2 394.0 L914.5 393.9 L914.7 393.7 L915.2 393.2 L915.7 392.6 L916.0 392.3 L916.2 391.9 L916.7 391.1 L917.2 390.1 L917.5 389.5 L917.7 388.7 L918.2 386.9 L918.7 384.7 L919.0 383.5 L919.2 382.2 L919.7 379.6 L920.2 376.8 L920.5 375.4 L920.7 374.0 L921.2 371.1 L921.7 368.0 L922.0 366.4 L922.2 364.7 L922.7 361.2 L923.2 357.7 L923.5 355.9 L923.7 354.1 L924.2 350.6 L924.7 347.3 L925.0 345.7 L925.2 344.1 L925.7 341.1 L926.2 338.2 L926.5 336.8 L926.7 335.5 L927.2 332.7 L927.7 329.8 L928.0 328.3 L928.2 326.7 L928.7 323.3 L929.2 319.4 L929.5 317.3 L929.7 315.0 L930.2 309.7 L930.7 303.7 L931.0 300.3 L931.2 296.6 L931.7 288.0 L932.2 278.1 L932.5 272.9 L932.7 267.8 L933.2 258.3 L933.7 249.2 L934.0 246.1 L934.2 244.2 L934.7 243.5 L935.2 247.4 L935.5 253.5 L935.7 263.6 L936.2 285.2 L936.7 303.8 L937.0 312.9 L937.2 321.0 L937.7 332.3 L938.2 338.8 L938.5 341.5 L938.7 343.8 L939.2 347.4 L939.7 349.9 L940.0 350.9 L940.2 351.6 L940.7 352.7 L941.2 353.4 L941.5 353.7 L941.7 354.0 L942.2 354.6 L942.7 355.1 L943.0 355.4 L943.2 355.6 L943.7 356.1 L944.2 356.5 L944.5 356.7 L944.7 356.9 L945.2 357.4 L945.7 357.8 L946.0 358.0 L946.2 358.2 L946.7 358.6 L947.2 359.0 L947.5 359.1 L947.7 359.3 L948.2 359.6 L948.7 360.0 L949.0 360.2 L949.2 360.4 L949.7 360.8 L950.2 361.3 L950.5 361.7 L950.7 362.1 L951.2 362.9 L951.7 363.9 L952.0 364.5 L952.2 365.0 L952.7 366.1 L953.2 367.1 L953.5 367.6 L953.7 368.1 L954.2 368.9 L954.7 369.5 L955.0 369.8 L955.2 370.2 L955.7 370.8 L956.2 371.4 L956.5 371.7 L956.7 372.0 L957.2 372.4 L957.7 372.8 L958.0 372.9 L958.2 373.1 L958.7 373.1 L959.2 373.1 L959.5 373.0 L959.7 372.9 L960.2 372.7 L960.7 372.4 L961.0 372.2 L961.2 372.0 L961.7 371.6 L962.2 371.2 L962.5 371.0 L962.7 370.8 L963.2 370.4 L963.7 370.0 L964.0 369.7 L964.2 369.5 L964.7 368.9 L965.5 368.0 L967.0 366.1 L968.5 363.9 L970.0 361.6 L971.5 359.1 L973.0 356.4 L974.5 353.4 L976.0 350.3 L977.5 346.9 L979.0 343.5 L980.5 339.8 L982.0 335.9 L983.5 331.6 L985.0 327.2 L986.5 322.6 L988.0 317.8 L989.5 313.0 L991.0 308.1 L992.5 303.2 L994.0 298.2 L995.5 293.0 L997.0 287.5 L998.5 281.9 L1000.0 276.3 L1001.5 270.8 L1003.0 265.6 L1004.5 260.6 L1006.0 256.1 L1007.5 251.7 L1009.0 247.3 L1010.5 243.0 L1012.0 239.1 L1013.5 235.6 L1015.0 232.7 L1016.5 230.6 L1018.0 228.7 L1019.5 227.2 L1021.0 226.0 L1022.5 225.0 L1024.0 224.3 L1025.5 223.7 L1027.0 223.1 L1028.5 222.6 L1030.0 222.2 L1031.5 221.7 L1033.0 221.4 L1034.5 221.0 L1036.0 220.6 L1037.5 220.2 L1039.0 219.8 L1040.5 219.3 L1042.0 218.8 L1043.5 218.3 L1045.0 217.7 L1046.5 217.0 L1048.0 216.3 L1049.5 215.6 L1051.0 214.6 L1052.5 213.6 L1054.0 212.5 L1055.5 211.2 L1057.0 209.9 L1058.5 208.5 L1060.0 207.1 L1061.5 205.7 L1063.0 204.2 L1064.5 202.6 L1066.0 200.8 L1067.5 198.9 L1069.0 197.0 L1070.5 195.2 L1072.0 193.5 L1073.5 192.0 L1075.0 190.7 L1076.5 189.4 L1078.0 188.4 L1079.5 187.7 L1081.0 187.1 L1082.5 186.9 L1084.0 187.2 L1085.5 187.8 L1087.0 188.7 L1088.5 190.0 L1090.0 191.7 L1091.5 193.8 L1093.0 196.0 L1094.5 198.8 L1096.0 201.9 L1097.5 205.5 L1099.0 209.3 L1100.5 213.4 L1102.0 217.5 L1103.5 222.0 L1105.0 227.0 L1106.5 232.4 L1108.0 238.0 L1109.5 243.6 L1111.0 249.0 L1112.5 254.0 L1114.0 258.8 L1115.5 263.6 L1117.0 268.2 L1118.5 272.8 L1120.0 277.3 L1121.5 281.7 L1123.0 286.0 L1124.5 290.2 L1126.0 294.3 L1127.5 298.3 L1129.0 302.3 L1130.5 306.2 L1132.0 310.0 L1133.5 313.7 L1135.0 317.4 L1136.5 320.9 L1138.0 324.4 L1139.5 327.7 L1141.0 330.8 L1142.5 333.9 L1144.0 336.8 L1145.5 339.6 L1147.0 342.5 L1148.5 345.4 L1150.0 348.4 L1151.5 351.5 L1153.0 354.7 L1154.5 358.1 L1156.0 361.5 L1157.5 365.0 L1159.0 368.5 L1160.5 372.2 L1162.0 375.9 L1163.5 379.9 L1165.0 384.3 L1166.5 388.8 L1168.0 393.2 L1169.5 397.3 L1171.0 400.7 L1172.5 403.3 L1174.0 405.6 L1175.5 407.7 L1177.0 409.6 L1178.5 411.2 L1180.0 412.6 L1181.5 413.7 L1183.0 414.6 L1184.5 415.4 L1186.0 416.1 L1187.5 416.8 L1189.0 417.4 L1190.5 417.9 L1192.0 418.3 L1193.5 418.7 L1195.0 418.9 L1196.5 419.1 L1198.0 419.3 L1199.5 419.5 L1201.0 419.6 L1202.5 419.8 L1204.0 419.9 L1205.5 420.1 L1207.0 420.2 L1208.5 420.3 L1210.0 420.4 L1211.5 420.5 L1213.0 420.5 L1214.5 420.6 L1216.0 420.6 L1217.5 420.6 L1219.0 420.6 L1220.5 420.6 L1222.0 420.6 L1223.5 420.6 L1225.0 420.6 L1226.5 420.6 L1228.0 420.6 L1229.5 420.6 L1231.0 420.6 L1232.5 420.6 L1234.0 420.6 L1235.5 420.6 L1237.0 420.6 L1238.5 420.6 L1240.0 420.6 L1241.5 420.6 L1243.0 420.5 L1244.5 420.5 L1246.0 420.5 L1247.5 420.5 L1249.0 420.5 L1250.5 420.4 L1252.0 420.4 L1253.5 420.4 L1255.0 420.4 L1256.5 420.3 L1258.0 420.3 L1259.5 420.3 L1261.0 420.2 L1262.5 420.2 L1264.0 420.1 L1265.5 420.1 L1267.0 420.0 L1268.0 420.0"/>
<path stroke="#66B800" d="M151.0 284.7 L152.5 284.7 L154.0 284.7 L155.5 284.7 L157.0 284.7 L158.5 284.7 L160.0 284.7 L161.5 284.7 L163.0 284.7 L164.5 284.7 L166.0 284.7 L167.5 284.7 L169.0 284.7 L170.5 284.7 L172.0 284.7 L173.5 284.7 L175.0 284.7 L176.5 284.7 L178.0 284.7 L179.5 284.7 L181.0 284.7 L182.5 284.7 L184.0 284.7 L185.5 284.7 L187.0 284.7 L188.5 284.7 L190.0 284.7 L191.5 284.7 L193.0 284.7 L194.5 284.7 L196.0 284.7 L197.5 284.7 L199.0 284.7 L200.5 284.7 L202.0 284.7 L203.5 284.7 L205.0 284.7 L206.5 284.7 L208.0 284.7 L209.5 284.7 L211.0 284.7 L212.5 284.7 L214.0 284.7 L215.5 284.7 L217.0 284.7 L218.5 284.7 L220.0 284.7 L221.5 284.7 L223.0 284.7 L224.5 284.7 L226.0 284.7 L227.5 284.7 L229.0 284.7 L230.5 284.7 L232.0 284.7 L233.5 284.7 L235.0 284.7 L236.5 284.7 L238.0 284.7 L239.5 284.7 L241.0 284.7 L242.5 284.7 L244.0 284.7 L245.5 284.7 L247.0 284.7 L248.5 284.7 L250.0 284.7 L251.5 284.7 L253.0 284.7 L254.5 284.7 L256.0 284.7 L257.5 284.7 L259.0 284.8 L260.5 284.8 L262.0 284.8 L263.5 284.9 L265.0 284.9 L266.5 285.0 L268.0 285.0 L269.5 285.1 L271.0 285.1 L272.5 285.1 L274.0 285.2 L275.5 285.2 L277.0 285.3 L278.5 285.3 L280.0 285.4 L281.5 285.4 L283.0 285.5 L284.5 285.5 L286.0 285.5 L287.5 285.6 L289.0 285.6 L290.5 285.6 L292.0 285.6 L293.5 285.6 L295.0 285.7 L296.5 285.7 L298.0 285.6 L299.5 285.6 L300.2 285.6 L300.7 285.6 L301.0 285.6 L301.2 285.6 L301.7 285.6 L302.2 285.5 L302.5 285.5 L302.7 285.5 L303.2 285.5 L303.7 285.5 L304.0 285.5 L304.2 285.4 L304.7 285.4 L305.2 285.4 L305.5 285.4 L305.7 285.4 L306.2 285.3 L306.7 285.2 L307.0 285.1 L307.2 285.0 L307.7 284.7 L308.2 284.3 L308.5 284.1 L308.7 283.9 L309.2 283.4 L309.7 282.8 L310.0 282.5 L310.2 282.2 L310.7 281.4 L311.2 280.6 L311.5 280.2 L311.7 279.7 L312.2 278.2 L312.7 275.7 L313.0 274.3 L313.2 272.8 L313.7 270.1 L314.2 268.0 L314.5 266.9 L314.7 265.9 L315.2 264.8 L315.7 265.3 L316.0 266.1 L316.2 267.1 L316.7 269.3 L317.2 271.9 L317.5 273.7 L317.7 275.5 L318.2 278.5 L318.7 280.1 L319.0 280.7 L319.2 281.2 L319.7 282.1 L320.2 283.0 L320.5 283.3 L320.7 283.7 L321.2 284.3 L321.7 284.7 L322.0 284.9 L322.2 285.1 L322.7 285.3 L323.2 285.3 L323.5 285.3 L323.7 285.4 L324.2 285.4 L324.7 285.4 L325.0 285.4 L325.2 285.4 L325.7 285.4 L326.2 285.5 L326.5 285.5 L326.7 285.5 L327.2 285.5 L327.7 285.5 L328.0 285.5 L328.2 285.5 L328.7 285.5 L329.2 285.5 L329.5 285.5 L329.7 285.5 L330.2 285.5 L330.7 285.6 L331.0 285.6 L331.2 285.6 L331.7 285.6 L332.2 285.6 L332.5 285.6 L332.7 285.6 L333.2 285.6 L333.7 285.6 L334.0 285.6 L334.2 285.6 L334.7 285.6 L335.5 285.6 L337.0 285.7 L338.5 285.8 L340.0 285.8 L341.5 285.9 L343.0 286.0 L344.5 286.1 L346.0 286.1 L347.5 286.2 L349.0 286.3 L350.5 286.4 L352.0 286.5 L353.5 286.6 L355.0 286.7 L356.5 286.7 L358.0 286.8 L359.5 286.9 L361.0 286.9 L362.5 287.0 L364.0 287.0 L365.5 287.0 L367.0 287.0 L368.5 287.0 L370.0 287.0 L371.5 287.0 L373.0 287.0 L374.5 287.0 L376.0 287.0 L377.5 287.0 L379.0 287.0 L380.5 287.0 L382.0 287.0 L383.5 287.0 L385.0 287.0 L386.5 287.0 L388.0 287.0 L389.5 287.0 L391.0 287.0 L392.5 287.0 L394.0 287.0 L395.5 287.0 L397.0 287.0 L398.5 287.0 L400.0 287.0 L401.5 287.0 L403.0 287.0 L404.5 287.0 L406.0 287.0 L407.5 287.0 L409.0 287.0 L410.5 287.0 L412.0 287.0 L413.5 287.0 L415.0 287.0 L416.5 287.0 L418.0 287.0 L419.5 287.0 L421.0 287.0 L422.5 287.0 L424.0 287.0 L425.5 286.9 L427.0 286.8 L428.5 286.7 L430.0 286.6 L431.5 286.5 L433.0 286.3 L434.5 286.2 L436.0 286.0 L437.5 285.8 L439.0 285.6 L440.2 285.4 L440.5 285.4 L440.7 285.4 L441.2 285.3 L441.7 285.2 L442.0 285.1 L442.2 285.0 L442.7 284.9 L443.2 284.8 L443.5 284.7 L443.7 284.7 L444.2 284.5 L444.7 284.4 L445.0 284.3 L445.2 284.3 L445.7 284.1 L446.2 284.0 L446.5 283.9 L446.7 283.8 L447.2 283.6 L447.7 283.4 L448.0 283.3 L448.2 283.2 L448.7 283.0 L449.2 282.7 L449.5 282.6 L449.7 282.5 L450.2 282.2 L450.7 282.0 L451.0 281.8 L451.2 281.7 L451.7 281.5 L452.2 281.2 L452.5 281.1 L452.7 281.0 L453.2 280.8 L453.7 280.6 L454.0 280.5 L454.2 280.4 L454.7 280.2 L455.2 280.0 L455.5 280.0 L455.7 279.9 L456.2 279.8 L456.7 279.7 L457.0 279.7 L457.2 279.7 L457.7 279.7 L458.2 279.9 L458.5 279.9 L458.7 280.0 L459.2 280.2 L459.7 280.5 L460.0 280.6 L460.2 280.7 L460.7 281.0 L461.2 281.3 L461.5 281.4 L461.7 281.5 L462.2 281.7 L462.7 282.0 L463.0 282.2 L463.2 282.3 L463.7 282.7 L464.2 283.0 L464.5 283.2 L464.7 283.3 L465.2 283.6 L465.7 283.9 L466.0 284.0 L466.2 284.1 L466.7 284.3 L467.2 284.3 L467.5 284.4 L467.7 284.4 L468.2 284.4 L468.7 284.5 L469.0 284.5 L469.2 284.5 L469.7 284.6 L470.2 284.6 L470.5 284.6 L470.7 284.6 L471.2 284.7 L471.7 284.7 L472.0 284.7 L472.2 284.7 L472.7 284.8 L473.2 284.8 L473.5 284.8 L473.7 284.8 L474.2 284.8 L474.7 284.8 L475.0 284.9 L476.5 284.9 L478.0 285.0 L479.5 285.0 L481.0 285.0 L482.5 285.0 L484.0 285.0 L485.5 284.9 L487.0 284.8 L488.5 284.7 L490.0 284.5 L491.5 284.4 L493.0 284.2 L494.5 284.1 L496.0 283.9 L497.5 283.8 L499.0 283.6 L500.5 283.5 L502.0 283.3 L503.5 283.1 L505.0 282.9 L506.5 282.7 L508.0 282.5 L509.5 282.4 L511.0 282.3 L512.5 282.3 L514.0 282.4 L515.5 282.5 L517.0 282.6 L518.5 282.8 L520.0 283.0 L521.5 283.2 L523.0 283.4 L524.5 283.6 L526.0 283.8 L527.5 284.1 L529.0 284.4 L530.5 284.8 L532.0 285.1 L533.5 285.4 L535.0 285.6 L536.5 285.8 L538.0 286.0 L539.5 286.2 L541.0 286.3 L542.5 286.5 L544.0 286.7 L545.5 286.8 L547.0 287.0 L548.5 287.1 L550.0 287.3 L551.5 287.4 L553.0 287.5 L554.5 287.6 L556.0 287.7 L557.5 287.8 L559.0 287.9 L560.5 287.9 L562.0 287.9 L563.5 288.0 L565.0 288.0 L566.5 288.0 L568.0 288.0 L569.5 288.0 L571.0 288.0 L572.5 288.0 L574.0 288.0 L575.5 288.0 L577.0 288.0 L578.5 288.0 L580.0 288.0 L581.5 288.0 L583.0 288.0 L584.5 288.0 L586.0 288.0 L587.5 288.0 L589.0 288.0 L590.5 288.0 L592.0 288.0 L593.5 288.0 L595.0 288.0 L596.5 288.0 L598.0 288.0 L599.5 288.0 L601.0 288.0 L602.5 288.0 L604.0 288.0 L605.5 288.0 L607.0 288.0 L608.5 288.0 L610.0 288.0 L611.5 288.0 L613.0 288.0 L614.5 288.0 L616.0 288.0 L617.5 288.0 L619.0 288.0 L620.5 288.0 L622.0 288.0 L623.5 288.0 L625.0 288.0 L626.5 288.0 L628.0 288.0 L629.5 288.0 L631.0 288.0 L632.5 288.0 L634.0 288.0 L635.5 288.0 L637.0 288.0 L638.5 288.0 L640.0 288.0 L641.5 288.0 L643.0 288.0 L644.5 288.0 L646.0 288.0 L647.5 288.0 L649.0 288.0 L650.5 288.0 L652.0 288.0 L653.5 288.0 L655.0 288.0 L656.5 288.0 L658.0 288.0 L659.5 288.0 L661.0 288.0 L662.5 288.0 L664.0 288.0 L665.5 288.0 L667.0 288.0 L668.5 288.0 L670.0 288.0 L671.5 288.0 L673.0 288.0 L674.5 288.0 L676.0 288.0 L677.5 288.0 L679.0 288.0 L680.5 288.0 L682.0 288.0 L683.5 288.0 L685.0 288.0 L686.5 288.0 L688.0 288.0 L689.5 287.9 L691.0 287.9 L692.5 287.9 L694.0 287.9 L695.5 287.9 L697.0 287.9 L698.5 287.9 L700.0 287.9 L701.5 287.9 L703.0 287.9 L704.5 287.9 L706.0 287.9 L707.5 287.9 L709.0 287.9 L710.5 287.9 L712.0 287.9 L713.5 287.9 L715.0 287.9 L716.5 287.9 L718.0 287.9 L719.5 287.9 L721.0 287.9 L722.5 287.9 L724.0 287.9 L725.5 287.9 L727.0 287.9 L728.5 287.8 L730.0 287.8 L731.5 287.8 L733.0 287.8 L734.5 287.8 L736.0 287.8 L737.5 287.8 L739.0 287.8 L740.5 287.8 L742.0 287.8 L743.5 287.8 L745.0 287.8 L746.5 287.8 L748.0 287.8 L749.5 287.8 L751.0 287.8 L752.5 287.8 L754.0 287.7 L755.5 287.7 L757.0 287.7 L758.5 287.7 L760.0 287.7 L761.5 287.7 L763.0 287.7 L764.5 287.7 L766.0 287.7 L767.5 287.7 L769.0 287.7 L770.5 287.7 L772.0 287.7 L773.5 287.6 L775.0 287.6 L776.5 287.6 L778.0 287.6 L779.5 287.6 L781.0 287.6 L782.5 287.6 L784.0 287.6 L785.5 287.6 L787.0 287.6 L788.5 287.6 L790.0 287.6 L791.5 287.5 L793.0 287.5 L794.5 287.5 L796.0 287.5 L797.5 287.5 L799.0 287.5 L800.5 287.5 L802.0 287.5 L803.5 287.5 L805.0 287.5 L806.5 287.4 L808.0 287.4 L809.5 287.4 L811.0 287.4 L812.5 287.4 L814.0 287.4 L815.5 287.4 L817.0 287.4 L818.5 287.4 L820.0 287.3 L821.5 287.3 L823.0 287.3 L824.5 287.3 L826.0 287.3 L827.5 287.3 L829.0 287.2 L830.5 287.2 L832.0 287.2 L833.5 287.2 L835.0 287.1 L836.5 287.1 L838.0 287.1 L839.5 287.0 L841.0 287.0 L842.5 286.9 L844.0 286.9 L845.5 286.9 L847.0 286.8 L848.5 286.8 L850.0 286.7 L851.5 286.7 L853.0 286.6 L854.5 286.6 L856.0 286.5 L857.5 286.4 L859.0 286.4 L860.5 286.3 L862.0 286.3 L863.5 286.2 L865.0 286.1 L866.5 286.0 L868.0 285.9 L869.5 285.8 L871.0 285.6 L872.5 285.5 L874.0 285.3 L875.5 285.1 L877.0 284.9 L878.5 284.7 L880.0 284.4 L880.2 284.4 L880.7 284.3 L881.2 284.2 L881.5 284.1 L881.7 284.0 L882.2 283.9 L882.7 283.7 L883.0 283.7 L883.2 283.6 L883.7 283.4 L884.2 283.2 L884.5 283.1 L884.7 283.0 L885.2 282.8 L885.7 282.6 L886.0 282.4 L886.2 282.2 L886.7 281.9 L887.2 281.5 L887.5 281.3 L887.7 281.1 L888.2 280.6 L888.7 280.2 L889.0 279.9 L889.2 279.7 L889.7 279.2 L890.2 278.7 L890.5 278.4 L890.7 278.2 L891.2 277.7 L891.7 277.2 L892.0 276.9 L892.2 276.6 L892.7 276.0 L893.2 275.2 L893.5 274.8 L893.7 274.3 L894.2 273.2 L894.7 271.9 L895.0 271.2 L895.2 270.3 L895.7 268.3 L896.2 265.7 L896.5 264.2 L896.7 262.2 L897.2 257.0 L897.7 250.5 L898.0 247.1 L898.2 243.5 L898.7 235.0 L899.2 228.5 L899.5 226.2 L899.7 224.4 L900.2 224.2 L900.7 228.3 L901.0 231.2 L901.2 235.9 L901.7 246.3 L902.2 253.3 L902.5 256.2 L902.7 258.9 L903.2 263.0 L903.7 265.6 L904.0 266.5 L904.2 267.2 L904.7 268.5 L905.2 269.5 L905.5 269.9 L905.7 270.2 L906.2 270.8 L906.7 271.3 L907.0 271.5 L907.2 271.7 L907.7 272.0 L908.2 272.3 L908.5 272.4 L908.7 272.5 L909.2 272.7 L909.7 272.9 L910.0 273.0 L910.2 273.1 L910.7 273.3 L911.2 273.5 L911.5 273.6 L911.7 273.7 L912.2 273.8 L912.7 273.9 L913.0 274.0 L913.2 274.0 L913.7 274.1 L914.2 274.0 L914.5 274.0 L914.7 273.9 L915.2 273.6 L915.7 273.3 L916.0 273.1 L916.2 272.9 L916.7 272.4 L917.2 271.8 L917.5 271.5 L917.7 271.2 L918.2 270.6 L918.7 270.0 L919.0 269.7 L919.2 269.4 L919.7 268.6 L920.2 267.7 L920.5 267.2 L920.7 266.7 L921.2 265.6 L921.7 264.5 L922.0 263.9 L922.2 263.3 L922.7 262.2 L923.2 261.0 L923.5 260.4 L923.7 259.9 L924.2 258.8 L924.7 257.7 L925.0 257.2 L925.2 256.6 L925.7 255.6 L926.2 254.6 L926.5 254.1 L926.7 253.6 L927.2 252.5 L927.7 251.5 L928.0 250.9 L928.2 250.3 L928.7 249.1 L929.2 247.6 L929.5 246.7 L929.7 245.8 L930.2 243.7 L930.7 240.9 L931.0 239.1 L931.2 237.2 L931.7 232.8 L932.2 227.8 L932.5 225.2 L932.7 222.5 L933.2 216.5 L933.7 211.7 L934.0 209.7 L934.2 207.9 L934.7 207.5 L935.2 211.3 L935.5 214.0 L935.7 218.5 L936.2 229.1 L936.7 236.1 L937.0 239.0 L937.2 241.6 L937.7 245.3 L938.2 247.1 L938.5 247.8 L938.7 248.4 L939.2 249.3 L939.7 250.0 L940.0 250.2 L940.2 250.5 L940.7 250.8 L941.2 251.0 L941.5 251.1 L941.7 251.1 L942.2 251.2 L942.7 251.3 L943.0 251.3 L943.2 251.3 L943.7 251.4 L944.2 251.4 L944.5 251.4 L944.7 251.5 L945.2 251.5 L945.7 251.5 L946.0 251.6 L946.2 251.6 L946.7 251.6 L947.2 251.7 L947.5 251.7 L947.7 251.7 L948.2 251.7 L948.7 251.8 L949.0 251.9 L949.2 251.9 L949.7 252.0 L950.2 252.1 L950.5 252.2 L950.7 252.3 L951.2 252.4 L951.7 252.6 L952.0 252.7 L952.2 252.7 L952.7 252.9 L953.2 253.0 L953.5 253.1 L953.7 253.1 L954.2 253.3 L954.7 253.4 L955.0 253.4 L955.2 253.4 L955.7 253.5 L956.2 253.5 L956.5 253.5 L956.7 253.4 L957.2 253.3 L957.7 253.1 L958.0 253.0 L958.2 252.8 L958.7 252.5 L959.2 252.2 L959.5 252.0 L959.7 251.8 L960.2 251.4 L960.7 251.0 L961.0 250.8 L961.2 250.6 L961.7 250.1 L962.2 249.7 L962.5 249.5 L962.7 249.2 L963.2 248.7 L963.7 248.1 L964.0 247.8 L964.2 247.4 L964.7 246.7 L965.5 245.6 L967.0 243.2 L968.5 240.7 L970.0 238.2 L971.5 235.8 L973.0 233.3 L974.5 230.6 L976.0 227.8 L977.5 224.9 L979.0 221.7 L980.5 218.3 L982.0 214.5 L983.5 210.4 L985.0 206.1 L986.5 201.6 L988.0 196.9 L989.5 192.3 L991.0 187.7 L992.5 183.2 L994.0 178.7 L995.5 174.1 L997.0 169.3 L998.5 164.6 L1000.0 159.9 L1001.5 155.3 L1003.0 150.8 L1004.5 146.6 L1006.0 142.7 L1007.5 139.0 L1009.0 135.4 L1010.5 131.9 L1012.0 128.6 L1013.5 125.5 L1015.0 122.8 L1016.5 120.4 L1018.0 118.2 L1019.5 116.1 L1021.0 114.4 L1022.5 113.1 L1024.0 112.1 L1025.5 111.3 L1027.0 110.6 L1028.5 110.0 L1030.0 109.4 L1031.5 109.0 L1033.0 108.6 L1034.5 108.3 L1036.0 107.9 L1037.5 107.5 L1039.0 107.1 L1040.5 106.6 L1042.0 106.1 L1043.5 105.6 L1045.0 104.9 L1046.5 104.2 L1048.0 103.4 L1049.5 102.4 L1051.0 101.1 L1052.5 99.8 L1054.0 98.3 L1055.5 96.7 L1057.0 95.2 L1058.5 93.7 L1060.0 92.2 L1061.5 90.7 L1063.0 89.1 L1064.5 87.5 L1066.0 85.8 L1067.5 84.3 L1069.0 82.8 L1070.5 81.4 L1072.0 80.1 L1073.5 78.9 L1075.0 77.8 L1076.5 76.8 L1078.0 76.0 L1079.5 75.3 L1081.0 74.7 L1082.5 74.5 L1084.0 74.8 L1085.5 75.4 L1087.0 76.1 L1088.5 77.2 L1090.0 78.7 L1091.5 80.6 L1093.0 82.5 L1094.5 84.7 L1096.0 87.2 L1097.5 89.9 L1099.0 92.8 L1100.5 96.0 L1102.0 99.3 L1103.5 102.9 L1105.0 107.2 L1106.5 111.8 L1108.0 116.6 L1109.5 121.4 L1111.0 126.2 L1112.5 130.6 L1114.0 134.9 L1115.5 139.2 L1117.0 143.5 L1118.5 147.7 L1120.0 151.9 L1121.5 155.9 L1123.0 159.9 L1124.5 163.8 L1126.0 167.5 L1127.5 171.1 L1129.0 174.7 L1130.5 178.1 L1132.0 181.5 L1133.5 184.8 L1135.0 188.1 L1136.5 191.3 L1138.0 194.5 L1139.5 197.7 L1141.0 200.7 L1142.5 203.6 L1144.0 206.5 L1145.5 209.4 L1147.0 212.3 L1148.5 215.2 L1150.0 218.3 L1151.5 221.5 L1153.0 224.9 L1154.5 228.5 L1156.0 232.4 L1157.5 236.3 L1159.0 240.2 L1160.5 244.0 L1162.0 247.6 L1163.5 251.1 L1165.0 254.8 L1166.5 258.4 L1168.0 261.9 L1169.5 265.0 L1171.0 267.7 L1172.5 269.9 L1174.0 271.8 L1175.5 273.6 L1177.0 275.2 L1178.5 276.6 L1180.0 277.8 L1181.5 278.8 L1183.0 279.7 L1184.5 280.4 L1186.0 281.2 L1187.5 281.8 L1189.0 282.4 L1190.5 283.0 L1192.0 283.4 L1193.5 283.7 L1195.0 284.0 L1196.5 284.2 L1198.0 284.4 L1199.5 284.5 L1201.0 284.7 L1202.5 284.9 L1204.0 285.0 L1205.5 285.1 L1207.0 285.2 L1208.5 285.3 L1210.0 285.4 L1211.5 285.5 L1213.0 285.6 L1214.5 285.6 L1216.0 285.7 L1217.5 285.7 L1219.0 285.7 L1220.5 285.7 L1222.0 285.7 L1223.5 285.7 L1225.0 285.7 L1226.5 285.7 L1228.0 285.7 L1229.5 285.7 L1231.0 285.7 L1232.5 285.7 L1234.0 285.7 L1235.5 285.7 L1237.0 285.6 L1238.5 285.6 L1240.0 285.6 L1241.5 285.6 L1243.0 285.6 L1244.5 285.6 L1246.0 285.6 L1247.5 285.6 L1249.0 285.5 L1250.5 285.5 L1252.0 285.5 L1253.5 285.5 L1255.0 285.4 L1256.5 285.4 L1258.0 285.4 L1259.5 285.3 L1261.0 285.3 L1262.5 285.2 L1264.0 285.2 L1265.5 285.1 L1267.0 285.1 L1268.0 285.0"/>
</g>
<g stroke="#000" stroke-width="6" stroke-dasharray="21.6 21.8" fill="none">
<path d="M323.2 214.5V910"/>
<path d="M455.6 216.5V920"/>
<path d="M899.4 189.5V906"/>
<path d="M932.9 132.5V917"/>
</g>
</g>
<g filter="url(#bt)">
<g font-family="'Liberation Serif', 'Times New Roman', serif" fill="#000" stroke="#fff" stroke-width="0.011em" paint-order="fill stroke">
<g font-size="56" text-anchor="middle">
<text x="153.7" y="997.5">500</text>
<text x="313.1" y="997.5">1000</text>
<text x="472.6" y="997.5">1500</text>
<text x="632.0" y="997.5">2000</text>
<text x="791.5" y="997.5">2500</text>
<text x="951.0" y="997.5">3000</text>
<text x="1110.4" y="997.5">3500</text>
<text x="1269.9" y="997.5">4000</text>
<text x="1429.3" y="997.5">4500</text>
<text x="311.2" y="187.5">1031</text>
<text x="477" y="187.5">1451</text>
<text x="833" y="182">2840</text>
<text x="941.8" y="101">2944</text>
</g>
<g font-size="48.5">
<text x="1288" y="301.5">1:20</text>
<text x="1288" y="437.5">1:10</text>
<text x="1294" y="608.5">1:6</text>
<text x="1295" y="660.5">1:3</text>
<text x="1298" y="723.5">1:2</text>
<text x="1295.5" y="786">3:1</text>
<text x="1296" y="830.5">6:1</text>
<text x="1273.5" y="876.5">10:1</text>
</g>
<text x="1275.5" y="922.5" font-size="44.5">CH<tspan font-size="42" dy="13.5" dx="-2">3</tspan><tspan dy="-13.5" dx="-1">OH</tspan></text>
<text x="470" y="1097" font-size="76.7" style="font-kerning:none">Wavenumber / cm<tspan font-size="47" dy="-32">-1</tspan></text>
<text transform="translate(74.3 825) rotate(-90) scale(1 1.045)" font-size="77" style="font-kerning:none">Raman Intensity / a.u.</text>
</g>
</g>
<g filter="url(#bl)" stroke="#000" fill="none">
<rect x="151.4" y="32" width="1308.4" height="909" stroke-width="7.3"/>
<path d="M151.7 938V922 M231.4 938V931.3 M311.1 938V922 M390.9 938V931.3 M470.6 938V922 M550.3 938V931.3 M630.0 938V922 M709.8 938V931.3 M789.5 938V922 M869.2 938V931.3 M949.0 938V922 M1028.7 938V931.3 M1108.4 938V922 M1188.1 938V931.3 M1267.9 938V922 M1347.6 938V931.3 M1427.3 938V922" stroke-width="6"/>
</g>
</svg>
</body></html>
